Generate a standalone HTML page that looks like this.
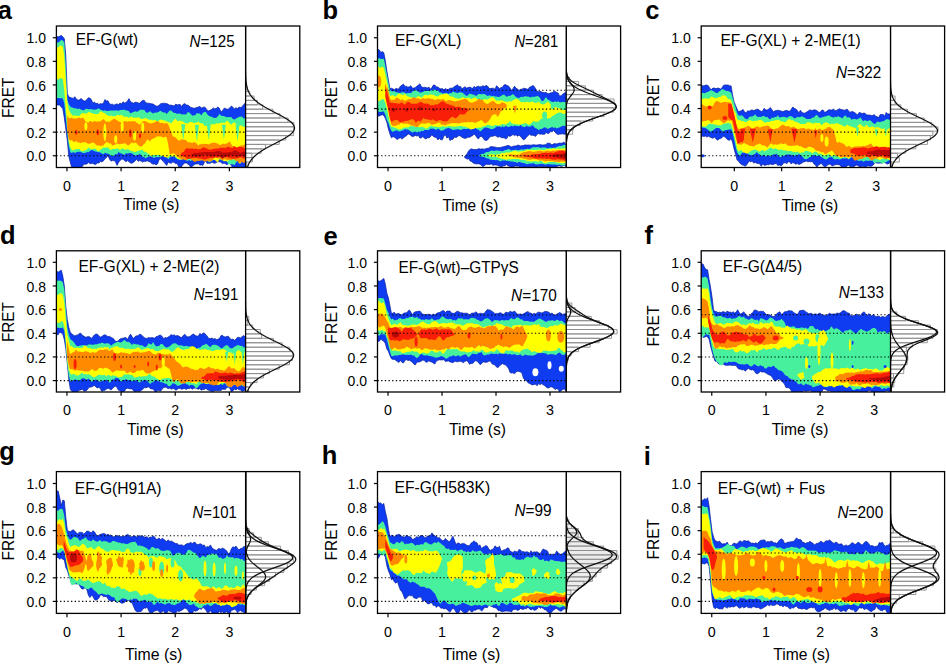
<!DOCTYPE html>
<html><head><meta charset="utf-8"><style>
html,body{margin:0;padding:0;background:#fff;overflow:hidden;}
svg{display:block;}
text{font-family:"Liberation Sans", sans-serif;font-size:15.5px;fill:#000;}
text.L{font-size:16.3px;}
</style></head><body>
<svg width="946" height="664" viewBox="0 0 946 664">
<rect width="946" height="664" fill="#fff"/>
<clipPath id="clipa"><rect x="56.4" y="26" width="189.2" height="141.5"/></clipPath>
<g clip-path="url(#clipa)">
<path d="M50.7,40.2 52.2,39.3 53.7,38.1 55.2,37.7 56.7,36.8 58.2,36.7 59.8,36.3 61.3,35.3 62.8,37.1 64.3,38.4 65.8,56.0 67.3,93.4 68.8,97.0 70.3,97.3 71.8,98.1 73.3,98.4 74.8,96.7 76.3,98.9 77.8,100.0 79.3,100.1 80.8,98.5 82.3,99.4 83.8,100.9 85.4,100.9 86.9,99.5 88.4,97.8 89.9,98.1 91.4,99.7 92.9,103.2 94.4,102.0 95.9,103.6 97.4,103.3 98.9,104.4 100.4,103.6 101.9,104.0 103.4,103.2 104.9,99.5 106.4,100.9 107.9,100.7 109.4,103.6 111.0,104.4 112.5,104.2 114.0,105.2 115.5,104.3 117.0,103.9 118.5,104.5 120.0,103.1 121.5,104.0 123.0,101.8 124.5,103.0 126.0,102.5 127.5,101.1 129.0,98.6 130.5,101.7 132.0,102.6 133.5,103.2 135.1,102.2 136.6,102.3 138.1,102.9 139.6,103.3 141.1,101.6 142.6,100.6 144.1,100.2 145.6,102.4 147.1,103.2 148.6,103.2 150.1,103.5 151.6,103.8 153.1,104.1 154.6,105.1 156.1,106.1 157.6,106.2 159.1,105.2 160.7,103.7 162.2,103.4 163.7,103.2 165.2,103.4 166.7,103.6 168.2,104.3 169.7,105.2 171.2,105.1 172.7,105.6 174.2,106.0 175.7,104.1 177.2,104.9 178.7,104.6 180.2,104.6 181.7,106.7 183.2,104.3 184.7,103.6 186.3,104.9 187.8,105.2 189.3,106.0 190.8,107.6 192.3,107.8 193.8,108.3 195.3,108.1 196.8,107.3 198.3,107.2 199.8,106.3 201.3,108.1 202.8,107.5 204.3,106.9 205.8,108.1 207.3,110.4 208.8,110.9 210.4,110.1 211.9,109.3 213.4,107.9 214.9,108.9 216.4,108.3 217.9,106.9 219.4,108.3 220.9,111.7 222.4,110.9 223.9,108.4 225.4,108.3 226.9,109.3 228.4,109.0 229.9,107.7 231.4,106.0 232.9,107.3 234.4,108.9 236.0,107.7 237.5,108.6 239.0,107.1 240.5,107.5 242.0,106.9 243.5,104.7 245.0,103.3 246.5,103.2 248.0,103.4 249.5,107.1 251.0,108.6 251.0,168.5 249.5,169.7 248.0,171.2 246.5,170.5 245.0,168.4 243.5,169.1 242.0,167.2 240.5,167.3 239.0,167.6 237.5,167.7 236.0,168.2 234.4,167.9 232.9,168.2 231.4,165.5 229.9,163.6 228.4,163.4 226.9,164.8 225.4,163.8 223.9,163.1 222.4,163.8 220.9,162.0 219.4,161.8 217.9,161.7 216.4,162.4 214.9,163.3 213.4,163.0 211.9,162.0 210.4,163.2 208.8,163.2 207.3,163.5 205.8,161.3 204.3,162.3 202.8,165.5 201.3,164.7 199.8,165.2 198.3,163.5 196.8,164.0 195.3,164.0 193.8,165.0 192.3,166.3 190.8,167.5 189.3,164.9 187.8,164.1 186.3,162.9 184.7,163.1 183.2,164.3 181.7,166.2 180.2,169.4 178.7,166.7 177.2,163.4 175.7,163.8 174.2,162.4 172.7,162.0 171.2,163.2 169.7,162.9 168.2,162.1 166.7,165.4 165.2,163.7 163.7,161.8 162.2,160.5 160.7,158.7 159.1,159.5 157.6,163.9 156.1,164.8 154.6,164.0 153.1,164.1 151.6,163.5 150.1,161.8 148.6,161.4 147.1,160.7 145.6,161.4 144.1,161.3 142.6,162.0 141.1,161.0 139.6,160.6 138.1,161.3 136.6,159.1 135.1,160.9 133.5,162.3 132.0,163.2 130.5,162.9 129.0,161.8 127.5,160.6 126.0,161.8 124.5,160.6 123.0,159.0 121.5,159.3 120.0,160.4 118.5,162.6 117.0,165.4 115.5,161.8 114.0,160.5 112.5,160.6 111.0,161.1 109.4,159.1 107.9,155.2 106.4,157.7 104.9,158.8 103.4,160.9 101.9,161.9 100.4,161.3 98.9,163.1 97.4,163.0 95.9,164.3 94.4,164.4 92.9,163.2 91.4,163.7 89.9,163.5 88.4,162.5 86.9,163.9 85.4,164.2 83.8,164.2 82.3,166.4 80.8,169.0 79.3,167.4 77.8,167.8 76.3,167.7 74.8,169.4 73.3,170.0 71.8,167.7 70.3,162.3 68.8,156.3 67.3,140.6 65.8,128.9 64.3,117.8 62.8,108.6 61.3,107.2 59.8,105.0 58.2,105.1 56.7,104.9 55.2,106.1 53.7,106.1 52.2,105.8 50.7,105.2Z" fill="#0f3cf0" stroke="#0a1e9c" stroke-width="0.7" stroke-linejoin="round"/>
<path d="M50.7,42.2 52.2,40.1 53.7,41.2 55.2,41.9 56.7,42.0 58.2,42.7 59.8,41.2 61.3,39.9 62.8,40.5 64.3,42.6 65.8,65.3 67.3,99.7 68.8,104.2 70.3,106.5 71.8,107.6 73.3,107.7 74.8,108.4 76.3,108.2 77.8,109.3 79.3,108.6 80.8,109.4 82.3,110.1 83.8,110.4 85.4,108.9 86.9,108.8 88.4,109.3 89.9,109.3 91.4,108.9 92.9,109.8 94.4,109.5 95.9,109.7 97.4,108.7 98.9,108.6 100.4,109.4 101.9,110.3 103.4,110.7 104.9,110.3 106.4,110.9 107.9,111.0 109.4,110.7 111.0,110.4 112.5,110.6 114.0,110.6 115.5,110.5 117.0,110.3 118.5,111.0 120.0,110.0 121.5,109.9 123.0,109.7 124.5,109.8 126.0,110.4 127.5,110.4 129.0,111.2 130.5,113.6 132.0,112.4 133.5,111.9 135.1,111.2 136.6,111.8 138.1,111.4 139.6,109.9 141.1,109.5 142.6,110.1 144.1,109.8 145.6,111.8 147.1,113.0 148.6,112.0 150.1,111.3 151.6,112.6 153.1,113.4 154.6,112.5 156.1,112.7 157.6,112.3 159.1,111.5 160.7,110.8 162.2,112.0 163.7,112.6 165.2,112.6 166.7,114.0 168.2,112.3 169.7,110.4 171.2,110.6 172.7,111.9 174.2,113.0 175.7,112.9 177.2,114.1 178.7,113.6 180.2,113.4 181.7,114.4 183.2,114.3 184.7,114.4 186.3,114.3 187.8,111.9 189.3,112.6 190.8,114.0 192.3,115.8 193.8,115.3 195.3,115.2 196.8,112.9 198.3,113.6 199.8,113.5 201.3,115.5 202.8,113.0 204.3,111.9 205.8,112.0 207.3,114.2 208.8,115.8 210.4,116.5 211.9,116.7 213.4,117.7 214.9,118.0 216.4,117.8 217.9,116.3 219.4,114.0 220.9,115.5 222.4,115.9 223.9,116.0 225.4,116.8 226.9,117.3 228.4,117.1 229.9,117.2 231.4,117.1 232.9,118.9 234.4,119.6 236.0,118.6 237.5,117.7 239.0,116.7 240.5,116.7 242.0,116.4 243.5,118.5 245.0,118.2 246.5,118.4 248.0,119.4 249.5,118.9 251.0,118.9 251.0,162.8 249.5,163.4 248.0,162.5 246.5,161.0 245.0,161.2 243.5,160.8 242.0,160.6 240.5,160.7 239.0,160.1 237.5,161.2 236.0,162.6 234.4,165.3 232.9,164.2 231.4,164.3 229.9,164.2 228.4,164.8 226.9,161.0 225.4,159.7 223.9,160.0 222.4,160.5 220.9,159.9 219.4,159.5 217.9,159.1 216.4,160.0 214.9,159.6 213.4,160.0 211.9,161.0 210.4,161.7 208.8,162.3 207.3,160.6 205.8,159.3 204.3,160.0 202.8,160.0 201.3,160.3 199.8,159.9 198.3,160.1 196.8,160.7 195.3,159.9 193.8,159.9 192.3,159.5 190.8,161.3 189.3,160.1 187.8,160.8 186.3,160.5 184.7,159.2 183.2,158.7 181.7,160.1 180.2,160.0 178.7,159.5 177.2,158.9 175.7,158.0 174.2,156.3 172.7,155.3 171.2,156.9 169.7,157.6 168.2,159.6 166.7,156.6 165.2,155.7 163.7,155.1 162.2,156.1 160.7,157.2 159.1,157.1 157.6,157.3 156.1,156.9 154.6,157.7 153.1,157.6 151.6,156.7 150.1,156.3 148.6,156.8 147.1,157.2 145.6,158.2 144.1,156.9 142.6,156.8 141.1,155.0 139.6,153.8 138.1,155.1 136.6,155.1 135.1,155.7 133.5,154.4 132.0,153.6 130.5,152.9 129.0,153.1 127.5,153.7 126.0,153.1 124.5,155.1 123.0,154.3 121.5,153.6 120.0,152.9 118.5,152.1 117.0,154.4 115.5,154.1 114.0,155.5 112.5,156.2 111.0,155.8 109.4,154.3 107.9,153.8 106.4,153.2 104.9,152.8 103.4,154.2 101.9,153.4 100.4,152.6 98.9,152.2 97.4,151.9 95.9,151.5 94.4,151.2 92.9,150.3 91.4,149.9 89.9,150.9 88.4,152.3 86.9,152.1 85.4,153.0 83.8,152.9 82.3,152.7 80.8,152.1 79.3,151.7 77.8,151.8 76.3,152.3 74.8,153.1 73.3,152.1 71.8,153.1 70.3,152.2 68.8,146.1 67.3,133.4 65.8,117.3 64.3,103.5 62.8,98.6 61.3,98.2 59.8,98.3 58.2,97.9 56.7,98.1 55.2,99.3 53.7,100.1 52.2,98.4 50.7,96.9Z" fill="#46f09c"/>
<path d="M50.7,49.1 52.2,49.7 53.7,49.0 55.2,48.6 56.7,47.6 58.2,47.2 59.8,45.4 61.3,45.8 62.8,46.8 64.3,56.9 65.8,80.6 67.3,102.1 68.8,109.6 70.3,112.8 71.8,114.6 73.3,115.9 74.8,115.2 76.3,115.6 77.8,116.1 79.3,116.0 80.8,114.2 82.3,113.1 83.8,113.2 85.4,113.5 86.9,113.6 88.4,112.1 89.9,112.3 91.4,112.9 92.9,113.5 94.4,113.9 95.9,114.1 97.4,114.2 98.9,113.4 100.4,111.2 101.9,111.7 103.4,112.7 104.9,113.2 106.4,114.7 107.9,115.6 109.4,116.1 111.0,115.5 112.5,116.2 114.0,116.1 115.5,116.5 117.0,114.8 118.5,115.2 120.0,115.4 121.5,114.6 123.0,116.2 124.5,116.8 126.0,116.8 127.5,116.9 129.0,117.8 130.5,117.0 132.0,116.5 133.5,117.9 135.1,117.4 136.6,117.7 138.1,117.3 139.6,117.7 141.1,119.2 142.6,118.8 144.1,118.6 145.6,117.8 147.1,118.7 148.6,119.6 150.1,120.0 151.6,119.5 153.1,120.5 154.6,119.9 156.1,120.3 157.6,121.9 159.1,120.3 160.7,119.4 162.2,120.1 163.7,120.5 165.2,120.6 166.7,121.6 168.2,121.9 169.7,122.5 171.2,123.4 172.7,121.5 174.2,119.7 175.7,118.5 177.2,121.2 178.7,121.1 180.2,120.6 181.7,121.3 183.2,121.4 184.7,122.9 186.3,123.2 187.8,123.5 189.3,122.6 190.8,121.8 192.3,122.6 193.8,122.8 195.3,123.0 196.8,122.6 198.3,121.5 199.8,123.0 201.3,123.3 202.8,123.2 204.3,125.5 205.8,126.1 207.3,125.4 208.8,125.8 210.4,123.9 211.9,124.8 213.4,124.1 214.9,124.4 216.4,122.7 217.9,123.9 219.4,122.9 220.9,122.7 222.4,122.8 223.9,122.8 225.4,122.4 226.9,120.6 228.4,121.7 229.9,123.8 231.4,124.7 232.9,123.1 234.4,122.3 236.0,124.0 237.5,125.5 239.0,125.6 240.5,125.6 242.0,125.4 243.5,127.0 245.0,126.5 246.5,125.6 248.0,125.3 249.5,124.9 251.0,125.4 251.0,160.6 249.5,160.5 248.0,159.7 246.5,160.0 245.0,160.9 243.5,160.7 242.0,160.8 240.5,163.5 239.0,163.5 237.5,160.3 236.0,158.7 234.4,159.1 232.9,159.5 231.4,158.9 229.9,158.9 228.4,160.7 226.9,161.5 225.4,161.1 223.9,161.5 222.4,159.3 220.9,159.3 219.4,159.0 217.9,162.4 216.4,161.4 214.9,160.0 213.4,159.7 211.9,159.3 210.4,158.9 208.8,158.4 207.3,157.5 205.8,157.9 204.3,156.8 202.8,156.2 201.3,155.7 199.8,156.4 198.3,156.9 196.8,157.6 195.3,157.4 193.8,156.8 192.3,156.1 190.8,156.9 189.3,157.8 187.8,157.8 186.3,157.3 184.7,157.4 183.2,158.2 181.7,158.3 180.2,159.6 178.7,159.1 177.2,158.4 175.7,156.4 174.2,156.0 172.7,156.8 171.2,155.5 169.7,155.7 168.2,157.6 166.7,157.6 165.2,157.3 163.7,156.6 162.2,155.7 160.7,155.7 159.1,154.8 157.6,154.9 156.1,155.1 154.6,155.0 153.1,154.9 151.6,156.4 150.1,155.1 148.6,153.8 147.1,153.2 145.6,151.3 144.1,152.0 142.6,149.8 141.1,150.1 139.6,150.5 138.1,150.7 136.6,151.5 135.1,152.0 133.5,151.7 132.0,150.8 130.5,151.0 129.0,149.6 127.5,149.2 126.0,149.4 124.5,149.5 123.0,148.7 121.5,148.5 120.0,150.4 118.5,148.6 117.0,148.6 115.5,148.9 114.0,149.1 112.5,149.1 111.0,150.2 109.4,149.1 107.9,147.2 106.4,147.4 104.9,147.7 103.4,147.6 101.9,148.8 100.4,149.6 98.9,151.4 97.4,150.7 95.9,149.1 94.4,148.5 92.9,149.1 91.4,149.6 89.9,148.5 88.4,147.6 86.9,149.4 85.4,150.3 83.8,150.9 82.3,151.3 80.8,150.5 79.3,149.0 77.8,149.1 76.3,148.9 74.8,149.5 73.3,150.7 71.8,149.6 70.3,147.7 68.8,141.3 67.3,124.7 65.8,108.4 64.3,90.9 62.8,78.4 61.3,78.4 59.8,77.9 58.2,79.7 56.7,78.7 55.2,77.8 53.7,80.0 52.2,79.4 50.7,80.8Z" fill="#ffff00"/>
<path d="M67.2,115.3 68.7,118.1 70.2,118.3 71.7,117.6 73.3,118.7 74.8,118.4 76.3,118.5 77.8,117.9 79.3,117.6 80.8,118.6 82.3,117.7 83.8,118.4 85.3,121.3 86.8,122.0 88.3,122.7 89.8,120.9 91.3,121.2 92.8,122.3 94.3,120.7 95.8,121.4 97.4,121.5 98.9,121.4 100.4,121.2 101.9,120.2 103.4,119.1 104.9,120.5 106.4,121.9 107.9,121.6 109.4,122.0 110.9,120.8 112.4,119.7 113.9,118.4 115.4,119.2 116.9,120.3 118.4,120.9 120.0,122.3 121.5,121.7 123.0,122.0 124.5,121.2 126.0,121.0 127.5,121.9 129.0,121.1 130.5,121.4 132.0,121.2 133.5,121.2 135.0,121.3 136.5,122.4 138.0,123.4 139.5,124.7 141.0,123.6 142.5,121.5 144.1,120.9 145.6,121.3 147.1,122.0 148.6,122.7 150.1,123.2 151.6,123.6 153.1,122.7 154.6,122.4 156.1,121.3 157.6,121.2 159.1,122.2 160.6,123.1 162.1,122.7 163.6,123.3 165.1,123.4 166.7,122.8 168.2,124.6 169.7,128.3 171.2,132.0 172.7,136.2 174.2,136.7 175.7,137.4 177.2,139.3 178.7,140.4 180.2,140.2 181.7,139.1 183.2,139.7 184.7,139.7 186.2,140.3 187.7,142.2 189.2,142.3 190.8,142.5 192.3,142.9 193.8,142.1 195.3,142.4 196.8,143.6 198.3,145.7 199.8,143.9 201.3,144.6 202.8,143.7 204.3,144.1 205.8,143.8 207.3,144.0 208.8,144.4 210.3,143.5 211.8,142.9 213.4,142.4 214.9,142.8 216.4,143.2 217.9,143.6 219.4,145.0 220.9,144.7 222.4,143.7 223.9,143.8 225.4,144.0 226.9,143.2 228.4,142.5 229.9,141.2 231.4,144.5 232.9,146.3 234.4,145.8 235.9,147.7 237.5,147.9 239.0,146.8 240.5,145.5 242.0,145.3 243.5,145.2 245.0,144.1 246.5,144.2 248.0,143.3 249.5,144.5 251.0,144.4 251.0,157.7 249.5,159.5 248.0,161.1 246.5,161.9 245.0,162.5 243.5,162.9 242.0,161.9 240.5,162.2 239.0,162.9 237.5,160.8 235.9,161.1 234.4,159.8 232.9,158.8 231.4,160.2 229.9,160.1 228.4,160.0 226.9,160.3 225.4,159.2 223.9,159.4 222.4,160.4 220.9,159.5 219.4,158.6 217.9,158.3 216.4,157.6 214.9,157.6 213.4,158.9 211.8,160.7 210.3,161.5 208.8,161.2 207.3,160.8 205.8,161.8 204.3,161.6 202.8,160.5 201.3,160.3 199.8,160.8 198.3,161.0 196.8,160.7 195.3,161.9 193.8,161.5 192.3,160.2 190.8,159.2 189.2,158.6 187.7,159.4 186.2,160.3 184.7,160.1 183.2,159.3 181.7,159.8 180.2,158.4 178.7,157.2 177.2,156.5 175.7,154.8 174.2,153.5 172.7,153.6 171.2,154.1 169.7,154.4 168.2,144.8 166.7,137.5 165.1,136.7 163.6,137.8 162.1,137.0 160.6,136.5 159.1,136.6 157.6,136.3 156.1,137.0 154.6,138.2 153.1,138.5 151.6,139.3 150.1,141.4 148.6,140.2 147.1,139.6 145.6,142.6 144.1,143.9 142.5,145.8 141.0,146.5 139.5,146.4 138.0,144.9 136.5,143.3 135.0,142.4 133.5,143.3 132.0,142.4 130.5,143.5 129.0,145.2 127.5,145.2 126.0,144.1 124.5,143.1 123.0,144.0 121.5,143.7 120.0,144.3 118.4,144.0 116.9,143.3 115.4,144.7 113.9,144.7 112.4,145.7 110.9,143.6 109.4,143.6 107.9,142.6 106.4,142.0 104.9,143.4 103.4,145.4 101.9,145.6 100.4,146.2 98.9,145.2 97.4,145.8 95.8,144.5 94.3,143.1 92.8,142.5 91.3,143.0 89.8,143.8 88.3,143.8 86.8,143.2 85.3,142.0 83.8,142.4 82.3,142.2 80.8,143.3 79.3,142.5 77.8,142.5 76.3,141.1 74.8,142.0 73.3,141.8 71.7,140.1 70.2,140.7 68.7,139.0 67.2,130.5Z" fill="#ff8a00"/>
<ellipse cx="104.9" cy="132.2" rx="1.5" ry="9.0" fill="#ffff00"/>
<ellipse cx="122.2" cy="126.2" rx="1.5" ry="6.0" fill="#ffff00"/>
<ellipse cx="134.6" cy="135.7" rx="1.5" ry="5.0" fill="#ffff00"/>
<path d="M180.6,154.3 182.2,152.6 183.7,151.8 185.2,149.6 186.8,148.1 188.3,148.6 189.8,148.7 191.3,148.4 192.9,148.6 194.4,149.2 195.9,148.3 197.5,149.6 199.0,149.1 200.5,149.2 202.1,148.1 203.6,147.2 205.1,147.9 206.6,148.3 208.2,149.4 209.7,149.4 211.2,149.8 212.8,149.0 214.3,148.8 215.8,148.4 217.4,148.4 218.9,148.5 220.4,147.2 221.9,148.2 223.5,147.6 225.0,148.1 226.5,147.6 228.1,146.6 229.6,147.3 231.1,147.8 232.7,148.0 234.2,146.3 235.7,147.0 237.2,147.6 238.8,146.5 240.3,146.9 241.8,147.0 243.4,147.5 244.9,148.6 246.4,148.3 248.0,148.8 249.5,148.3 251.0,148.6 251.0,157.8 249.5,157.4 248.0,158.3 246.4,158.9 244.9,158.4 243.4,158.5 241.8,157.5 240.3,157.1 238.8,157.9 237.2,158.3 235.7,158.6 234.2,158.6 232.7,159.1 231.1,158.5 229.6,158.0 228.1,157.8 226.5,157.2 225.0,156.1 223.5,155.8 221.9,156.3 220.4,156.8 218.9,156.7 217.4,158.0 215.8,157.2 214.3,157.5 212.8,157.9 211.2,157.9 209.7,158.1 208.2,158.6 206.6,159.1 205.1,159.5 203.6,159.4 202.1,158.9 200.5,158.5 199.0,158.5 197.5,158.2 195.9,157.8 194.4,158.0 192.9,158.1 191.3,158.6 189.8,158.5 188.3,158.9 186.8,158.5 185.2,157.1 183.7,156.7 182.2,155.9 180.6,155.6Z" fill="#f81e08"/>
<path d="M191.5,153.8 193.0,153.8 194.5,152.8 196.0,153.0 197.6,152.9 199.1,152.4 200.6,152.4 202.2,152.2 203.7,151.9 205.2,151.9 206.7,152.1 208.3,152.1 209.8,152.3 211.3,152.0 212.8,152.3 214.4,151.9 215.9,151.5 217.4,150.9 218.9,150.9 220.5,151.3 222.0,152.7 223.5,152.6 225.1,152.6 226.6,152.6 228.1,152.6 229.6,151.8 231.2,152.4 232.7,151.4 234.2,150.6 235.7,150.6 237.3,151.3 238.8,152.1 240.3,152.7 241.9,152.5 243.4,151.4 244.9,151.8 246.4,151.8 248.0,151.2 249.5,150.9 251.0,151.2 251.0,156.4 249.5,156.5 248.0,155.8 246.4,156.0 244.9,156.5 243.4,156.1 241.9,155.9 240.3,155.9 238.8,156.1 237.3,157.6 235.7,156.2 234.2,155.7 232.7,155.6 231.2,155.4 229.6,155.8 228.1,156.3 226.6,156.3 225.1,157.1 223.5,158.0 222.0,158.7 220.5,157.1 218.9,156.0 217.4,155.5 215.9,155.5 214.4,155.9 212.8,155.9 211.3,156.1 209.8,156.0 208.3,155.5 206.7,155.3 205.2,154.8 203.7,154.8 202.2,155.2 200.6,156.3 199.1,156.3 197.6,156.6 196.0,156.8 194.5,156.8 193.0,155.9 191.5,155.7Z" fill="#b80808"/>
<ellipse cx="76.2" cy="132.2" rx="1.2" ry="2.5" fill="#f81e08"/>
<ellipse cx="97.8" cy="132.2" rx="1.2" ry="3.0" fill="#f81e08"/>
<ellipse cx="130.3" cy="133.3" rx="1.2" ry="4.0" fill="#f81e08"/>
<ellipse cx="140.0" cy="135.7" rx="1.2" ry="2.5" fill="#f81e08"/>
<path d="M181.3,124.2 L185.3,124.2 L183.3,140.2Z" fill="#46f09c"/>
<path d="M194.9,124.8 L198.9,124.8 L196.9,141.8Z" fill="#46f09c"/>
<path d="M206.8,124.2 L210.8,124.2 L208.8,140.2Z" fill="#46f09c"/>
<path d="M221.9,124.7 L225.9,124.7 L223.9,139.7Z" fill="#46f09c"/>
<path d="M235.5,124.8 L239.5,124.8 L237.5,141.8Z" fill="#46f09c"/>
<ellipse cx="85.9" cy="126.2" rx="1.5" ry="4.0" fill="#ffff00"/>
<ellipse cx="115.7" cy="139.2" rx="1.5" ry="4.0" fill="#ffff00"/>
<ellipse cx="142.7" cy="127.4" rx="1.5" ry="5.0" fill="#ffff00"/>
</g>
<clipPath id="clipb"><rect x="377.5" y="26" width="188.7" height="141.5"/></clipPath>
<g clip-path="url(#clipb)">
<path d="M371.8,49.4 373.3,47.5 374.8,48.6 376.3,48.5 377.8,49.5 379.3,49.9 380.8,52.5 382.3,51.6 383.8,52.7 385.3,60.4 386.9,71.2 388.4,79.8 389.9,88.6 391.4,88.2 392.9,88.8 394.4,89.8 395.9,88.3 397.4,89.0 398.9,88.7 400.4,86.2 401.9,85.3 403.4,84.1 404.9,86.4 406.4,86.2 407.9,87.2 409.4,86.8 410.9,85.7 412.4,88.2 413.9,88.1 415.4,87.4 416.9,86.2 418.4,85.1 419.9,83.8 421.4,86.7 422.9,87.5 424.4,87.2 425.9,87.6 427.4,87.9 428.9,87.1 430.4,89.2 431.9,87.5 433.4,85.1 434.9,85.1 436.4,86.9 437.9,87.0 439.4,88.3 440.9,88.9 442.4,88.4 443.9,89.9 445.4,88.5 446.9,89.5 448.4,89.4 449.9,88.2 451.4,88.2 452.9,87.9 454.4,86.6 455.9,85.8 457.4,84.7 458.9,86.6 460.4,86.4 462.0,88.7 463.5,87.7 465.0,86.7 466.5,88.0 468.0,87.7 469.5,87.1 471.0,87.7 472.5,88.6 474.0,86.4 475.5,87.5 477.0,86.6 478.5,86.2 480.0,87.0 481.5,86.4 483.0,85.8 484.5,86.4 486.0,85.5 487.5,86.0 489.0,88.2 490.5,88.6 492.0,88.3 493.5,88.2 495.0,89.3 496.5,85.7 498.0,87.0 499.5,88.7 501.0,87.6 502.5,87.3 504.0,85.0 505.5,84.6 507.0,85.5 508.5,86.0 510.0,88.1 511.5,90.2 513.0,88.8 514.5,86.1 516.0,88.3 517.5,88.9 519.0,90.4 520.5,89.3 522.0,89.2 523.5,88.2 525.0,88.6 526.5,88.8 528.0,89.5 529.5,87.2 531.0,86.7 532.5,85.5 534.0,86.3 535.6,88.7 537.1,91.3 538.6,91.7 540.1,91.1 541.6,92.1 543.1,92.5 544.6,92.6 546.1,92.6 547.6,93.4 549.1,93.8 550.6,92.8 552.1,92.8 553.6,91.4 555.1,91.4 556.6,92.4 558.1,92.9 559.6,96.2 561.1,95.7 562.6,94.2 564.1,93.3 565.6,92.2 567.1,93.2 568.6,96.1 570.1,97.2 571.6,96.6 571.6,134.4 570.1,135.2 568.6,135.1 567.1,134.3 565.6,134.0 564.1,134.3 562.6,133.7 561.1,134.1 559.6,134.1 558.1,134.6 556.6,133.8 555.1,132.4 553.6,130.3 552.1,131.8 550.6,131.5 549.1,133.2 547.6,133.5 546.1,132.5 544.6,134.3 543.1,134.3 541.6,134.1 540.1,134.2 538.6,133.6 537.1,134.3 535.6,136.4 534.0,135.5 532.5,135.2 531.0,135.3 529.5,134.3 528.0,135.6 526.5,137.3 525.0,139.0 523.5,140.0 522.0,138.2 520.5,136.5 519.0,135.1 517.5,136.3 516.0,134.7 514.5,135.6 513.0,134.5 511.5,135.4 510.0,136.4 508.5,135.5 507.0,138.2 505.5,138.8 504.0,137.7 502.5,137.8 501.0,137.5 499.5,136.5 498.0,137.3 496.5,136.3 495.0,135.5 493.5,136.1 492.0,136.3 490.5,136.6 489.0,138.1 487.5,140.0 486.0,140.5 484.5,140.1 483.0,137.8 481.5,136.4 480.0,136.4 478.5,138.9 477.0,137.7 475.5,135.4 474.0,134.0 472.5,135.8 471.0,136.3 469.5,137.4 468.0,137.0 466.5,138.0 465.0,138.4 463.5,138.0 462.0,137.2 460.4,136.1 458.9,135.4 457.4,136.9 455.9,137.5 454.4,137.0 452.9,139.4 451.4,139.4 449.9,140.4 448.4,136.4 446.9,138.2 445.4,134.8 443.9,136.1 442.4,139.8 440.9,139.8 439.4,138.4 437.9,139.9 436.4,137.4 434.9,137.2 433.4,136.5 431.9,134.7 430.4,136.8 428.9,137.9 427.4,137.8 425.9,138.9 424.4,138.2 422.9,136.6 421.4,137.8 419.9,138.1 418.4,135.4 416.9,136.1 415.4,135.4 413.9,136.2 412.4,136.6 410.9,135.7 409.4,134.2 407.9,133.9 406.4,135.9 404.9,136.6 403.4,138.1 401.9,139.1 400.4,137.7 398.9,138.3 397.4,139.5 395.9,138.6 394.4,137.1 392.9,136.7 391.4,137.8 389.9,133.9 388.4,129.0 386.9,122.6 385.3,118.3 383.8,115.4 382.3,114.7 380.8,115.2 379.3,116.0 377.8,115.9 376.3,116.5 374.8,116.7 373.3,117.8 371.8,118.7Z" fill="#0f3cf0" stroke="#0a1e9c" stroke-width="0.7" stroke-linejoin="round"/>
<path d="M371.8,57.3 373.3,58.9 374.8,58.3 376.3,58.6 377.8,58.7 379.3,58.3 380.8,59.1 382.3,59.1 383.8,58.7 385.3,66.0 386.9,74.5 388.4,82.6 389.9,89.8 391.4,91.2 392.9,91.4 394.4,91.1 395.9,92.4 397.4,92.3 398.9,92.9 400.4,92.7 401.9,92.5 403.4,92.0 404.9,92.9 406.4,93.4 407.9,93.1 409.4,93.1 410.9,93.2 412.4,91.6 413.9,90.7 415.4,89.5 416.9,90.9 418.4,91.6 419.9,92.7 421.4,92.5 422.9,92.1 424.4,91.0 425.9,90.8 427.4,91.0 428.9,91.1 430.4,90.8 431.9,90.3 433.4,89.5 434.9,89.8 436.4,90.3 437.9,90.5 439.4,92.6 440.9,92.6 442.4,93.6 443.9,93.6 445.4,93.3 446.9,93.1 448.4,93.9 449.9,92.9 451.4,93.3 452.9,91.4 454.4,92.3 455.9,92.5 457.4,93.2 458.9,92.6 460.4,92.2 462.0,92.5 463.5,93.5 465.0,94.7 466.5,96.0 468.0,95.2 469.5,93.4 471.0,94.0 472.5,94.5 474.0,94.7 475.5,95.8 477.0,95.6 478.5,94.0 480.0,94.1 481.5,94.3 483.0,94.1 484.5,93.9 486.0,94.9 487.5,95.9 489.0,95.5 490.5,95.4 492.0,96.2 493.5,95.8 495.0,96.4 496.5,96.6 498.0,97.0 499.5,96.7 501.0,96.0 502.5,95.0 504.0,94.4 505.5,95.7 507.0,96.9 508.5,95.8 510.0,96.1 511.5,95.0 513.0,94.0 514.5,95.5 516.0,96.9 517.5,97.8 519.0,97.9 520.5,97.1 522.0,96.8 523.5,97.1 525.0,96.0 526.5,96.5 528.0,96.6 529.5,97.1 531.0,97.6 532.5,96.4 534.0,96.9 535.6,96.6 537.1,95.9 538.6,96.6 540.1,98.1 541.6,101.1 543.1,101.1 544.6,99.1 546.1,97.0 547.6,99.4 549.1,100.1 550.6,101.2 552.1,102.0 553.6,102.0 555.1,101.2 556.6,101.9 558.1,101.3 559.6,102.3 561.1,102.3 562.6,102.0 564.1,102.0 565.6,102.3 567.1,101.9 568.6,101.9 570.1,101.8 571.6,102.4 571.6,127.2 570.1,126.4 568.6,126.3 567.1,125.9 565.6,126.6 564.1,125.4 562.6,126.1 561.1,126.4 559.6,127.5 558.1,127.7 556.6,128.4 555.1,127.2 553.6,127.9 552.1,126.8 550.6,127.8 549.1,128.3 547.6,129.0 546.1,127.7 544.6,127.2 543.1,128.1 541.6,128.9 540.1,129.1 538.6,130.3 537.1,128.7 535.6,128.2 534.0,127.0 532.5,125.1 531.0,126.4 529.5,126.6 528.0,126.8 526.5,125.4 525.0,127.2 523.5,126.7 522.0,126.5 520.5,124.8 519.0,126.4 517.5,126.1 516.0,126.1 514.5,125.4 513.0,126.5 511.5,125.8 510.0,126.4 508.5,126.9 507.0,126.4 505.5,125.7 504.0,127.4 502.5,126.0 501.0,127.4 499.5,126.3 498.0,126.5 496.5,126.6 495.0,127.9 493.5,128.8 492.0,129.3 490.5,129.0 489.0,128.3 487.5,127.8 486.0,127.5 484.5,127.7 483.0,128.9 481.5,130.6 480.0,131.5 478.5,129.4 477.0,129.4 475.5,127.8 474.0,126.7 472.5,128.2 471.0,128.3 469.5,128.7 468.0,128.7 466.5,129.1 465.0,129.0 463.5,128.7 462.0,129.5 460.4,130.1 458.9,129.4 457.4,129.0 455.9,129.8 454.4,129.5 452.9,130.3 451.4,128.9 449.9,128.4 448.4,127.7 446.9,128.5 445.4,128.8 443.9,130.0 442.4,130.6 440.9,130.8 439.4,129.5 437.9,128.6 436.4,129.9 434.9,129.3 433.4,128.5 431.9,128.8 430.4,128.5 428.9,130.0 427.4,130.0 425.9,129.9 424.4,130.0 422.9,131.3 421.4,130.8 419.9,132.1 418.4,131.4 416.9,132.6 415.4,131.6 413.9,131.7 412.4,132.4 410.9,131.5 409.4,130.6 407.9,129.4 406.4,129.4 404.9,129.0 403.4,130.3 401.9,130.5 400.4,131.2 398.9,131.4 397.4,130.5 395.9,130.6 394.4,131.0 392.9,132.0 391.4,130.8 389.9,127.8 388.4,122.9 386.9,120.0 385.3,114.5 383.8,111.4 382.3,111.5 380.8,112.0 379.3,112.0 377.8,110.7 376.3,110.6 374.8,111.3 373.3,111.8 371.8,111.4Z" fill="#46f09c"/>
<path d="M371.8,66.3 373.3,65.5 374.8,65.3 376.3,64.9 377.8,65.5 379.3,67.7 380.8,67.4 382.3,66.7 383.8,67.9 385.3,74.6 386.9,81.5 388.4,89.0 389.9,96.1 391.4,95.8 392.9,95.0 394.4,96.3 395.9,96.8 397.4,94.7 398.9,93.6 400.4,94.3 401.9,94.5 403.4,95.3 404.9,93.3 406.4,95.7 407.9,96.5 409.4,96.7 410.9,97.4 412.4,97.2 413.9,98.6 415.4,98.2 416.9,97.0 418.4,95.9 419.9,96.8 421.4,97.7 422.9,96.6 424.4,95.0 425.9,94.8 427.4,95.5 428.9,95.1 430.4,94.2 431.9,94.7 433.4,94.8 434.9,95.8 436.4,96.2 437.9,96.4 439.4,95.2 440.9,94.4 442.4,94.4 443.9,93.7 445.4,93.7 446.9,93.8 448.4,94.6 449.9,95.9 451.4,96.8 452.9,96.5 454.4,97.8 455.9,98.2 457.4,98.5 458.9,98.8 460.4,98.5 462.0,97.2 463.5,97.5 465.0,98.2 466.5,98.1 468.0,97.7 469.5,97.7 471.0,99.2 472.5,98.6 474.0,97.7 475.5,97.5 477.0,98.9 478.5,99.9 480.0,100.3 481.5,100.9 483.0,99.8 484.5,99.1 486.0,99.5 487.5,99.4 489.0,98.6 490.5,98.1 492.0,97.1 493.5,97.7 495.0,99.2 496.5,100.9 498.0,100.3 499.5,100.9 501.0,100.0 502.5,100.6 504.0,101.2 505.5,101.6 507.0,102.1 508.5,101.6 510.0,101.3 511.5,101.4 513.0,100.3 514.5,99.5 516.0,98.7 517.5,99.1 519.0,99.9 520.5,101.7 522.0,102.2 523.5,102.0 525.0,102.2 526.5,102.0 528.0,101.8 529.5,102.6 531.0,102.0 532.5,101.5 534.0,102.6 535.6,103.1 537.1,102.8 538.6,101.5 540.1,103.5 541.6,103.9 543.1,104.6 544.6,104.1 546.1,103.0 547.6,101.5 549.1,102.7 550.6,104.4 552.1,106.0 553.6,106.5 555.1,107.0 556.6,107.4 558.1,107.8 559.6,108.4 561.1,108.8 562.6,110.0 564.1,110.1 565.6,110.0 567.1,109.4 568.6,109.3 570.1,110.2 571.6,111.3 571.6,111.8 570.1,110.5 568.6,111.2 567.1,111.6 565.6,113.6 564.1,114.0 562.6,113.8 561.1,112.5 559.6,112.6 558.1,112.7 556.6,113.6 555.1,114.6 553.6,115.5 552.1,116.3 550.6,117.7 549.1,118.3 547.6,118.4 546.1,117.4 544.6,118.0 543.1,118.5 541.6,118.8 540.1,119.5 538.6,121.8 537.1,121.6 535.6,121.9 534.0,120.9 532.5,121.9 531.0,123.5 529.5,124.7 528.0,124.5 526.5,123.2 525.0,123.0 523.5,123.8 522.0,123.8 520.5,124.7 519.0,124.8 517.5,124.1 516.0,124.6 514.5,123.8 513.0,123.9 511.5,123.3 510.0,121.1 508.5,122.9 507.0,123.6 505.5,124.7 504.0,124.1 502.5,124.1 501.0,124.8 499.5,125.2 498.0,125.7 496.5,124.9 495.0,124.8 493.5,126.2 492.0,125.6 490.5,125.7 489.0,124.8 487.5,124.7 486.0,125.7 484.5,126.2 483.0,126.2 481.5,127.4 480.0,127.8 478.5,127.4 477.0,127.9 475.5,127.7 474.0,128.9 472.5,129.0 471.0,129.7 469.5,128.8 468.0,127.6 466.5,127.6 465.0,126.6 463.5,126.7 462.0,126.0 460.4,126.0 458.9,126.3 457.4,126.3 455.9,126.8 454.4,126.5 452.9,126.6 451.4,126.7 449.9,126.0 448.4,126.3 446.9,126.5 445.4,126.7 443.9,126.4 442.4,126.2 440.9,127.1 439.4,127.3 437.9,126.9 436.4,126.9 434.9,126.3 433.4,126.9 431.9,125.7 430.4,126.0 428.9,126.9 427.4,128.2 425.9,128.7 424.4,127.6 422.9,127.2 421.4,126.4 419.9,127.4 418.4,127.1 416.9,126.5 415.4,127.3 413.9,126.1 412.4,126.4 410.9,125.4 409.4,127.0 407.9,127.4 406.4,127.3 404.9,128.0 403.4,127.2 401.9,129.3 400.4,129.2 398.9,129.4 397.4,128.8 395.9,128.0 394.4,127.6 392.9,126.9 391.4,126.9 389.9,123.4 388.4,116.1 386.9,109.1 385.3,102.7 383.8,99.6 382.3,99.1 380.8,99.9 379.3,100.9 377.8,101.5 376.3,100.8 374.8,102.2 373.3,102.5 371.8,100.8Z" fill="#ffff00"/>
<ellipse cx="544.6" cy="115.6" rx="2.5" ry="4.0" fill="#46f09c"/>
<ellipse cx="552.7" cy="106.2" rx="2.0" ry="3.0" fill="#46f09c"/>
<ellipse cx="558.1" cy="116.8" rx="3.0" ry="3.0" fill="#46f09c"/>
<ellipse cx="378.8" cy="81.4" rx="2.5" ry="6.0" fill="#ff8a00"/>
<path d="M386.9,85.2 388.5,91.8 390.0,98.6 391.5,100.2 393.0,99.7 394.5,99.8 396.1,97.7 397.6,97.8 399.1,98.7 400.6,100.2 402.1,98.8 403.6,100.2 405.2,100.7 406.7,99.9 408.2,99.2 409.7,98.7 411.2,98.9 412.7,97.6 414.3,97.3 415.8,98.3 417.3,98.5 418.8,98.2 420.3,99.4 421.8,98.6 423.4,98.3 424.9,98.8 426.4,98.5 427.9,98.3 429.4,98.2 430.9,99.1 432.5,98.8 434.0,99.8 435.5,99.9 437.0,99.3 438.5,98.9 440.1,99.4 441.6,99.5 443.1,98.8 444.6,100.0 446.1,101.3 447.6,100.3 449.2,100.0 450.7,100.2 452.2,100.9 453.7,101.0 455.2,101.7 456.7,101.0 458.3,100.7 459.8,100.4 461.3,99.7 462.8,99.4 464.3,98.8 465.8,98.8 467.4,99.7 468.9,101.7 470.4,102.4 471.9,102.8 473.4,102.3 474.9,101.5 476.5,100.9 478.0,99.5 479.5,98.5 481.0,99.9 482.5,99.6 484.1,102.1 485.6,103.3 487.1,104.0 488.6,103.4 490.1,102.0 491.6,101.6 493.2,100.7 494.7,102.0 496.2,103.6 497.7,103.9 499.2,104.0 500.7,103.5 502.3,101.9 503.8,102.9 505.3,103.4 506.8,104.9 506.8,107.2 505.3,108.2 503.8,108.2 502.3,110.9 500.7,111.2 499.2,114.8 497.7,116.9 496.2,114.8 494.7,114.2 493.2,114.7 491.6,116.1 490.1,119.3 488.6,120.9 487.1,122.2 485.6,123.4 484.1,123.1 482.5,121.0 481.0,120.1 479.5,121.3 478.0,121.6 476.5,122.5 474.9,122.9 473.4,122.3 471.9,122.0 470.4,122.3 468.9,122.2 467.4,122.1 465.8,122.7 464.3,121.9 462.8,122.7 461.3,122.6 459.8,123.6 458.3,123.5 456.7,123.2 455.2,123.2 453.7,123.1 452.2,123.4 450.7,123.1 449.2,124.1 447.6,124.2 446.1,124.9 444.6,125.5 443.1,124.5 441.6,125.1 440.1,123.1 438.5,122.4 437.0,123.4 435.5,124.1 434.0,123.9 432.5,124.7 430.9,124.5 429.4,123.1 427.9,122.7 426.4,123.5 424.9,123.8 423.4,123.4 421.8,123.4 420.3,124.1 418.8,125.7 417.3,127.0 415.8,126.9 414.3,126.0 412.7,125.6 411.2,125.5 409.7,124.4 408.2,123.9 406.7,123.6 405.2,123.7 403.6,123.8 402.1,123.3 400.6,123.0 399.1,124.8 397.6,124.5 396.1,125.9 394.5,125.8 393.0,125.9 391.5,124.7 390.0,118.2 388.5,105.5 386.9,94.9Z" fill="#ff8a00"/>
<path d="M512.9,105.7 L516.9,105.7 L514.9,113.7Z" fill="#ff8a00"/>
<path d="M385.3,83.4 386.9,90.5 388.4,96.7 389.9,102.4 391.4,102.8 392.9,102.7 394.5,103.3 396.0,103.1 397.5,103.6 399.0,103.7 400.5,102.9 402.1,102.2 403.6,104.1 405.1,104.4 406.6,102.5 408.2,101.7 409.7,102.6 411.2,103.7 412.7,103.8 414.2,103.8 415.8,103.8 417.3,103.4 418.8,102.8 420.3,101.8 421.8,102.3 423.4,103.3 424.9,103.8 426.4,103.5 427.9,103.8 429.5,104.6 431.0,105.4 432.5,104.7 434.0,105.4 435.5,103.9 437.1,104.7 438.6,103.7 440.1,102.6 441.6,101.6 443.1,101.3 444.7,102.3 446.2,103.5 447.7,104.1 449.2,104.4 450.8,105.1 452.3,105.4 453.8,105.9 455.3,106.9 456.8,107.1 458.4,106.5 459.9,107.0 461.4,107.7 462.9,108.3 464.5,107.8 466.0,108.0 467.5,109.0 469.0,109.5 469.0,110.0 467.5,111.2 466.0,112.7 464.5,114.5 462.9,114.4 461.4,114.2 459.9,114.2 458.4,116.1 456.8,117.5 455.3,118.6 453.8,117.3 452.3,116.8 450.8,117.5 449.2,119.0 447.7,120.9 446.2,121.5 444.7,121.3 443.1,121.6 441.6,120.4 440.1,119.9 438.6,120.3 437.1,121.4 435.5,120.9 434.0,120.0 432.5,119.2 431.0,120.6 429.5,119.8 427.9,119.6 426.4,119.3 424.9,119.1 423.4,117.9 421.8,119.9 420.3,121.7 418.8,120.4 417.3,121.5 415.8,122.7 414.2,120.3 412.7,119.1 411.2,119.5 409.7,119.8 408.2,120.6 406.6,121.1 405.1,120.8 403.6,121.7 402.1,121.8 400.5,122.5 399.0,121.8 397.5,120.1 396.0,120.1 394.5,120.3 392.9,121.1 391.4,122.3 389.9,118.7 388.4,110.7 386.9,104.3 385.3,97.0Z" fill="#f81e08"/>
<ellipse cx="393.4" cy="109.7" rx="2.0" ry="2.0" fill="#b80808"/>
<ellipse cx="406.9" cy="109.7" rx="1.5" ry="2.0" fill="#b80808"/>
<ellipse cx="420.4" cy="108.5" rx="2.0" ry="2.0" fill="#b80808"/>
<ellipse cx="433.9" cy="109.7" rx="1.5" ry="1.5" fill="#b80808"/>
<path d="M464.2,157.0 465.7,155.8 467.2,153.5 468.7,150.7 470.2,149.4 471.7,148.8 473.2,149.5 474.7,149.5 476.3,149.6 477.8,149.0 479.3,148.7 480.8,149.2 482.3,148.8 483.8,149.2 485.3,148.9 486.9,148.3 488.4,148.3 489.9,147.0 491.4,146.6 492.9,146.7 494.4,147.0 495.9,147.2 497.4,147.7 499.0,147.6 500.5,147.5 502.0,147.1 503.5,146.7 505.0,146.3 506.5,145.9 508.0,145.3 509.6,146.0 511.1,147.0 512.6,146.4 514.1,146.0 515.6,146.1 517.1,145.4 518.6,145.1 520.1,146.0 521.7,145.7 523.2,145.6 524.7,145.0 526.2,145.0 527.7,145.1 529.2,145.0 530.7,145.2 532.3,144.9 533.8,144.7 535.3,145.0 536.8,145.1 538.3,144.7 539.8,144.6 541.3,144.8 542.8,145.1 544.4,144.8 545.9,144.7 547.4,143.1 548.9,143.2 550.4,143.6 551.9,144.9 553.4,144.0 555.0,143.5 556.5,144.0 558.0,143.6 559.5,143.1 561.0,143.3 562.5,142.9 564.0,142.0 565.5,144.1 567.1,144.0 568.6,144.5 570.1,142.9 571.6,142.4 571.6,166.5 570.1,166.7 568.6,166.8 567.1,166.9 565.5,166.0 564.0,164.9 562.5,166.0 561.0,166.4 559.5,165.8 558.0,166.0 556.5,166.8 555.0,167.8 553.4,167.5 551.9,167.5 550.4,167.1 548.9,167.0 547.4,167.3 545.9,166.7 544.4,166.5 542.8,166.9 541.3,166.8 539.8,167.0 538.3,166.5 536.8,167.0 535.3,167.8 533.8,166.7 532.3,166.8 530.7,166.7 529.2,166.7 527.7,167.5 526.2,168.0 524.7,167.4 523.2,167.8 521.7,168.5 520.1,167.5 518.6,166.0 517.1,166.3 515.6,166.0 514.1,166.5 512.6,167.3 511.1,166.9 509.6,166.5 508.0,165.7 506.5,164.6 505.0,165.7 503.5,165.8 502.0,166.5 500.5,166.5 499.0,166.1 497.4,165.3 495.9,164.9 494.4,165.0 492.9,165.3 491.4,163.9 489.9,164.4 488.4,164.5 486.9,164.2 485.3,164.8 483.8,166.2 482.3,166.3 480.8,164.7 479.3,163.9 477.8,163.7 476.3,164.0 474.7,163.5 473.2,163.1 471.7,161.4 470.2,161.1 468.7,158.7 467.2,159.1 465.7,158.3 464.2,157.0Z" fill="#0f3cf0" stroke="#0a1e9c" stroke-width="0.7" stroke-linejoin="round"/>
<path d="M479.3,155.3 480.8,154.6 482.3,153.8 483.8,153.9 485.3,152.4 486.8,151.9 488.4,152.1 489.9,151.2 491.4,150.6 492.9,150.7 494.4,150.9 495.9,150.5 497.4,150.6 498.9,150.7 500.5,151.0 502.0,151.3 503.5,150.9 505.0,150.0 506.5,150.0 508.0,149.0 509.5,149.3 511.1,150.4 512.6,150.0 514.1,150.0 515.6,149.7 517.1,150.0 518.6,150.2 520.1,149.8 521.7,149.2 523.2,149.7 524.7,149.3 526.2,148.9 527.7,148.8 529.2,149.1 530.7,148.5 532.2,147.5 533.8,147.3 535.3,147.2 536.8,147.2 538.3,147.1 539.8,147.7 541.3,147.8 542.8,147.5 544.4,147.6 545.9,147.4 547.4,148.4 548.9,148.0 550.4,147.4 551.9,147.9 553.4,147.7 555.0,147.7 556.5,147.1 558.0,146.6 559.5,145.7 561.0,145.9 562.5,145.4 564.0,144.8 565.5,144.9 567.1,144.4 568.6,145.1 570.1,145.4 571.6,146.0 571.6,164.7 570.1,164.7 568.6,164.3 567.1,164.0 565.5,164.8 564.0,165.2 562.5,165.5 561.0,165.4 559.5,164.5 558.0,164.9 556.5,164.8 555.0,164.4 553.4,164.4 551.9,164.5 550.4,164.3 548.9,164.3 547.4,164.1 545.9,164.7 544.4,164.2 542.8,164.1 541.3,163.7 539.8,164.1 538.3,164.2 536.8,164.5 535.3,164.3 533.8,163.3 532.2,163.2 530.7,163.7 529.2,163.6 527.7,164.2 526.2,164.1 524.7,163.2 523.2,162.9 521.7,162.7 520.1,162.0 518.6,162.0 517.1,162.9 515.6,162.1 514.1,162.0 512.6,161.4 511.1,161.4 509.5,161.3 508.0,161.1 506.5,160.7 505.0,160.4 503.5,160.5 502.0,160.5 500.5,161.5 498.9,160.7 497.4,160.1 495.9,160.2 494.4,159.9 492.9,160.0 491.4,159.8 489.9,159.6 488.4,158.6 486.8,158.4 485.3,157.4 483.8,157.0 482.3,156.8 480.8,156.5 479.3,155.9Z" fill="#46f09c"/>
<path d="M487.9,155.4 489.4,154.6 491.0,154.2 492.5,154.4 494.0,154.5 495.5,154.9 497.0,154.4 498.6,154.3 500.1,154.2 501.6,153.1 503.1,153.2 504.6,153.0 506.2,152.4 507.7,152.5 509.2,152.4 510.7,152.0 512.3,151.6 513.8,150.9 515.3,150.5 516.8,151.4 518.3,151.4 519.9,151.5 521.4,151.2 522.9,151.2 524.4,150.8 526.0,150.2 527.5,149.6 529.0,150.0 530.5,149.9 532.0,149.8 533.6,150.0 535.1,150.1 536.6,150.3 538.1,149.7 539.6,149.6 541.2,149.9 542.7,150.0 544.2,150.2 545.7,149.4 547.3,148.9 548.8,149.0 550.3,149.2 551.8,148.9 553.3,148.1 554.9,148.7 556.4,149.0 557.9,148.3 559.4,148.7 560.9,148.6 562.5,148.6 564.0,148.5 565.5,148.0 567.0,148.3 568.6,148.2 570.1,148.4 571.6,148.0 571.6,163.8 570.1,164.2 568.6,163.6 567.0,163.4 565.5,163.2 564.0,163.1 562.5,163.2 560.9,163.0 559.4,163.1 557.9,162.6 556.4,162.6 554.9,162.0 553.3,162.0 551.8,161.9 550.3,162.1 548.8,161.8 547.3,162.7 545.7,163.1 544.2,163.2 542.7,161.7 541.2,160.8 539.6,160.9 538.1,162.1 536.6,161.3 535.1,161.3 533.6,161.0 532.0,161.5 530.5,161.4 529.0,161.0 527.5,161.2 526.0,160.6 524.4,160.1 522.9,159.8 521.4,160.0 519.9,159.6 518.3,158.9 516.8,159.1 515.3,159.0 513.8,159.0 512.3,158.9 510.7,159.4 509.2,159.1 507.7,159.4 506.2,159.7 504.6,159.2 503.1,159.1 501.6,158.4 500.1,158.2 498.6,157.9 497.0,157.1 495.5,156.5 494.0,156.9 492.5,156.9 491.0,156.4 489.4,156.2 487.9,156.0Z" fill="#ffff00"/>
<path d="M505.7,155.4 507.3,155.3 508.8,154.6 510.3,154.1 511.9,154.3 513.4,154.9 514.9,154.6 516.5,155.1 518.0,154.7 519.5,154.4 521.0,153.2 522.6,152.7 524.1,152.1 525.6,152.1 527.2,151.6 528.7,151.2 530.2,151.1 531.8,151.5 533.3,151.9 534.8,151.5 536.4,151.3 537.9,151.0 539.4,150.8 541.0,150.8 542.5,151.4 544.0,151.5 545.6,151.0 547.1,150.6 548.6,150.7 550.2,151.1 551.7,150.8 553.2,150.4 554.7,150.7 556.3,150.6 557.8,150.1 559.3,149.7 560.9,150.3 562.4,150.0 563.9,150.0 565.5,150.5 567.0,150.2 568.5,150.7 570.1,151.0 571.6,150.5 571.6,162.9 570.1,162.8 568.5,162.0 567.0,161.7 565.5,161.7 563.9,161.6 562.4,161.6 560.9,161.7 559.3,161.9 557.8,162.1 556.3,161.5 554.7,161.9 553.2,161.3 551.7,161.2 550.2,161.2 548.6,160.9 547.1,161.1 545.6,161.8 544.0,161.1 542.5,160.5 541.0,160.4 539.4,160.8 537.9,159.7 536.4,159.6 534.8,159.3 533.3,159.2 531.8,159.6 530.2,160.0 528.7,159.8 527.2,159.5 525.6,158.9 524.1,158.8 522.6,158.4 521.0,157.8 519.5,158.0 518.0,157.7 516.5,157.6 514.9,157.4 513.4,156.8 511.9,156.4 510.3,156.2 508.8,155.4 507.3,155.4 505.7,155.4Z" fill="#ff8a00"/>
<path d="M523.0,155.4 524.5,154.9 526.0,155.1 527.6,155.4 529.1,155.8 530.6,155.3 532.1,154.5 533.6,154.3 535.2,154.3 536.7,154.3 538.2,153.8 539.7,153.9 541.2,153.3 542.7,152.9 544.3,153.1 545.8,152.6 547.3,152.9 548.8,152.9 550.3,152.4 551.9,152.5 553.4,152.9 554.9,152.2 556.4,151.5 557.9,151.4 559.5,150.8 561.0,150.7 562.5,150.6 564.0,151.3 565.5,151.4 567.0,151.7 568.6,151.4 570.1,151.2 571.6,151.2 571.6,161.3 570.1,161.2 568.6,160.7 567.0,160.8 565.5,160.6 564.0,160.6 562.5,159.6 561.0,159.8 559.5,159.6 557.9,159.3 556.4,159.5 554.9,159.7 553.4,159.8 551.9,159.4 550.3,159.1 548.8,158.5 547.3,158.9 545.8,158.7 544.3,158.6 542.7,158.7 541.2,158.6 539.7,158.2 538.2,158.8 536.7,158.6 535.2,158.6 533.6,158.0 532.1,157.4 530.6,157.2 529.1,157.2 527.6,157.3 526.0,156.7 524.5,156.6 523.0,155.9Z" fill="#f81e08"/>
<path d="M549.5,155.4 551.0,155.2 552.6,155.0 554.2,154.5 555.8,154.0 557.4,154.0 558.9,154.0 560.5,153.9 562.1,153.7 563.7,153.2 565.3,153.0 566.9,153.0 568.4,153.0 570.0,152.7 571.6,152.6 571.6,159.7 570.0,159.4 568.4,159.4 566.9,159.3 565.3,158.8 563.7,158.5 562.1,158.3 560.5,158.0 558.9,157.8 557.4,157.5 555.8,157.2 554.2,157.0 552.6,156.8 551.0,156.1 549.5,155.9Z" fill="#b80808"/>
</g>
<clipPath id="clipc"><rect x="701.2" y="26" width="189.3" height="141.5"/></clipPath>
<g clip-path="url(#clipc)">
<ellipse cx="702.4" cy="155.8" rx="2.5" ry="1.5" fill="#0f3cf0"/>
<path d="M696.5,85.9 698.0,86.1 699.5,88.0 701.0,86.4 702.5,85.5 704.0,86.1 705.5,85.1 707.0,85.1 708.5,85.9 710.0,88.9 711.5,89.3 713.0,88.1 714.5,88.0 716.0,88.7 717.5,88.1 719.1,88.3 720.6,89.2 722.1,87.5 723.6,85.3 725.1,84.9 726.6,85.0 728.1,85.0 729.6,85.8 731.1,85.9 732.6,95.1 734.1,102.0 735.6,105.6 737.1,109.1 738.6,111.8 740.1,111.2 741.6,110.5 743.1,109.4 744.7,112.3 746.2,112.8 747.7,110.8 749.2,111.3 750.7,110.2 752.2,110.0 753.7,110.6 755.2,110.0 756.7,109.2 758.2,109.3 759.7,110.5 761.2,111.5 762.7,111.0 764.2,108.2 765.7,110.0 767.2,110.0 768.7,109.1 770.3,107.5 771.8,109.5 773.3,111.8 774.8,110.9 776.3,110.5 777.8,110.2 779.3,110.6 780.8,110.9 782.3,111.6 783.8,111.3 785.3,110.6 786.8,110.4 788.3,111.0 789.8,111.2 791.3,109.2 792.8,107.0 794.3,108.3 795.9,109.1 797.4,110.5 798.9,112.9 800.4,110.2 801.9,112.5 803.4,113.0 804.9,113.2 806.4,112.1 807.9,111.4 809.4,110.0 810.9,110.2 812.4,110.6 813.9,109.8 815.4,110.0 816.9,110.5 818.4,112.0 819.9,112.6 821.4,110.5 823.0,109.9 824.5,112.2 826.0,112.1 827.5,110.6 829.0,109.7 830.5,109.9 832.0,110.1 833.5,108.9 835.0,110.8 836.5,110.4 838.0,109.4 839.5,108.7 841.0,109.5 842.5,109.7 844.0,110.2 845.5,110.0 847.0,109.0 848.6,110.9 850.1,112.4 851.6,111.4 853.1,111.8 854.6,112.6 856.1,113.7 857.6,115.0 859.1,112.5 860.6,112.8 862.1,113.7 863.6,113.1 865.1,113.3 866.6,114.9 868.1,115.0 869.6,115.1 871.1,115.4 872.6,115.6 874.2,114.6 875.7,116.3 877.2,116.8 878.7,117.6 880.2,114.5 881.7,114.6 883.2,114.4 884.7,116.2 886.2,112.4 887.7,114.0 889.2,113.9 890.7,113.7 892.2,115.8 893.7,115.9 895.2,115.9 895.2,162.3 893.7,161.3 892.2,161.5 890.7,162.3 889.2,163.2 887.7,164.1 886.2,163.6 884.7,162.3 883.2,162.2 881.7,163.2 880.2,162.9 878.7,163.2 877.2,163.1 875.7,162.6 874.2,163.7 872.6,165.5 871.1,166.3 869.6,166.3 868.1,165.8 866.6,166.6 865.1,167.6 863.6,166.6 862.1,166.2 860.6,167.0 859.1,166.5 857.6,165.4 856.1,165.0 854.6,166.2 853.1,167.1 851.6,166.6 850.1,166.5 848.6,165.3 847.0,165.7 845.5,168.1 844.0,168.3 842.5,168.9 841.0,166.3 839.5,164.9 838.0,164.4 836.5,164.6 835.0,164.7 833.5,165.6 832.0,165.9 830.5,164.3 829.0,164.1 827.5,164.9 826.0,166.6 824.5,166.7 823.0,165.4 821.4,163.2 819.9,164.2 818.4,165.0 816.9,167.1 815.4,165.0 813.9,163.9 812.4,161.4 810.9,161.8 809.4,161.5 807.9,161.8 806.4,161.1 804.9,161.7 803.4,162.0 801.9,163.0 800.4,163.9 798.9,164.4 797.4,163.6 795.9,164.2 794.3,163.3 792.8,162.5 791.3,164.0 789.8,161.9 788.3,161.7 786.8,163.7 785.3,162.8 783.8,162.8 782.3,164.8 780.8,166.0 779.3,164.9 777.8,165.4 776.3,163.6 774.8,163.7 773.3,164.6 771.8,164.4 770.3,163.9 768.7,164.8 767.2,164.5 765.7,165.2 764.2,165.2 762.7,164.1 761.2,166.3 759.7,163.7 758.2,163.6 756.7,163.3 755.2,162.4 753.7,163.1 752.2,161.1 750.7,161.8 749.2,161.0 747.7,163.3 746.2,165.6 744.7,166.1 743.1,165.1 741.6,164.6 740.1,163.4 738.6,161.1 737.1,160.1 735.6,154.4 734.1,148.9 732.6,142.4 731.1,138.6 729.6,140.2 728.1,140.0 726.6,138.8 725.1,137.1 723.6,136.1 722.1,137.6 720.6,138.6 719.1,138.9 717.5,140.2 716.0,138.8 714.5,137.0 713.0,138.3 711.5,137.7 710.0,137.1 708.5,136.2 707.0,137.1 705.5,136.1 704.0,136.4 702.5,136.1 701.0,137.8 699.5,140.5 698.0,139.2 696.5,138.6Z" fill="#0f3cf0" stroke="#0a1e9c" stroke-width="0.7" stroke-linejoin="round"/>
<path d="M696.5,91.0 698.0,91.2 699.5,92.7 701.0,93.6 702.5,92.7 704.0,93.3 705.5,92.9 707.0,92.0 708.5,91.7 710.0,90.6 711.5,90.3 713.0,90.9 714.5,91.7 716.0,93.1 717.5,93.0 719.1,91.4 720.6,90.6 722.1,89.0 723.6,89.6 725.1,90.5 726.6,90.9 728.1,91.1 729.6,91.7 731.1,92.5 732.6,97.8 734.1,102.9 735.6,107.6 737.1,112.7 738.6,115.6 740.1,115.8 741.6,115.2 743.1,116.3 744.7,118.2 746.2,119.1 747.7,119.3 749.2,117.1 750.7,116.4 752.2,116.4 753.7,115.8 755.2,114.3 756.7,116.4 758.2,116.9 759.7,116.7 761.2,116.9 762.7,115.9 764.2,116.0 765.7,117.2 767.2,116.8 768.7,118.5 770.3,119.5 771.8,117.6 773.3,117.9 774.8,117.0 776.3,117.0 777.8,115.3 779.3,117.5 780.8,117.2 782.3,116.9 783.8,116.8 785.3,117.2 786.8,117.8 788.3,117.0 789.8,115.9 791.3,116.3 792.8,117.1 794.3,118.4 795.9,118.1 797.4,116.7 798.9,117.3 800.4,116.9 801.9,116.2 803.4,116.9 804.9,117.7 806.4,118.9 807.9,118.9 809.4,119.1 810.9,118.8 812.4,117.4 813.9,117.5 815.4,115.7 816.9,114.8 818.4,116.7 819.9,118.0 821.4,117.4 823.0,117.1 824.5,116.6 826.0,116.2 827.5,115.8 829.0,115.3 830.5,116.5 832.0,116.9 833.5,117.7 835.0,116.6 836.5,117.3 838.0,116.1 839.5,116.9 841.0,117.6 842.5,118.4 844.0,116.2 845.5,115.2 847.0,117.5 848.6,117.3 850.1,117.8 851.6,119.7 853.1,118.9 854.6,118.8 856.1,119.5 857.6,119.3 859.1,118.2 860.6,117.5 862.1,120.0 863.6,121.2 865.1,119.9 866.6,121.1 868.1,121.0 869.6,119.9 871.1,120.9 872.6,122.4 874.2,123.9 875.7,123.4 877.2,121.5 878.7,121.9 880.2,122.0 881.7,121.6 883.2,121.3 884.7,120.6 886.2,119.2 887.7,119.2 889.2,119.8 890.7,119.7 892.2,121.6 893.7,122.6 895.2,122.6 895.2,161.4 893.7,159.6 892.2,159.9 890.7,160.0 889.2,160.2 887.7,161.1 886.2,162.0 884.7,162.4 883.2,163.7 881.7,163.3 880.2,162.3 878.7,162.4 877.2,162.2 875.7,162.6 874.2,163.5 872.6,160.6 871.1,160.8 869.6,160.4 868.1,161.1 866.6,160.4 865.1,160.7 863.6,161.8 862.1,160.8 860.6,160.6 859.1,160.9 857.6,160.6 856.1,159.4 854.6,159.2 853.1,158.0 851.6,156.9 850.1,158.5 848.6,159.4 847.0,158.1 845.5,158.4 844.0,158.6 842.5,158.2 841.0,159.2 839.5,159.5 838.0,159.1 836.5,158.9 835.0,159.5 833.5,158.7 832.0,156.9 830.5,157.1 829.0,157.4 827.5,158.7 826.0,159.5 824.5,158.9 823.0,157.9 821.4,157.1 819.9,156.0 818.4,155.8 816.9,156.0 815.4,156.0 813.9,154.9 812.4,155.5 810.9,156.7 809.4,157.3 807.9,158.4 806.4,159.0 804.9,159.2 803.4,157.7 801.9,156.1 800.4,155.0 798.9,154.1 797.4,155.2 795.9,154.7 794.3,156.0 792.8,154.8 791.3,155.0 789.8,154.6 788.3,154.5 786.8,154.6 785.3,155.1 783.8,156.0 782.3,155.8 780.8,157.3 779.3,156.5 777.8,155.2 776.3,153.6 774.8,154.5 773.3,154.3 771.8,155.4 770.3,156.6 768.7,154.9 767.2,155.8 765.7,156.6 764.2,154.5 762.7,155.3 761.2,155.9 759.7,154.4 758.2,153.8 756.7,152.0 755.2,153.7 753.7,154.4 752.2,155.5 750.7,154.8 749.2,154.9 747.7,153.2 746.2,152.3 744.7,151.9 743.1,152.2 741.6,153.5 740.1,155.8 738.6,154.8 737.1,152.2 735.6,146.7 734.1,139.6 732.6,132.8 731.1,129.0 729.6,129.6 728.1,129.8 726.6,130.0 725.1,130.1 723.6,131.7 722.1,130.9 720.6,129.6 719.1,128.1 717.5,127.9 716.0,127.9 714.5,129.3 713.0,130.6 711.5,130.9 710.0,132.1 708.5,130.1 707.0,129.0 705.5,128.1 704.0,127.8 702.5,127.5 701.0,127.0 699.5,128.6 698.0,128.4 696.5,128.6Z" fill="#46f09c"/>
<path d="M696.5,97.0 698.0,94.8 699.5,97.4 701.0,97.5 702.5,99.2 704.0,98.4 705.5,98.2 707.0,98.4 708.5,98.7 710.0,98.2 711.5,96.3 713.0,97.3 714.5,97.9 716.0,98.1 717.5,97.8 719.1,97.0 720.6,97.1 722.1,95.3 723.6,95.5 725.1,95.5 726.6,97.0 728.1,98.9 729.6,99.2 731.1,100.2 732.6,104.8 734.1,110.2 735.6,113.0 737.1,118.6 738.6,120.3 740.1,120.0 741.6,121.2 743.1,121.0 744.7,121.9 746.2,122.2 747.7,121.1 749.2,120.3 750.7,120.3 752.2,121.3 753.7,121.3 755.2,120.7 756.7,120.7 758.2,120.5 759.7,119.8 761.2,119.7 762.7,120.9 764.2,122.4 765.7,122.4 767.2,122.1 768.7,122.0 770.3,121.5 771.8,120.7 773.3,121.0 774.8,120.3 776.3,120.3 777.8,119.7 779.3,119.9 780.8,121.5 782.3,121.2 783.8,122.0 785.3,122.2 786.8,120.8 788.3,119.6 789.8,119.0 791.3,120.5 792.8,120.0 794.3,121.5 795.9,121.8 797.4,122.5 798.9,123.1 800.4,124.0 801.9,124.0 803.4,124.1 804.9,124.1 806.4,123.2 807.9,122.0 809.4,122.4 810.9,122.7 812.4,123.3 813.9,123.7 815.4,122.5 816.9,123.0 818.4,123.1 819.9,122.9 821.4,125.6 823.0,123.8 824.5,122.9 826.0,122.0 827.5,123.0 829.0,123.6 830.5,124.4 832.0,123.6 833.5,124.2 835.0,123.8 836.5,123.1 838.0,123.6 839.5,124.3 841.0,124.7 842.5,125.4 844.0,126.4 845.5,126.6 847.0,124.6 848.6,125.6 850.1,126.6 851.6,126.2 853.1,127.5 854.6,127.6 856.1,128.5 857.6,126.0 859.1,124.5 860.6,124.0 862.1,125.9 863.6,126.4 865.1,126.7 866.6,124.6 868.1,126.8 869.6,127.4 871.1,126.7 872.6,126.6 874.2,127.2 875.7,127.7 877.2,126.9 878.7,127.3 880.2,128.6 881.7,128.7 883.2,128.8 884.7,127.9 886.2,128.9 887.7,129.6 889.2,128.2 890.7,126.6 892.2,126.6 893.7,126.2 895.2,127.5 895.2,162.4 893.7,161.1 892.2,159.5 890.7,159.6 889.2,160.0 887.7,159.1 886.2,158.4 884.7,157.7 883.2,158.4 881.7,159.1 880.2,159.9 878.7,159.7 877.2,159.1 875.7,158.6 874.2,156.9 872.6,157.2 871.1,157.6 869.6,156.1 868.1,156.7 866.6,157.1 865.1,157.5 863.6,157.3 862.1,155.9 860.6,156.1 859.1,155.3 857.6,156.0 856.1,157.0 854.6,157.3 853.1,156.5 851.6,156.8 850.1,157.5 848.6,158.4 847.0,158.1 845.5,156.7 844.0,157.0 842.5,157.8 841.0,158.3 839.5,157.5 838.0,156.2 836.5,155.9 835.0,154.6 833.5,155.2 832.0,156.0 830.5,155.6 829.0,154.0 827.5,154.6 826.0,155.4 824.5,155.5 823.0,155.3 821.4,154.0 819.9,153.5 818.4,153.9 816.9,151.9 815.4,151.5 813.9,152.1 812.4,153.8 810.9,152.0 809.4,151.7 807.9,151.1 806.4,150.9 804.9,150.7 803.4,152.8 801.9,152.2 800.4,152.9 798.9,152.8 797.4,151.3 795.9,152.6 794.3,151.6 792.8,151.9 791.3,151.1 789.8,150.7 788.3,151.2 786.8,150.7 785.3,150.2 783.8,150.6 782.3,150.0 780.8,149.3 779.3,150.3 777.8,149.6 776.3,148.8 774.8,148.6 773.3,149.3 771.8,147.9 770.3,147.4 768.7,148.7 767.2,150.0 765.7,150.5 764.2,151.4 762.7,149.8 761.2,150.4 759.7,151.9 758.2,150.8 756.7,150.3 755.2,149.4 753.7,149.8 752.2,150.2 750.7,151.0 749.2,152.3 747.7,153.4 746.2,153.6 744.7,152.7 743.1,152.5 741.6,150.2 740.1,150.5 738.6,151.4 737.1,148.4 735.6,141.2 734.1,135.1 732.6,129.1 731.1,123.8 729.6,123.5 728.1,122.8 726.6,123.3 725.1,123.6 723.6,123.7 722.1,124.5 720.6,125.6 719.1,125.2 717.5,125.6 716.0,124.3 714.5,124.9 713.0,123.7 711.5,124.2 710.0,123.5 708.5,123.9 707.0,125.8 705.5,126.4 704.0,126.7 702.5,126.4 701.0,125.6 699.5,125.0 698.0,125.0 696.5,124.6Z" fill="#ffff00"/>
<path d="M696.5,104.3 698.0,102.9 699.5,103.7 701.0,103.7 702.5,104.5 704.0,105.5 705.5,106.6 707.0,106.2 708.5,106.1 710.0,106.2 711.5,106.4 713.0,105.9 714.5,102.8 716.0,101.3 717.5,101.1 719.1,101.8 720.6,103.1 722.1,102.3 723.6,102.0 725.1,101.8 726.6,102.2 728.1,102.2 729.6,102.2 731.1,103.6 732.6,109.8 734.1,116.2 735.6,122.2 737.1,126.6 738.6,128.7 740.1,129.0 741.6,128.4 743.1,127.9 744.7,127.5 746.2,126.8 747.7,126.0 749.2,126.1 750.7,127.6 752.2,128.8 753.7,128.2 755.2,127.1 756.7,126.5 758.2,126.3 759.7,127.8 761.2,126.7 762.7,126.7 764.2,126.1 765.7,126.1 767.2,125.5 768.7,126.1 770.3,127.4 771.8,128.7 773.3,129.5 774.8,129.0 776.3,128.2 777.8,128.5 779.3,126.9 780.8,126.1 782.3,124.5 783.8,125.2 785.3,125.8 786.8,126.5 788.3,125.7 789.8,127.0 791.3,127.4 792.8,127.0 794.3,126.6 795.9,128.7 797.4,129.0 798.9,129.1 800.4,128.3 801.9,128.3 803.4,128.0 804.9,128.5 806.4,129.2 807.9,128.6 809.4,128.7 810.9,129.5 812.4,129.4 813.9,130.3 815.4,128.0 816.9,130.2 818.4,129.0 819.9,128.5 821.4,129.7 823.0,130.1 824.5,128.9 826.0,128.8 827.5,127.0 829.0,127.2 830.5,127.3 832.0,128.9 833.5,129.4 835.0,135.3 836.5,141.6 838.0,143.0 839.5,141.6 841.0,143.0 842.5,143.2 844.0,144.1 845.5,145.8 847.0,146.9 848.6,145.7 850.1,146.4 851.6,147.8 853.1,147.0 854.6,146.6 856.1,146.6 857.6,146.3 859.1,146.2 860.6,146.6 862.1,146.2 863.6,145.8 865.1,146.2 866.6,145.3 868.1,144.9 869.6,144.0 871.1,143.6 872.6,145.8 874.2,147.5 875.7,147.5 877.2,148.9 878.7,148.6 880.2,147.1 881.7,147.4 883.2,147.2 884.7,147.1 886.2,146.5 887.7,147.1 889.2,146.9 890.7,146.5 892.2,145.3 893.7,145.1 895.2,145.0 895.2,158.2 893.7,158.6 892.2,159.8 890.7,159.4 889.2,158.0 887.7,157.8 886.2,159.4 884.7,158.7 883.2,158.1 881.7,157.6 880.2,157.3 878.7,156.9 877.2,158.4 875.7,158.4 874.2,159.1 872.6,160.1 871.1,160.4 869.6,158.5 868.1,157.0 866.6,157.0 865.1,157.2 863.6,157.7 862.1,158.9 860.6,159.1 859.1,159.1 857.6,159.9 856.1,160.2 854.6,160.8 853.1,158.8 851.6,156.5 850.1,157.1 848.6,157.6 847.0,156.7 845.5,157.0 844.0,156.7 842.5,157.0 841.0,157.6 839.5,156.1 838.0,156.2 836.5,156.5 835.0,154.7 833.5,152.2 832.0,150.3 830.5,151.2 829.0,152.2 827.5,152.8 826.0,154.3 824.5,153.7 823.0,152.0 821.4,152.5 819.9,151.4 818.4,151.1 816.9,150.8 815.4,150.2 813.9,148.3 812.4,147.7 810.9,146.7 809.4,146.7 807.9,147.0 806.4,148.6 804.9,148.1 803.4,147.7 801.9,146.9 800.4,145.9 798.9,146.3 797.4,145.1 795.9,145.5 794.3,145.8 792.8,145.8 791.3,146.0 789.8,145.7 788.3,145.7 786.8,145.0 785.3,143.2 783.8,144.1 782.3,143.9 780.8,142.9 779.3,144.5 777.8,144.3 776.3,145.0 774.8,144.1 773.3,145.0 771.8,143.5 770.3,144.0 768.7,146.1 767.2,147.7 765.7,145.9 764.2,145.5 762.7,145.4 761.2,144.4 759.7,143.6 758.2,144.2 756.7,144.4 755.2,145.5 753.7,146.7 752.2,146.1 750.7,146.0 749.2,145.7 747.7,144.4 746.2,144.6 744.7,143.0 743.1,143.5 741.6,144.7 740.1,144.6 738.6,144.5 737.1,142.0 735.6,137.1 734.1,130.5 732.6,124.3 731.1,119.7 729.6,121.2 728.1,120.1 726.6,121.4 725.1,122.4 723.6,123.4 722.1,121.9 720.6,120.7 719.1,119.6 717.5,119.7 716.0,120.2 714.5,120.1 713.0,121.6 711.5,123.2 710.0,121.0 708.5,120.0 707.0,120.5 705.5,120.9 704.0,120.9 702.5,121.7 701.0,119.8 699.5,119.1 698.0,119.2 696.5,120.6Z" fill="#ff8a00"/>
<ellipse cx="826.6" cy="141.6" rx="2.0" ry="5.0" fill="#ffff00"/>
<ellipse cx="821.9" cy="138.1" rx="1.5" ry="4.0" fill="#ffff00"/>
<path d="M855.9,127.2 L858.9,127.2 L857.4,137.2Z" fill="#46f09c"/>
<path d="M874.8,129.3 L877.8,129.3 L876.3,137.3Z" fill="#46f09c"/>
<path d="M884.3,127.2 L887.3,127.2 L885.8,137.2Z" fill="#46f09c"/>
<path d="M850.3,149.7 851.8,148.9 853.4,148.6 854.9,147.8 856.5,148.3 858.0,147.8 859.6,147.9 861.1,147.4 862.7,147.4 864.2,147.4 865.8,147.8 867.3,148.4 868.9,148.3 870.4,147.7 872.0,147.6 873.5,147.1 875.1,146.5 876.6,146.3 878.2,146.7 879.7,147.5 881.3,146.7 882.8,147.1 884.4,146.7 885.9,147.3 887.5,148.1 889.0,147.6 890.6,147.4 892.1,146.3 893.7,147.4 895.2,148.1 895.2,157.2 893.7,156.8 892.1,156.7 890.6,157.1 889.0,157.9 887.5,157.8 885.9,157.5 884.4,157.0 882.8,155.7 881.3,155.7 879.7,156.6 878.2,156.7 876.6,156.7 875.1,155.5 873.5,155.7 872.0,155.5 870.4,156.9 868.9,157.3 867.3,156.8 865.8,155.6 864.2,154.9 862.7,154.9 861.1,155.8 859.6,156.0 858.0,156.1 856.5,155.0 854.9,154.3 853.4,153.4 851.8,153.2 850.3,152.5Z" fill="#f81e08"/>
<path d="M866.8,151.9 868.4,151.6 870.0,151.4 871.6,151.2 873.1,151.1 874.7,150.5 876.3,150.0 877.9,149.4 879.5,149.5 881.0,150.2 882.6,150.0 884.2,149.7 885.8,150.2 887.3,150.3 888.9,149.7 890.5,149.2 892.1,149.0 893.7,149.1 895.2,149.4 895.2,155.5 893.7,155.8 892.1,155.6 890.5,155.4 888.9,155.9 887.3,155.7 885.8,156.3 884.2,155.2 882.6,154.7 881.0,154.8 879.5,154.8 877.9,154.7 876.3,155.7 874.7,156.0 873.1,155.0 871.6,154.2 870.0,154.1 868.4,153.9 866.8,153.4Z" fill="#b80808"/>
<path d="M728.2,103.4 729.7,104.1 731.3,103.4 732.9,108.9 734.4,115.3 736.0,122.8 737.5,129.9 739.1,131.4 740.7,131.7 742.2,131.1 743.8,131.6 743.8,139.8 742.2,141.9 740.7,142.1 739.1,143.0 737.5,144.0 736.0,135.5 734.4,128.2 732.9,120.6 731.3,119.9 729.7,118.4 728.2,116.8Z" fill="#f81e08"/>
<ellipse cx="709.7" cy="107.4" rx="2.0" ry="2.0" fill="#f81e08"/>
<ellipse cx="724.9" cy="118.0" rx="2.5" ry="2.0" fill="#f81e08"/>
<path d="M740.3,128.7 L745.3,128.7 L742.8,142.7Z" fill="#f81e08"/>
<path d="M749.8,128.7 L755.8,128.7 L752.8,142.7Z" fill="#f81e08"/>
<path d="M767.8,129.2 L772.8,129.2 L770.3,142.2Z" fill="#f81e08"/>
<path d="M791.4,128.7 L797.4,128.7 L794.4,142.7Z" fill="#f81e08"/>
<path d="M814.2,130.5 L817.2,130.5 L815.7,138.5Z" fill="#f81e08"/>
</g>
<clipPath id="clipd"><rect x="56.4" y="250.8" width="189.2" height="141.2"/></clipPath>
<g clip-path="url(#clipd)">
<path d="M50.7,270.9 52.2,270.2 53.7,270.5 55.2,271.0 56.7,271.0 58.2,272.2 59.8,271.1 61.3,270.2 62.8,276.1 64.3,285.8 65.8,306.3 67.3,319.4 68.8,327.4 70.3,332.2 71.8,334.0 73.3,334.9 74.8,335.9 76.3,335.2 77.8,335.0 79.3,333.5 80.8,333.2 82.3,335.3 83.8,336.0 85.4,337.2 86.9,336.9 88.4,336.4 89.9,337.0 91.4,338.4 92.9,336.7 94.4,335.0 95.9,334.1 97.4,334.2 98.9,335.7 100.4,337.2 101.9,336.4 103.4,335.3 104.9,334.8 106.4,335.4 107.9,336.7 109.4,336.3 111.0,337.4 112.5,338.0 114.0,339.3 115.5,341.3 117.0,341.5 118.5,340.6 120.0,339.0 121.5,338.4 123.0,338.2 124.5,337.8 126.0,337.6 127.5,339.6 129.0,336.6 130.5,334.1 132.0,336.6 133.5,338.6 135.1,336.6 136.6,335.7 138.1,336.0 139.6,334.1 141.1,334.7 142.6,335.9 144.1,337.7 145.6,338.2 147.1,338.4 148.6,337.6 150.1,337.9 151.6,337.5 153.1,337.8 154.6,338.3 156.1,336.6 157.6,336.4 159.1,335.3 160.7,335.2 162.2,336.4 163.7,338.9 165.2,337.3 166.7,338.0 168.2,337.0 169.7,336.0 171.2,334.6 172.7,335.4 174.2,334.8 175.7,336.0 177.2,335.5 178.7,335.9 180.2,337.1 181.7,337.6 183.2,335.6 184.7,334.3 186.3,335.9 187.8,336.9 189.3,336.7 190.8,335.8 192.3,334.5 193.8,334.1 195.3,335.5 196.8,336.1 198.3,336.2 199.8,333.4 201.3,334.5 202.8,333.2 204.3,333.1 205.8,334.5 207.3,336.3 208.8,338.5 210.4,338.6 211.9,338.0 213.4,339.0 214.9,338.6 216.4,339.5 217.9,339.2 219.4,338.6 220.9,335.7 222.4,335.3 223.9,336.7 225.4,336.9 226.9,336.5 228.4,336.2 229.9,338.5 231.4,339.5 232.9,339.1 234.4,340.3 236.0,339.3 237.5,337.3 239.0,337.4 240.5,337.9 242.0,336.8 243.5,335.4 245.0,336.6 246.5,339.7 248.0,339.8 249.5,339.0 251.0,337.3 251.0,390.2 249.5,390.3 248.0,389.2 246.5,388.1 245.0,390.1 243.5,390.9 242.0,391.5 240.5,389.8 239.0,389.7 237.5,388.6 236.0,389.9 234.4,388.9 232.9,390.9 231.4,391.9 229.9,388.3 228.4,387.2 226.9,387.2 225.4,389.4 223.9,389.2 222.4,389.3 220.9,390.4 219.4,390.4 217.9,390.7 216.4,390.4 214.9,390.5 213.4,391.3 211.9,391.5 210.4,390.7 208.8,390.3 207.3,389.8 205.8,388.3 204.3,389.4 202.8,389.4 201.3,390.2 199.8,388.6 198.3,389.3 196.8,388.7 195.3,388.0 193.8,388.2 192.3,389.2 190.8,388.1 189.3,388.6 187.8,388.4 186.3,389.4 184.7,388.6 183.2,388.8 181.7,389.2 180.2,388.6 178.7,388.2 177.2,389.4 175.7,390.2 174.2,388.7 172.7,388.6 171.2,389.2 169.7,388.1 168.2,388.8 166.7,387.7 165.2,387.1 163.7,387.5 162.2,389.1 160.7,391.1 159.1,390.8 157.6,389.8 156.1,393.9 154.6,390.9 153.1,389.0 151.6,388.9 150.1,388.4 148.6,386.8 147.1,387.4 145.6,387.8 144.1,387.6 142.6,389.5 141.1,390.4 139.6,391.6 138.1,391.2 136.6,391.3 135.1,392.3 133.5,390.8 132.0,388.7 130.5,388.9 129.0,388.6 127.5,388.3 126.0,388.6 124.5,391.2 123.0,391.7 121.5,392.7 120.0,390.4 118.5,390.2 117.0,387.6 115.5,386.0 114.0,387.0 112.5,388.4 111.0,390.1 109.4,388.8 107.9,388.2 106.4,389.1 104.9,390.3 103.4,390.5 101.9,391.4 100.4,388.8 98.9,387.3 97.4,387.9 95.9,386.9 94.4,385.4 92.9,386.2 91.4,387.1 89.9,387.0 88.4,388.1 86.9,390.2 85.4,391.0 83.8,391.0 82.3,389.1 80.8,389.9 79.3,390.2 77.8,391.2 76.3,393.0 74.8,395.3 73.3,393.4 71.8,391.3 70.3,389.2 68.8,379.5 67.3,363.4 65.8,348.7 64.3,339.5 62.8,334.1 61.3,333.0 59.8,331.9 58.2,334.7 56.7,334.7 55.2,332.9 53.7,333.8 52.2,332.0 50.7,331.3Z" fill="#0f3cf0" stroke="#0a1e9c" stroke-width="0.7" stroke-linejoin="round"/>
<path d="M50.7,282.0 52.2,279.7 53.7,281.3 55.2,281.1 56.7,280.7 58.2,280.7 59.8,280.6 61.3,281.0 62.8,282.4 64.3,289.8 65.8,308.7 67.3,327.7 68.8,334.4 70.3,338.9 71.8,340.3 73.3,341.6 74.8,343.4 76.3,345.7 77.8,346.2 79.3,345.7 80.8,345.6 82.3,345.3 83.8,345.0 85.4,346.0 86.9,345.6 88.4,344.6 89.9,344.5 91.4,344.4 92.9,345.1 94.4,344.3 95.9,344.4 97.4,344.1 98.9,343.5 100.4,343.4 101.9,342.5 103.4,343.3 104.9,343.8 106.4,343.3 107.9,343.3 109.4,343.8 111.0,345.7 112.5,344.4 114.0,343.5 115.5,342.7 117.0,341.9 118.5,341.8 120.0,342.4 121.5,342.3 123.0,340.9 124.5,339.7 126.0,341.6 127.5,341.9 129.0,342.1 130.5,343.3 132.0,345.0 133.5,343.4 135.1,343.9 136.6,344.5 138.1,344.3 139.6,345.2 141.1,345.3 142.6,345.6 144.1,346.8 145.6,347.1 147.1,345.7 148.6,343.3 150.1,344.0 151.6,344.4 153.1,342.1 154.6,344.8 156.1,346.5 157.6,345.9 159.1,346.0 160.7,344.0 162.2,344.1 163.7,345.3 165.2,346.9 166.7,347.5 168.2,347.1 169.7,346.3 171.2,344.9 172.7,343.5 174.2,343.5 175.7,343.2 177.2,344.4 178.7,345.2 180.2,345.5 181.7,345.3 183.2,346.1 184.7,346.3 186.3,345.8 187.8,346.4 189.3,346.3 190.8,346.7 192.3,348.1 193.8,347.0 195.3,349.2 196.8,348.5 198.3,347.8 199.8,347.7 201.3,346.4 202.8,345.0 204.3,345.0 205.8,343.7 207.3,344.5 208.8,346.1 210.4,347.3 211.9,345.2 213.4,344.7 214.9,344.8 216.4,345.0 217.9,345.8 219.4,346.7 220.9,348.3 222.4,348.2 223.9,346.6 225.4,345.8 226.9,344.8 228.4,346.3 229.9,347.9 231.4,348.6 232.9,348.0 234.4,346.8 236.0,345.9 237.5,345.1 239.0,345.2 240.5,345.9 242.0,345.7 243.5,347.6 245.0,347.2 246.5,346.9 248.0,347.5 249.5,348.4 251.0,348.1 251.0,385.4 249.5,385.8 248.0,386.2 246.5,386.3 245.0,384.5 243.5,386.4 242.0,385.6 240.5,384.6 239.0,385.8 237.5,384.9 236.0,385.3 234.4,385.0 232.9,385.3 231.4,385.8 229.9,387.5 228.4,386.3 226.9,386.2 225.4,383.5 223.9,383.6 222.4,385.3 220.9,383.6 219.4,382.9 217.9,382.2 216.4,383.5 214.9,385.1 213.4,384.0 211.9,383.7 210.4,382.5 208.8,383.6 207.3,384.2 205.8,383.2 204.3,382.1 202.8,383.7 201.3,383.8 199.8,384.7 198.3,386.5 196.8,388.3 195.3,387.8 193.8,385.4 192.3,384.9 190.8,384.7 189.3,386.1 187.8,384.6 186.3,384.3 184.7,382.6 183.2,383.8 181.7,384.2 180.2,384.9 178.7,385.8 177.2,385.7 175.7,384.2 174.2,383.4 172.7,383.2 171.2,385.3 169.7,386.2 168.2,385.9 166.7,383.8 165.2,383.7 163.7,382.9 162.2,382.3 160.7,382.3 159.1,381.6 157.6,380.7 156.1,380.0 154.6,380.4 153.1,382.3 151.6,382.6 150.1,384.0 148.6,382.5 147.1,380.4 145.6,380.2 144.1,379.8 142.6,381.0 141.1,381.6 139.6,382.6 138.1,381.7 136.6,379.7 135.1,380.8 133.5,381.0 132.0,381.3 130.5,379.7 129.0,380.2 127.5,380.1 126.0,379.1 124.5,379.9 123.0,379.9 121.5,381.4 120.0,380.4 118.5,378.3 117.0,378.1 115.5,377.7 114.0,380.1 112.5,378.9 111.0,381.5 109.4,382.7 107.9,380.7 106.4,379.4 104.9,380.7 103.4,380.4 101.9,381.1 100.4,381.9 98.9,381.3 97.4,380.3 95.9,379.6 94.4,380.3 92.9,381.1 91.4,381.7 89.9,380.0 88.4,378.5 86.9,379.8 85.4,379.1 83.8,378.3 82.3,378.3 80.8,379.4 79.3,381.3 77.8,380.1 76.3,379.7 74.8,379.5 73.3,380.3 71.8,381.3 70.3,380.9 68.8,376.1 67.3,364.4 65.8,345.6 64.3,330.6 62.8,327.5 61.3,327.9 59.8,327.9 58.2,327.8 56.7,327.7 55.2,328.8 53.7,328.3 52.2,326.9 50.7,328.0Z" fill="#46f09c"/>
<path d="M50.7,295.9 52.2,295.9 53.7,294.0 55.2,293.8 56.7,295.1 58.2,294.8 59.8,293.5 61.3,293.2 62.8,294.8 64.3,302.7 65.8,319.5 67.3,334.7 68.8,340.4 70.3,346.4 71.8,346.0 73.3,347.7 74.8,348.1 76.3,347.7 77.8,347.5 79.3,348.1 80.8,347.8 82.3,348.2 83.8,346.0 85.4,345.3 86.9,347.0 88.4,348.4 89.9,347.8 91.4,348.7 92.9,348.9 94.4,348.5 95.9,349.0 97.4,348.4 98.9,347.6 100.4,347.9 101.9,346.9 103.4,347.9 104.9,346.8 106.4,347.4 107.9,346.8 109.4,349.5 111.0,347.7 112.5,347.8 114.0,346.7 115.5,346.6 117.0,345.8 118.5,346.9 120.0,347.8 121.5,347.7 123.0,347.7 124.5,348.8 126.0,349.1 127.5,348.5 129.0,348.7 130.5,349.4 132.0,348.7 133.5,349.2 135.1,348.7 136.6,348.1 138.1,347.2 139.6,348.0 141.1,349.7 142.6,349.7 144.1,349.0 145.6,348.8 147.1,348.2 148.6,347.7 150.1,349.5 151.6,348.9 153.1,348.9 154.6,350.5 156.1,351.1 157.6,351.2 159.1,350.8 160.7,350.0 162.2,349.2 163.7,348.5 165.2,349.3 166.7,349.6 168.2,348.9 169.7,350.6 171.2,351.6 172.7,351.8 174.2,350.7 175.7,348.7 177.2,347.7 178.7,347.3 180.2,349.0 181.7,349.2 183.2,349.9 184.7,349.8 186.3,348.9 187.8,348.9 189.3,348.6 190.8,346.4 192.3,346.2 193.8,346.6 195.3,347.4 196.8,349.0 198.3,349.1 199.8,350.2 201.3,349.6 202.8,349.5 204.3,349.5 205.8,348.9 207.3,349.9 208.8,350.2 210.4,350.3 211.9,351.2 213.4,350.9 214.9,350.2 216.4,350.0 217.9,349.5 219.4,350.3 220.9,349.5 222.4,349.2 223.9,349.3 225.4,350.0 226.9,351.7 228.4,352.3 229.9,352.2 231.4,352.7 232.9,353.7 234.4,351.3 236.0,352.2 237.5,350.4 239.0,350.0 240.5,351.5 242.0,352.2 243.5,351.8 245.0,352.4 246.5,352.1 248.0,350.6 249.5,349.1 251.0,349.5 251.0,385.0 249.5,385.4 248.0,385.4 246.5,383.9 245.0,384.5 243.5,383.0 242.0,383.7 240.5,384.4 239.0,382.2 237.5,382.5 236.0,383.0 234.4,383.6 232.9,385.2 231.4,385.5 229.9,384.3 228.4,383.5 226.9,381.9 225.4,382.5 223.9,383.0 222.4,383.3 220.9,383.3 219.4,384.8 217.9,385.1 216.4,384.3 214.9,381.5 213.4,380.8 211.9,381.8 210.4,383.7 208.8,383.3 207.3,383.8 205.8,384.0 204.3,383.2 202.8,382.4 201.3,381.4 199.8,380.8 198.3,381.4 196.8,384.2 195.3,383.7 193.8,382.9 192.3,383.2 190.8,382.7 189.3,382.0 187.8,382.3 186.3,382.0 184.7,383.2 183.2,382.0 181.7,380.7 180.2,380.3 178.7,381.6 177.2,381.0 175.7,380.6 174.2,379.6 172.7,379.2 171.2,379.3 169.7,377.9 168.2,378.1 166.7,377.9 165.2,378.2 163.7,378.8 162.2,378.6 160.7,379.9 159.1,380.1 157.6,378.6 156.1,378.4 154.6,376.5 153.1,376.4 151.6,375.8 150.1,374.1 148.6,374.2 147.1,375.9 145.6,376.2 144.1,376.2 142.6,376.2 141.1,377.0 139.6,376.0 138.1,377.0 136.6,377.1 135.1,377.7 133.5,376.4 132.0,374.7 130.5,375.0 129.0,374.5 127.5,374.2 126.0,374.7 124.5,373.9 123.0,375.7 121.5,376.9 120.0,376.9 118.5,377.6 117.0,376.8 115.5,375.6 114.0,375.9 112.5,375.0 111.0,376.6 109.4,374.9 107.9,374.9 106.4,376.4 104.9,374.7 103.4,375.0 101.9,375.3 100.4,374.7 98.9,374.8 97.4,375.4 95.9,376.4 94.4,377.2 92.9,377.0 91.4,375.8 89.9,374.7 88.4,374.0 86.9,374.7 85.4,373.7 83.8,374.5 82.3,372.5 80.8,373.8 79.3,374.8 77.8,375.4 76.3,375.5 74.8,374.4 73.3,373.7 71.8,374.8 70.3,373.6 68.8,369.4 67.3,359.7 65.8,340.4 64.3,326.0 62.8,321.3 61.3,321.3 59.8,322.8 58.2,322.8 56.7,322.8 55.2,321.8 53.7,321.8 52.2,320.2 50.7,321.6Z" fill="#ffff00"/>
<path d="M67.0,340.3 68.5,347.6 70.0,354.1 71.5,353.3 73.0,352.2 74.5,351.7 76.0,349.4 77.5,351.5 79.0,351.4 80.5,351.8 82.0,351.9 83.6,352.2 85.1,351.0 86.6,351.6 88.1,351.7 89.6,352.6 91.1,353.1 92.6,352.0 94.1,352.4 95.6,352.8 97.1,351.8 98.6,350.6 100.1,349.8 101.7,349.9 103.2,349.9 104.7,349.2 106.2,349.4 107.7,349.5 109.2,351.1 110.7,350.4 112.2,349.1 113.7,351.7 115.2,353.5 116.7,353.2 118.3,353.5 119.8,352.7 121.3,352.1 122.8,353.0 124.3,352.3 125.8,353.4 127.3,353.1 128.8,354.0 130.3,354.1 131.8,352.7 133.3,352.0 134.8,351.8 136.4,352.0 137.9,351.2 139.4,352.6 140.9,352.8 142.4,352.6 143.9,352.3 145.4,352.3 146.9,351.5 148.4,351.0 149.9,350.9 151.4,352.6 153.0,353.8 154.5,354.3 156.0,354.5 157.5,352.9 159.0,352.8 160.5,353.6 162.0,354.1 163.5,354.0 165.0,355.1 166.5,354.1 168.0,355.1 169.5,353.2 171.1,354.8 172.6,356.6 174.1,357.7 175.6,360.5 177.1,361.9 178.6,362.7 180.1,364.1 181.6,366.1 183.1,367.4 184.6,366.8 186.1,366.6 187.6,366.9 189.2,367.5 190.7,368.8 192.2,369.1 193.7,369.2 195.2,370.3 196.7,369.7 198.2,369.8 199.7,368.1 201.2,367.7 202.7,368.8 204.2,368.9 205.8,368.4 207.3,367.4 208.8,366.4 210.3,367.6 211.8,368.5 213.3,367.9 214.8,369.2 216.3,369.0 217.8,368.5 219.3,369.7 220.8,369.8 222.3,369.9 223.9,370.7 225.4,369.9 226.9,367.9 228.4,366.4 229.9,366.4 231.4,368.5 232.9,368.3 234.4,368.3 235.9,370.1 237.4,371.1 238.9,371.4 240.5,370.1 242.0,367.8 243.5,366.8 245.0,368.5 246.5,369.7 248.0,370.5 249.5,369.4 251.0,368.9 251.0,384.9 249.5,384.9 248.0,385.1 246.5,386.5 245.0,386.7 243.5,386.0 242.0,384.6 240.5,385.7 238.9,386.0 237.4,387.5 235.9,385.2 234.4,384.4 232.9,385.4 231.4,387.6 229.9,386.8 228.4,386.8 226.9,385.4 225.4,383.0 223.9,382.1 222.3,381.8 220.8,381.6 219.3,382.1 217.8,383.7 216.3,385.3 214.8,384.9 213.3,385.5 211.8,384.6 210.3,384.7 208.8,383.1 207.3,383.0 205.8,383.1 204.2,383.0 202.7,383.1 201.2,382.7 199.7,382.1 198.2,381.4 196.7,381.4 195.2,381.7 193.7,382.1 192.2,381.7 190.7,382.7 189.2,381.0 187.6,381.7 186.1,381.9 184.6,383.7 183.1,383.1 181.6,383.6 180.1,383.1 178.6,380.1 177.1,379.1 175.6,380.2 174.1,382.2 172.6,381.5 171.1,374.3 169.5,368.7 168.0,368.2 166.5,366.7 165.0,365.8 163.5,365.7 162.0,367.0 160.5,368.5 159.0,368.1 157.5,368.7 156.0,370.1 154.5,370.8 153.0,371.2 151.4,372.3 149.9,373.2 148.4,373.4 146.9,373.4 145.4,373.0 143.9,370.8 142.4,369.7 140.9,370.6 139.4,371.1 137.9,370.6 136.4,371.1 134.8,373.1 133.3,373.1 131.8,372.8 130.3,371.6 128.8,372.6 127.3,373.3 125.8,372.2 124.3,370.6 122.8,370.7 121.3,370.7 119.8,370.8 118.3,370.5 116.7,370.3 115.2,371.1 113.7,372.0 112.2,372.4 110.7,370.6 109.2,369.3 107.7,368.5 106.2,367.8 104.7,367.7 103.2,368.8 101.7,368.2 100.1,367.8 98.6,368.4 97.1,370.5 95.6,370.8 94.1,371.0 92.6,368.9 91.1,369.5 89.6,371.2 88.1,371.5 86.6,371.2 85.1,371.7 83.6,371.1 82.0,370.8 80.5,370.5 79.0,370.4 77.5,370.0 76.0,370.5 74.5,370.6 73.0,369.5 71.5,369.3 70.0,369.1 68.5,364.2 67.0,355.6Z" fill="#ff8a00"/>
<ellipse cx="163.3" cy="361.7" rx="1.5" ry="5.0" fill="#ffff00"/>
<path d="M201.2,377.9 202.7,376.6 204.2,376.4 205.7,374.7 207.2,373.3 208.8,373.4 210.3,373.2 211.8,373.1 213.3,373.7 214.8,371.5 216.3,371.8 217.8,372.5 219.3,372.8 220.8,373.2 222.3,373.0 223.8,372.7 225.4,372.6 226.9,373.1 228.4,373.4 229.9,372.6 231.4,372.8 232.9,373.2 234.4,373.8 235.9,373.7 237.4,373.2 238.9,373.8 240.4,372.9 242.0,372.5 243.5,372.1 245.0,371.3 246.5,371.6 248.0,372.2 249.5,372.9 251.0,373.2 251.0,381.2 249.5,380.9 248.0,381.1 246.5,382.5 245.0,382.4 243.5,382.2 242.0,380.9 240.4,380.6 238.9,379.8 237.4,379.6 235.9,380.9 234.4,380.8 232.9,380.5 231.4,381.3 229.9,381.3 228.4,381.3 226.9,381.7 225.4,381.7 223.8,382.2 222.3,381.5 220.8,382.1 219.3,381.2 217.8,380.8 216.3,380.4 214.8,380.0 213.3,380.7 211.8,379.8 210.3,379.8 208.8,380.0 207.2,380.5 205.7,380.5 204.2,379.2 202.7,378.9 201.2,378.6Z" fill="#f81e08"/>
<path d="M218.5,376.6 220.1,375.8 221.6,375.9 223.2,375.8 224.7,376.1 226.3,375.4 227.8,375.5 229.4,375.4 230.9,375.2 232.5,375.2 234.0,374.6 235.5,374.6 237.1,374.8 238.6,375.5 240.2,374.5 241.7,375.1 243.3,374.2 244.8,373.5 246.4,373.4 247.9,373.9 249.5,374.3 251.0,374.5 251.0,378.6 249.5,378.8 247.9,379.2 246.4,378.8 244.8,379.6 243.3,379.2 241.7,379.2 240.2,378.9 238.6,378.9 237.1,378.7 235.5,378.8 234.0,379.2 232.5,379.1 230.9,379.7 229.4,379.8 227.8,379.7 226.3,380.4 224.7,379.2 223.2,379.4 221.6,378.7 220.1,378.9 218.5,378.8Z" fill="#b80808"/>
<ellipse cx="60.5" cy="309.6" rx="1.5" ry="1.5" fill="#ff8a00"/>
<ellipse cx="75.1" cy="364.0" rx="1.5" ry="5.0" fill="#f81e08"/>
<ellipse cx="114.6" cy="356.9" rx="1.5" ry="4.0" fill="#f81e08"/>
<ellipse cx="121.1" cy="366.4" rx="1.0" ry="2.0" fill="#f81e08"/>
<ellipse cx="134.6" cy="366.4" rx="1.0" ry="1.5" fill="#f81e08"/>
<ellipse cx="148.2" cy="364.0" rx="1.0" ry="2.5" fill="#f81e08"/>
<ellipse cx="156.8" cy="367.6" rx="1.0" ry="3.0" fill="#f81e08"/>
<ellipse cx="160.1" cy="356.9" rx="1.5" ry="3.5" fill="#f81e08"/>
<path d="M225.2,351.9 L228.2,351.9 L226.7,361.9Z" fill="#46f09c"/>
<path d="M233.3,351.1 L236.3,351.1 L234.8,365.1Z" fill="#46f09c"/>
<path d="M241.4,351.1 L244.4,351.1 L242.9,365.1Z" fill="#46f09c"/>
</g>
<clipPath id="clipe"><rect x="377.5" y="250.8" width="188.7" height="141.2"/></clipPath>
<g clip-path="url(#clipe)">
<path d="M371.8,279.2 373.3,279.3 374.8,278.2 376.3,280.3 377.8,280.7 379.3,281.2 380.8,280.8 382.3,279.6 383.8,278.4 385.3,284.1 386.9,293.2 388.4,297.8 389.9,305.6 391.4,313.3 392.9,313.2 394.4,312.3 395.9,314.5 397.4,313.5 398.9,313.6 400.4,314.5 401.9,314.9 403.4,313.3 404.9,313.0 406.4,312.8 407.9,311.3 409.4,309.9 410.9,312.2 412.4,315.0 413.9,312.6 415.4,311.8 416.9,311.6 418.4,311.3 419.9,311.1 421.4,312.9 422.9,314.3 424.4,314.5 425.9,314.7 427.4,314.3 428.9,314.4 430.4,314.5 431.9,315.2 433.4,314.1 434.9,314.9 436.4,313.6 437.9,312.8 439.4,312.6 440.9,311.7 442.4,310.8 443.9,310.7 445.4,312.5 446.9,311.0 448.4,311.1 449.9,311.0 451.4,313.1 452.9,313.3 454.4,313.3 455.9,312.1 457.4,311.2 458.9,311.7 460.4,312.8 462.0,312.8 463.5,313.3 465.0,313.2 466.5,313.2 468.0,313.5 469.5,315.4 471.0,313.5 472.5,313.0 474.0,313.3 475.5,311.9 477.0,312.6 478.5,314.1 480.0,313.2 481.5,313.4 483.0,313.7 484.5,313.2 486.0,310.9 487.5,309.5 489.0,310.0 490.5,310.2 492.0,311.4 493.5,312.2 495.0,313.9 496.5,313.4 498.0,313.8 499.5,312.8 501.0,312.9 502.5,314.0 504.0,314.5 505.5,312.2 507.0,312.6 508.5,312.8 510.0,311.2 511.5,311.9 513.0,312.1 514.5,311.0 516.0,312.8 517.5,314.2 519.0,314.3 520.5,313.9 522.0,314.5 523.5,313.8 525.0,313.0 526.5,312.1 528.0,311.6 529.5,312.9 531.0,313.1 532.5,314.2 534.0,313.4 535.6,313.9 537.1,312.9 538.6,312.1 540.1,312.4 541.6,313.0 543.1,312.5 544.6,311.4 546.1,311.5 547.6,311.7 549.1,312.4 550.6,313.7 552.1,313.0 553.6,314.8 555.1,315.1 556.6,314.2 558.1,313.4 559.6,312.6 561.1,313.3 562.6,314.4 564.1,314.0 565.6,313.4 567.1,314.5 568.6,314.6 570.1,314.9 571.6,314.0 571.6,392.2 570.1,392.7 568.6,392.3 567.1,391.8 565.6,390.3 564.1,388.9 562.6,389.6 561.1,390.7 559.6,392.0 558.1,389.1 556.6,388.7 555.1,389.5 553.6,388.0 552.1,387.0 550.6,386.8 549.1,387.8 547.6,388.0 546.1,387.0 544.6,385.5 543.1,384.7 541.6,383.6 540.1,384.8 538.6,383.5 537.1,385.8 535.6,384.3 534.0,384.4 532.5,385.0 531.0,384.3 529.5,383.4 528.0,382.8 526.5,380.7 525.0,379.9 523.5,378.6 522.0,373.2 520.5,372.0 519.0,371.4 517.5,371.2 516.0,371.9 514.5,373.8 513.0,372.8 511.5,373.0 510.0,372.5 508.5,368.3 507.0,366.6 505.5,364.8 504.0,364.4 502.5,363.6 501.0,364.6 499.5,366.1 498.0,367.5 496.5,367.1 495.0,365.0 493.5,364.5 492.0,363.8 490.5,361.2 489.0,361.0 487.5,362.1 486.0,362.2 484.5,362.2 483.0,361.8 481.5,363.8 480.0,364.6 478.5,362.7 477.0,361.2 475.5,360.6 474.0,362.2 472.5,363.5 471.0,363.4 469.5,364.3 468.0,361.6 466.5,360.7 465.0,361.3 463.5,362.8 462.0,361.8 460.4,361.3 458.9,361.2 457.4,361.9 455.9,361.3 454.4,361.6 452.9,362.7 451.4,362.3 449.9,361.9 448.4,360.9 446.9,361.2 445.4,361.4 443.9,359.6 442.4,359.9 440.9,359.9 439.4,359.8 437.9,360.3 436.4,360.9 434.9,363.9 433.4,363.2 431.9,362.1 430.4,361.7 428.9,360.8 427.4,362.0 425.9,362.2 424.4,360.6 422.9,359.9 421.4,361.0 419.9,361.7 418.4,362.1 416.9,362.1 415.4,364.8 413.9,364.2 412.4,362.3 410.9,361.2 409.4,360.2 407.9,360.5 406.4,359.6 404.9,360.5 403.4,363.0 401.9,362.3 400.4,360.5 398.9,362.4 397.4,361.6 395.9,360.4 394.4,359.3 392.9,359.4 391.4,358.7 389.9,355.4 388.4,351.4 386.9,349.1 385.3,343.6 383.8,341.1 382.3,340.6 380.8,339.1 379.3,341.2 377.8,341.5 376.3,341.6 374.8,341.9 373.3,343.6 371.8,343.6Z" fill="#0f3cf0" stroke="#0a1e9c" stroke-width="0.7" stroke-linejoin="round"/>
<path d="M371.8,298.1 373.3,298.6 374.8,298.0 376.3,298.2 377.8,298.6 379.3,298.0 380.8,298.1 382.3,298.2 383.8,298.5 385.3,303.8 386.9,310.1 388.4,312.5 389.9,317.1 391.4,319.5 392.9,318.4 394.4,320.6 395.9,320.0 397.4,319.7 398.9,318.6 400.4,318.1 401.9,319.3 403.4,318.9 404.9,319.0 406.4,317.8 407.9,318.2 409.4,317.0 410.9,317.2 412.4,316.6 413.9,317.6 415.4,317.9 416.9,316.7 418.4,318.7 419.9,318.4 421.4,319.9 422.9,319.4 424.4,320.0 425.9,319.1 427.4,319.4 428.9,319.7 430.4,319.6 431.9,318.3 433.4,319.8 434.9,320.4 436.4,319.8 437.9,319.5 439.4,319.3 440.9,317.8 442.4,316.2 443.9,317.2 445.4,318.4 446.9,318.9 448.4,319.3 449.9,319.0 451.4,319.0 452.9,320.5 454.4,319.8 455.9,320.7 457.4,319.0 458.9,318.1 460.4,318.7 462.0,318.1 463.5,319.6 465.0,319.2 466.5,319.3 468.0,319.6 469.5,319.0 471.0,317.9 472.5,317.7 474.0,318.2 475.5,318.4 477.0,319.7 478.5,319.9 480.0,321.3 481.5,321.2 483.0,320.4 484.5,319.0 486.0,318.4 487.5,318.3 489.0,318.9 490.5,320.2 492.0,322.3 493.5,320.7 495.0,320.0 496.5,320.3 498.0,320.2 499.5,321.1 501.0,320.3 502.5,320.1 504.0,320.6 505.5,320.2 507.0,319.9 508.5,320.5 510.0,318.9 511.5,318.0 513.0,319.3 514.5,319.3 516.0,318.1 517.5,317.3 519.0,318.1 520.5,319.6 522.0,319.3 523.5,320.8 525.0,321.1 526.5,321.1 528.0,321.0 529.5,321.4 531.0,321.8 532.5,321.4 534.0,322.1 535.6,320.4 537.1,319.8 538.6,318.7 540.1,318.6 541.6,319.4 543.1,320.2 544.6,321.2 546.1,322.0 547.6,320.9 549.1,320.5 550.6,320.8 552.1,320.0 553.6,320.8 555.1,320.9 556.6,319.7 558.1,320.1 559.6,321.2 561.1,320.6 562.6,321.3 564.1,323.0 565.6,323.4 567.1,321.1 568.6,319.9 570.1,318.2 571.6,318.5 571.6,351.9 570.1,351.9 568.6,352.3 567.1,352.5 565.6,353.7 564.1,354.9 562.6,354.9 561.1,354.0 559.6,352.6 558.1,352.9 556.6,354.4 555.1,355.0 553.6,354.3 552.1,354.2 550.6,353.9 549.1,354.6 547.6,354.7 546.1,353.4 544.6,353.2 543.1,353.1 541.6,353.1 540.1,353.3 538.6,352.9 537.1,353.4 535.6,354.7 534.0,355.3 532.5,355.7 531.0,355.6 529.5,355.2 528.0,355.4 526.5,354.9 525.0,354.4 523.5,355.7 522.0,356.0 520.5,354.2 519.0,355.0 517.5,355.3 516.0,354.9 514.5,354.1 513.0,354.5 511.5,354.7 510.0,353.7 508.5,354.5 507.0,354.0 505.5,353.5 504.0,353.7 502.5,353.5 501.0,354.0 499.5,353.0 498.0,354.4 496.5,353.4 495.0,354.1 493.5,354.1 492.0,353.6 490.5,353.8 489.0,354.5 487.5,354.5 486.0,354.9 484.5,355.5 483.0,354.7 481.5,352.0 480.0,352.8 478.5,352.8 477.0,354.6 475.5,354.0 474.0,354.0 472.5,353.6 471.0,354.9 469.5,356.7 468.0,356.9 466.5,355.1 465.0,354.3 463.5,355.0 462.0,355.4 460.4,356.8 458.9,355.5 457.4,355.4 455.9,356.4 454.4,355.8 452.9,355.2 451.4,356.5 449.9,356.3 448.4,357.6 446.9,358.4 445.4,358.5 443.9,357.1 442.4,356.4 440.9,355.9 439.4,357.0 437.9,357.2 436.4,357.7 434.9,357.6 433.4,356.7 431.9,356.6 430.4,355.9 428.9,356.1 427.4,355.2 425.9,355.4 424.4,355.5 422.9,354.9 421.4,353.8 419.9,355.0 418.4,357.1 416.9,358.3 415.4,356.9 413.9,355.4 412.4,355.4 410.9,354.5 409.4,355.0 407.9,354.8 406.4,355.0 404.9,354.8 403.4,354.5 401.9,354.6 400.4,355.1 398.9,355.1 397.4,355.6 395.9,355.4 394.4,355.6 392.9,356.2 391.4,356.1 389.9,351.6 388.4,345.5 386.9,339.6 385.3,334.4 383.8,334.3 382.3,334.5 380.8,333.9 379.3,335.7 377.8,335.2 376.3,334.9 374.8,334.7 373.3,334.3 371.8,334.6Z" fill="#46f09c"/>
<path d="M371.8,303.9 373.3,303.5 374.8,303.2 376.3,301.2 377.8,300.2 379.3,301.2 380.8,302.9 382.3,303.2 383.8,302.1 385.3,307.2 386.9,314.6 388.4,318.8 389.9,322.4 391.4,325.2 392.9,324.8 394.4,323.6 395.9,324.7 397.4,324.4 398.9,323.6 400.4,321.9 401.9,324.5 403.4,325.1 404.9,324.9 406.4,325.4 407.9,325.7 409.4,325.4 410.9,325.0 412.4,324.6 413.9,324.6 415.4,324.8 416.9,325.0 418.4,324.2 419.9,323.3 421.4,322.0 422.9,321.5 424.4,322.6 425.9,323.3 427.4,324.0 428.9,324.2 430.4,324.0 431.9,321.4 433.4,322.0 434.9,320.8 436.4,321.5 437.9,323.2 439.4,324.0 440.9,323.6 442.4,323.3 443.9,322.9 445.4,323.2 446.9,323.6 448.4,322.7 449.9,322.9 451.4,322.3 452.9,323.0 454.4,323.2 455.9,324.4 457.4,324.3 458.9,324.2 460.4,324.4 462.0,325.4 463.5,325.4 465.0,324.5 466.5,323.7 468.0,322.9 469.5,323.5 471.0,322.9 472.5,323.3 474.0,324.0 475.5,324.0 477.0,324.2 478.5,324.3 480.0,325.6 481.5,326.5 483.0,327.5 484.5,327.1 486.0,326.2 487.5,326.0 489.0,325.6 490.5,325.3 492.0,327.1 493.5,324.9 495.0,324.9 496.5,322.9 498.0,323.7 499.5,323.7 501.0,324.2 502.5,324.7 504.0,325.8 505.5,326.3 507.0,326.2 508.5,326.5 510.0,327.1 511.5,327.7 513.0,325.6 514.5,325.2 516.0,325.5 517.5,325.1 519.0,324.9 520.5,324.6 522.0,325.8 523.5,325.5 525.0,325.1 526.5,325.5 528.0,325.0 529.5,325.8 531.0,325.4 532.5,324.8 534.0,324.5 535.6,324.6 537.1,325.2 538.6,323.7 540.1,326.2 541.6,327.1 543.1,327.1 544.6,327.2 546.1,327.8 547.6,328.1 549.1,327.1 550.6,325.9 552.1,326.2 553.6,325.9 555.1,325.1 556.6,325.6 558.1,325.6 559.6,324.3 561.1,323.6 562.6,324.3 564.1,324.9 565.6,325.5 567.1,325.0 568.6,325.9 570.1,326.7 571.6,327.4 571.6,349.6 570.1,349.6 568.6,349.7 567.1,350.4 565.6,351.8 564.1,352.8 562.6,350.8 561.1,349.9 559.6,347.9 558.1,347.8 556.6,350.3 555.1,350.6 553.6,350.7 552.1,351.0 550.6,351.0 549.1,351.4 547.6,350.8 546.1,350.8 544.6,350.4 543.1,350.8 541.6,352.2 540.1,352.7 538.6,352.4 537.1,352.4 535.6,351.7 534.0,350.9 532.5,352.2 531.0,350.9 529.5,349.9 528.0,349.0 526.5,348.5 525.0,349.4 523.5,349.3 522.0,350.3 520.5,351.2 519.0,353.0 517.5,351.6 516.0,351.8 514.5,351.8 513.0,350.7 511.5,350.5 510.0,350.5 508.5,351.1 507.0,350.2 505.5,350.6 504.0,353.4 502.5,353.3 501.0,353.1 499.5,351.4 498.0,350.1 496.5,349.1 495.0,351.4 493.5,351.8 492.0,351.5 490.5,350.8 489.0,352.2 487.5,352.2 486.0,352.7 484.5,352.0 483.0,350.2 481.5,349.6 480.0,351.4 478.5,351.7 477.0,351.3 475.5,351.8 474.0,350.0 472.5,351.0 471.0,352.0 469.5,352.1 468.0,352.3 466.5,352.5 465.0,351.5 463.5,351.5 462.0,351.5 460.4,351.3 458.9,350.6 457.4,349.2 455.9,348.7 454.4,349.6 452.9,348.8 451.4,349.4 449.9,349.2 448.4,348.0 446.9,349.4 445.4,351.4 443.9,353.6 442.4,353.6 440.9,351.6 439.4,351.1 437.9,352.5 436.4,352.4 434.9,352.5 433.4,351.3 431.9,350.8 430.4,351.1 428.9,353.3 427.4,353.2 425.9,353.8 424.4,352.6 422.9,352.6 421.4,353.3 419.9,354.3 418.4,352.8 416.9,351.4 415.4,351.5 413.9,351.7 412.4,350.6 410.9,351.4 409.4,351.7 407.9,351.8 406.4,352.1 404.9,352.8 403.4,353.2 401.9,353.0 400.4,351.2 398.9,351.2 397.4,351.3 395.9,350.5 394.4,350.6 392.9,350.7 391.4,350.0 389.9,346.1 388.4,339.7 386.9,336.0 385.3,330.8 383.8,331.4 382.3,329.8 380.8,330.4 379.3,330.6 377.8,330.4 376.3,330.9 374.8,330.7 373.3,330.5 371.8,331.6Z" fill="#ffff00"/>
<path d="M371.8,314.4 373.3,314.0 374.9,315.1 376.4,314.9 377.9,314.9 379.4,313.6 380.9,313.7 382.4,313.6 383.9,315.2 385.4,317.5 386.9,320.7 388.4,323.1 389.9,327.0 391.5,328.0 393.0,327.5 394.5,327.9 396.0,327.6 397.5,327.3 399.0,327.0 400.5,327.0 402.0,327.6 403.5,328.8 405.0,329.2 406.6,327.2 408.1,327.7 409.6,327.5 411.1,326.2 412.6,327.2 414.1,326.9 415.6,327.0 417.1,326.6 418.6,325.9 420.1,326.5 421.6,327.6 423.2,327.7 424.7,327.7 426.2,328.1 427.7,327.4 429.2,328.1 430.7,326.9 432.2,327.6 433.7,327.1 435.2,327.1 436.7,327.1 438.3,327.5 439.8,326.5 441.3,326.1 442.8,327.2 444.3,327.7 445.8,327.4 447.3,326.8 448.8,326.8 450.3,328.0 451.8,328.2 453.4,328.7 454.9,328.9 456.4,327.8 457.9,326.2 459.4,326.3 460.9,328.1 462.4,330.0 463.9,330.0 465.4,329.9 466.9,329.2 468.4,327.5 470.0,326.8 471.5,326.5 473.0,327.4 474.5,327.8 476.0,327.7 477.5,327.0 479.0,326.4 480.5,327.4 482.0,327.6 483.5,327.9 485.1,328.2 486.6,326.8 488.1,326.0 489.6,326.5 491.1,325.8 492.6,325.7 494.1,326.0 495.6,326.2 497.1,328.1 498.6,330.4 500.2,329.8 501.7,329.6 503.2,329.6 504.7,328.1 506.2,325.8 507.7,327.1 509.2,327.2 510.7,327.7 512.2,328.6 513.7,329.4 515.2,327.3 516.8,326.8 518.3,326.6 519.8,327.7 521.3,325.9 522.8,326.5 524.3,329.4 525.8,332.8 527.3,335.0 527.3,337.0 525.8,340.6 524.3,343.3 522.8,346.3 521.3,346.0 519.8,344.7 518.3,344.3 516.8,344.8 515.2,344.5 513.7,345.2 512.2,345.7 510.7,347.1 509.2,347.8 507.7,347.1 506.2,346.4 504.7,346.4 503.2,347.0 501.7,346.1 500.2,346.1 498.6,344.5 497.1,345.4 495.6,346.1 494.1,348.1 492.6,348.1 491.1,349.0 489.6,348.7 488.1,347.4 486.6,347.0 485.1,346.5 483.5,346.0 482.0,345.9 480.5,347.1 479.0,344.9 477.5,346.3 476.0,347.7 474.5,348.8 473.0,347.6 471.5,346.7 470.0,347.7 468.4,347.3 466.9,347.6 465.4,347.1 463.9,347.2 462.4,349.3 460.9,349.9 459.4,348.4 457.9,347.3 456.4,347.2 454.9,347.9 453.4,347.3 451.8,347.0 450.3,348.1 448.8,349.7 447.3,348.8 445.8,348.0 444.3,349.6 442.8,349.3 441.3,349.9 439.8,350.1 438.3,350.4 436.7,350.2 435.2,349.2 433.7,349.2 432.2,350.1 430.7,349.5 429.2,349.4 427.7,348.7 426.2,348.4 424.7,348.2 423.2,349.4 421.6,350.2 420.1,348.8 418.6,347.9 417.1,349.1 415.6,347.9 414.1,348.6 412.6,348.8 411.1,349.6 409.6,348.0 408.1,347.4 406.6,346.6 405.0,348.4 403.5,348.4 402.0,348.7 400.5,349.4 399.0,349.3 397.5,349.4 396.0,348.3 394.5,347.5 393.0,348.9 391.5,349.9 389.9,346.9 388.4,339.7 386.9,334.5 385.4,328.0 383.9,325.4 382.4,325.9 380.9,327.1 379.4,327.6 377.9,325.6 376.4,326.7 374.9,325.0 373.3,325.0 371.8,325.8Z" fill="#ff8a00"/>
<ellipse cx="548.4" cy="335.6" rx="2.5" ry="6.0" fill="#ff8a00"/>
<ellipse cx="560.8" cy="336.8" rx="3.5" ry="6.0" fill="#ff8a00"/>
<path d="M388.0,327.2 389.6,328.3 391.1,328.0 392.6,327.9 394.2,327.2 395.7,327.0 397.2,327.8 398.8,328.4 400.3,329.7 401.8,332.1 403.4,328.8 404.9,327.3 406.4,327.8 408.0,328.0 409.5,327.8 411.0,327.8 412.6,329.6 414.1,330.7 415.6,332.0 417.2,334.5 418.7,334.3 420.2,330.4 421.8,329.3 423.3,329.7 424.8,329.5 426.4,329.9 427.9,329.3 429.4,328.5 431.0,329.1 432.5,330.0 434.0,329.3 435.6,328.8 437.1,328.6 438.6,329.9 440.2,330.3 441.7,328.9 443.2,329.6 444.8,329.2 446.3,329.6 447.8,329.0 449.4,329.4 450.9,329.8 452.4,331.7 454.0,334.1 455.5,334.7 455.5,334.7 454.0,335.1 452.4,336.1 450.9,335.8 449.4,337.0 447.8,337.1 446.3,337.6 444.8,339.6 443.2,340.4 441.7,339.1 440.2,336.6 438.6,336.2 437.1,338.1 435.6,339.8 434.0,340.0 432.5,339.5 431.0,339.2 429.4,340.0 427.9,339.1 426.4,338.1 424.8,338.3 423.3,337.9 421.8,338.6 420.2,337.7 418.7,334.5 417.2,334.8 415.6,336.3 414.1,337.7 412.6,338.7 411.0,338.6 409.5,339.6 408.0,340.0 406.4,339.4 404.9,339.7 403.4,338.9 401.8,340.2 400.3,341.1 398.8,341.3 397.2,340.1 395.7,340.4 394.2,340.4 392.6,340.1 391.1,340.5 389.6,339.4 388.0,333.2Z" fill="#f81e08"/>
<ellipse cx="416.1" cy="341.6" rx="1.5" ry="5.0" fill="#f81e08"/>
<ellipse cx="469.0" cy="335.6" rx="1.5" ry="3.0" fill="#f81e08"/>
<ellipse cx="501.4" cy="336.8" rx="1.0" ry="3.0" fill="#f81e08"/>
<ellipse cx="395.6" cy="334.5" rx="3.5" ry="3.0" fill="#b80808"/>
<ellipse cx="535.4" cy="372.3" rx="3.0" ry="4.0" fill="#ffffff"/>
<ellipse cx="549.5" cy="365.2" rx="2.0" ry="4.0" fill="#ffffff"/>
<ellipse cx="561.3" cy="368.8" rx="2.5" ry="3.0" fill="#ffffff"/>
</g>
<clipPath id="clipf"><rect x="701.2" y="250.8" width="189.3" height="141.2"/></clipPath>
<g clip-path="url(#clipf)">
<path d="M695.5,269.1 697.0,266.5 698.5,264.7 700.0,264.5 701.5,263.8 703.0,264.0 704.6,267.5 706.1,269.5 707.6,269.8 709.1,279.5 710.6,287.5 712.1,297.6 713.6,310.4 715.1,311.3 716.6,311.7 718.1,312.6 719.6,312.2 721.1,312.6 722.6,311.8 724.1,311.8 725.6,312.8 727.2,311.1 728.7,312.1 730.2,312.1 731.7,312.7 733.2,311.8 734.7,313.0 736.2,312.1 737.7,309.8 739.2,312.8 740.7,314.1 742.2,313.2 743.7,311.7 745.2,313.7 746.7,315.6 748.3,316.4 749.8,316.1 751.3,313.6 752.8,312.7 754.3,310.0 755.8,310.2 757.3,310.7 758.8,311.9 760.3,311.2 761.8,311.5 763.3,311.3 764.8,312.8 766.3,314.6 767.8,314.7 769.3,314.8 770.9,315.6 772.4,316.3 773.9,316.8 775.4,315.3 776.9,313.6 778.4,312.5 779.9,311.8 781.4,314.6 782.9,313.8 784.4,311.8 785.9,311.8 787.4,311.3 788.9,310.6 790.4,310.9 791.9,310.9 793.5,312.3 795.0,313.4 796.5,314.1 798.0,314.3 799.5,310.8 801.0,310.6 802.5,310.3 804.0,310.2 805.5,311.7 807.0,312.4 808.5,313.8 810.0,313.6 811.5,313.3 813.0,314.7 814.5,313.9 816.1,314.0 817.6,314.5 819.1,313.2 820.6,313.5 822.1,314.9 823.6,315.2 825.1,315.2 826.6,315.5 828.1,314.2 829.6,313.3 831.1,314.2 832.6,314.0 834.1,314.1 835.6,313.9 837.2,313.1 838.7,313.4 840.2,313.1 841.7,311.6 843.2,310.6 844.7,310.9 846.2,312.0 847.7,312.9 849.2,313.2 850.7,315.8 852.2,315.9 853.7,315.5 855.2,315.3 856.7,314.2 858.2,314.8 859.8,316.0 861.3,314.3 862.8,312.4 864.3,311.9 865.8,314.2 867.3,315.8 868.8,313.6 870.3,315.2 871.8,316.0 873.3,314.3 874.8,316.2 876.3,316.5 877.8,316.3 879.3,316.2 880.8,317.5 882.4,316.3 883.9,316.9 885.4,317.4 886.9,315.5 888.4,315.3 889.9,313.8 891.4,313.7 892.9,312.5 894.4,314.7 895.9,314.9 895.9,390.4 894.4,390.4 892.9,390.6 891.4,392.4 889.9,391.0 888.4,391.4 886.9,390.7 885.4,391.4 883.9,392.5 882.4,393.3 880.8,393.0 879.3,393.4 877.8,393.5 876.3,391.5 874.8,392.1 873.3,392.2 871.8,392.2 870.3,390.8 868.8,390.2 867.3,392.1 865.8,394.8 864.3,395.2 862.8,393.6 861.3,393.6 859.8,392.2 858.2,393.1 856.7,393.1 855.2,392.6 853.7,392.3 852.2,393.2 850.7,391.7 849.2,392.3 847.7,393.2 846.2,392.4 844.7,392.0 843.2,391.3 841.7,391.8 840.2,391.8 838.7,392.7 837.2,394.6 835.6,393.1 834.1,392.0 832.6,392.9 831.1,391.5 829.6,390.7 828.1,391.0 826.6,390.1 825.1,389.4 823.6,388.8 822.1,391.2 820.6,394.8 819.1,397.4 817.6,395.9 816.1,394.4 814.5,392.5 813.0,392.4 811.5,391.3 810.0,390.5 808.5,391.0 807.0,390.9 805.5,391.4 804.0,390.5 802.5,392.0 801.0,392.0 799.5,391.3 798.0,392.1 796.5,394.1 795.0,393.8 793.5,394.4 791.9,392.1 790.4,389.2 788.9,387.8 787.4,387.7 785.9,387.5 784.4,383.8 782.9,382.4 781.4,380.9 779.9,379.3 778.4,378.9 776.9,379.7 775.4,381.2 773.9,380.0 772.4,377.6 770.9,375.4 769.3,375.0 767.8,374.2 766.3,373.3 764.8,372.3 763.3,371.9 761.8,372.0 760.3,371.3 758.8,373.0 757.3,373.8 755.8,373.3 754.3,370.8 752.8,369.7 751.3,370.0 749.8,369.4 748.3,368.2 746.7,369.9 745.2,371.2 743.7,369.6 742.2,370.0 740.7,369.3 739.2,369.1 737.7,368.2 736.2,365.4 734.7,365.4 733.2,365.3 731.7,365.4 730.2,365.0 728.7,365.2 727.2,365.3 725.6,365.3 724.1,364.7 722.6,363.5 721.1,362.7 719.6,364.4 718.1,363.4 716.6,361.0 715.1,361.3 713.6,356.8 712.1,351.9 710.6,346.2 709.1,339.2 707.6,336.9 706.1,336.3 704.6,337.2 703.0,337.4 701.5,335.7 700.0,333.5 698.5,335.8 697.0,336.4 695.5,336.4Z" fill="#0f3cf0" stroke="#0a1e9c" stroke-width="0.7" stroke-linejoin="round"/>
<path d="M695.5,277.5 697.0,278.6 698.5,278.3 700.0,277.1 701.5,277.5 703.0,277.5 704.6,276.7 706.1,277.0 707.6,278.8 709.1,287.0 710.6,299.2 712.1,308.3 713.6,313.8 715.1,316.4 716.6,316.6 718.1,316.3 719.6,316.1 721.1,315.4 722.6,317.2 724.1,317.3 725.6,317.7 727.2,318.6 728.7,318.3 730.2,317.8 731.7,319.1 733.2,318.5 734.7,318.5 736.2,318.0 737.7,316.9 739.2,315.8 740.7,316.8 742.2,317.4 743.7,316.4 745.2,318.6 746.7,318.7 748.3,319.7 749.8,319.4 751.3,317.9 752.8,318.8 754.3,319.8 755.8,320.0 757.3,319.5 758.8,321.5 760.3,318.3 761.8,318.5 763.3,319.1 764.8,319.7 766.3,320.6 767.8,319.9 769.3,317.9 770.9,317.6 772.4,318.2 773.9,319.6 775.4,320.8 776.9,320.9 778.4,320.2 779.9,320.2 781.4,318.8 782.9,320.2 784.4,321.9 785.9,325.5 787.4,327.2 788.9,326.6 790.4,326.8 791.9,326.8 793.5,326.0 795.0,327.3 796.5,327.9 798.0,327.9 799.5,328.0 801.0,327.5 802.5,327.5 804.0,328.3 805.5,327.5 807.0,328.8 808.5,328.3 810.0,326.0 811.5,326.0 813.0,326.1 814.5,328.3 816.1,329.4 817.6,328.8 819.1,330.5 820.6,330.3 822.1,332.0 823.6,331.8 825.1,331.2 826.6,330.8 828.1,329.8 829.6,329.3 831.1,326.2 832.6,327.7 834.1,329.5 835.6,328.2 837.2,328.5 838.7,329.2 840.2,330.4 841.7,332.0 843.2,333.1 844.7,330.8 846.2,330.5 847.7,330.4 849.2,329.7 850.7,329.4 852.2,331.0 853.7,332.3 855.2,333.2 856.7,333.6 858.2,331.2 859.8,329.8 861.3,328.8 862.8,330.2 864.3,330.6 865.8,331.6 867.3,331.4 868.8,330.7 870.3,329.9 871.8,328.5 873.3,327.9 874.8,327.9 876.3,329.2 877.8,332.4 879.3,331.8 880.8,331.3 882.4,332.0 883.9,331.1 885.4,331.5 886.9,333.9 888.4,332.4 889.9,332.0 891.4,333.6 892.9,333.3 894.4,333.6 895.9,333.4 895.9,385.7 894.4,387.0 892.9,388.4 891.4,387.3 889.9,388.3 888.4,387.2 886.9,388.4 885.4,388.7 883.9,387.7 882.4,389.6 880.8,387.9 879.3,386.7 877.8,386.9 876.3,386.6 874.8,386.2 873.3,387.6 871.8,388.7 870.3,385.9 868.8,385.9 867.3,384.5 865.8,385.4 864.3,386.5 862.8,386.5 861.3,388.1 859.8,389.5 858.2,389.0 856.7,389.0 855.2,389.4 853.7,390.2 852.2,389.5 850.7,387.0 849.2,386.7 847.7,386.5 846.2,384.1 844.7,382.6 843.2,383.8 841.7,385.7 840.2,385.8 838.7,385.4 837.2,385.7 835.6,385.9 834.1,385.7 832.6,385.4 831.1,384.3 829.6,384.7 828.1,387.2 826.6,387.0 825.1,386.7 823.6,386.2 822.1,384.6 820.6,384.4 819.1,385.4 817.6,385.7 816.1,386.3 814.5,386.8 813.0,387.6 811.5,385.4 810.0,385.4 808.5,384.4 807.0,384.5 805.5,383.6 804.0,385.4 802.5,384.8 801.0,383.2 799.5,384.3 798.0,384.2 796.5,381.9 795.0,380.9 793.5,379.5 791.9,379.7 790.4,378.7 788.9,378.0 787.4,376.1 785.9,375.8 784.4,374.3 782.9,372.0 781.4,371.0 779.9,370.3 778.4,370.3 776.9,368.6 775.4,367.7 773.9,365.8 772.4,366.3 770.9,367.3 769.3,366.5 767.8,366.9 766.3,368.4 764.8,368.6 763.3,366.2 761.8,366.2 760.3,365.0 758.8,366.6 757.3,365.9 755.8,365.0 754.3,364.1 752.8,365.5 751.3,366.4 749.8,365.9 748.3,364.5 746.7,363.7 745.2,364.5 743.7,364.6 742.2,364.3 740.7,364.3 739.2,364.0 737.7,363.2 736.2,362.2 734.7,361.8 733.2,361.7 731.7,362.0 730.2,362.1 728.7,361.4 727.2,362.9 725.6,362.2 724.1,362.5 722.6,365.2 721.1,365.3 719.6,365.0 718.1,362.5 716.6,361.5 715.1,358.7 713.6,354.7 712.1,349.3 710.6,341.0 709.1,334.5 707.6,335.0 706.1,334.0 704.6,335.5 703.0,337.2 701.5,336.3 700.0,335.2 698.5,335.2 697.0,335.9 695.5,334.2Z" fill="#46f09c"/>
<path d="M695.5,287.1 697.0,287.2 698.5,287.8 700.0,287.2 701.5,288.6 703.1,288.5 704.6,288.6 706.1,289.0 707.6,288.1 709.1,293.6 710.6,306.7 712.1,313.4 713.6,318.9 715.1,322.9 716.6,323.7 718.1,323.8 719.6,323.3 721.1,323.1 722.7,324.6 724.2,324.4 725.7,323.5 727.2,322.7 728.7,323.2 730.2,322.7 731.7,323.7 733.2,322.8 734.7,322.0 736.2,321.2 737.7,322.0 739.2,322.8 740.8,324.2 742.3,325.3 743.8,324.1 745.3,325.4 746.8,324.8 748.3,323.7 749.8,323.2 751.3,323.6 752.8,322.5 754.3,323.8 755.8,324.3 757.3,324.3 758.8,324.4 760.4,322.1 761.9,322.8 763.4,323.9 764.9,322.8 766.4,323.5 767.9,322.7 769.4,323.8 770.9,321.5 772.4,322.1 773.9,325.2 775.4,326.5 776.9,326.7 778.5,326.5 780.0,326.8 781.5,327.7 783.0,327.5 784.5,327.9 786.0,326.5 787.5,325.6 789.0,327.2 790.5,328.1 792.0,329.0 793.5,328.3 795.0,328.9 796.5,329.4 798.1,329.7 799.6,329.3 801.1,330.8 802.6,330.3 804.1,330.2 805.6,328.9 807.1,330.3 808.6,332.1 810.1,332.8 811.6,332.6 813.1,333.5 814.6,332.9 816.1,333.3 817.7,333.4 819.2,332.0 820.7,331.3 822.2,330.7 823.7,329.7 825.2,332.1 826.7,335.3 828.2,338.9 828.2,338.9 826.7,341.6 825.2,344.2 823.7,346.4 822.2,345.0 820.7,345.5 819.2,345.1 817.7,345.6 816.1,345.7 814.6,346.5 813.1,346.2 811.6,345.7 810.1,346.8 808.6,346.4 807.1,343.8 805.6,344.6 804.1,344.3 802.6,343.9 801.1,344.9 799.6,343.6 798.1,343.6 796.5,343.7 795.0,345.5 793.5,347.0 792.0,346.8 790.5,349.6 789.0,348.6 787.5,348.2 786.0,347.1 784.5,346.8 783.0,347.2 781.5,347.4 780.0,348.3 778.5,349.9 776.9,349.5 775.4,348.2 773.9,347.6 772.4,348.6 770.9,349.4 769.4,348.8 767.9,349.3 766.4,349.9 764.9,348.9 763.4,348.1 761.9,349.8 760.4,349.9 758.8,349.9 757.3,352.7 755.8,350.8 754.3,349.5 752.8,350.4 751.3,350.0 749.8,351.4 748.3,352.6 746.8,353.6 745.3,352.3 743.8,350.9 742.3,351.8 740.8,350.3 739.2,351.3 737.7,352.2 736.2,352.5 734.7,351.7 733.2,349.5 731.7,348.8 730.2,349.7 728.7,349.7 727.2,349.8 725.7,350.0 724.2,349.1 722.7,349.2 721.1,348.7 719.6,349.4 718.1,348.4 716.6,349.0 715.1,347.9 713.6,346.9 712.1,341.7 710.6,335.0 709.1,327.6 707.6,327.5 706.1,327.3 704.6,327.7 703.1,325.9 701.5,325.5 700.0,326.8 698.5,327.1 697.0,328.7 695.5,327.9Z" fill="#ffff00"/>
<ellipse cx="795.7" cy="338.0" rx="2.5" ry="2.5" fill="#46f09c"/>
<ellipse cx="806.5" cy="341.6" rx="3.0" ry="3.0" fill="#46f09c"/>
<ellipse cx="817.4" cy="338.0" rx="2.0" ry="4.0" fill="#46f09c"/>
<path d="M812.0,376.2 813.5,375.2 815.0,374.1 816.5,373.4 818.1,372.0 819.6,372.1 821.1,371.5 822.6,369.7 824.2,369.1 825.7,367.9 827.2,368.6 828.8,368.5 830.3,368.0 831.8,368.2 833.3,368.3 834.9,368.8 836.4,368.0 837.9,369.5 839.4,368.9 841.0,367.9 842.5,368.2 844.0,368.1 845.5,368.5 847.1,367.6 848.6,368.3 850.1,369.2 851.7,367.8 853.2,368.3 854.7,369.4 856.2,369.6 857.8,368.3 859.3,369.6 860.8,369.9 862.3,368.8 863.9,368.8 865.4,367.9 866.9,368.6 868.4,369.3 870.0,369.0 871.5,369.1 873.0,369.7 874.5,368.4 876.1,368.5 877.6,369.1 879.1,370.5 880.7,370.5 882.2,370.6 883.7,369.5 885.2,367.9 886.8,366.8 888.3,367.5 889.8,368.6 891.3,369.3 892.9,368.6 894.4,369.1 895.9,369.7 895.9,386.0 894.4,384.6 892.9,384.5 891.3,385.8 889.8,386.4 888.3,385.5 886.8,385.5 885.2,385.9 883.7,386.1 882.2,385.2 880.7,385.1 879.1,386.4 877.6,386.0 876.1,385.3 874.5,385.2 873.0,385.8 871.5,386.9 870.0,386.7 868.4,386.5 866.9,386.6 865.4,388.1 863.9,387.8 862.3,387.0 860.8,386.1 859.3,386.6 857.8,386.0 856.2,386.8 854.7,386.3 853.2,385.9 851.7,385.9 850.1,385.0 848.6,386.6 847.1,388.0 845.5,387.3 844.0,386.6 842.5,385.0 841.0,385.1 839.4,384.8 837.9,386.0 836.4,386.1 834.9,387.2 833.3,387.2 831.8,385.7 830.3,386.4 828.8,385.4 827.2,386.2 825.7,387.0 824.2,386.7 822.6,386.0 821.1,384.6 819.6,383.3 818.1,382.3 816.5,383.7 815.0,382.9 813.5,380.4 812.0,378.4Z" fill="#ffff00"/>
<path d="M803.8,375.9 804.7,377.6 803.4,378.5 802.1,378.5 801.1,380.8 800.2,378.6 799.5,377.7 798.9,376.9 797.6,375.9 797.5,374.1 799.3,373.8 799.9,372.5 801.1,373.3 802.6,371.8 803.7,372.9 803.8,374.6Z" fill="#ffff00"/>
<ellipse cx="819.0" cy="351.0" rx="1.5" ry="14.0" fill="#ffff00"/>
<ellipse cx="806.5" cy="362.9" rx="1.5" ry="6.0" fill="#ffff00"/>
<ellipse cx="832.0" cy="360.5" rx="1.5" ry="8.0" fill="#ffff00"/>
<ellipse cx="849.9" cy="345.1" rx="1.0" ry="6.0" fill="#ffff00"/>
<path d="M695.5,299.2 697.0,299.3 698.6,299.6 700.1,298.4 701.6,298.1 703.1,298.5 704.6,299.1 706.2,300.1 707.7,302.3 709.2,309.7 710.7,322.2 712.3,324.3 713.8,325.3 715.3,325.1 716.8,323.7 718.3,325.3 719.9,325.7 721.4,326.6 722.9,327.6 724.4,328.1 726.0,327.2 727.5,326.5 729.0,326.3 730.5,327.0 732.0,325.8 733.6,326.7 735.1,325.8 736.6,325.2 738.1,325.1 739.7,326.6 741.2,326.6 742.7,327.9 744.2,328.7 745.7,329.0 747.3,327.7 748.8,326.6 750.3,325.0 751.8,327.2 753.4,326.9 754.9,328.4 756.4,328.2 757.9,328.5 759.4,329.2 761.0,328.4 762.5,328.3 764.0,326.7 765.5,327.9 767.1,329.0 768.6,328.5 770.1,326.8 771.6,326.1 773.1,328.2 774.7,330.3 776.2,332.9 777.7,332.8 779.2,333.7 780.8,336.4 782.3,336.9 783.8,337.1 783.8,337.1 782.3,339.4 780.8,338.9 779.2,341.0 777.7,342.5 776.2,344.1 774.7,343.9 773.1,344.3 771.6,343.4 770.1,344.0 768.6,344.4 767.1,344.6 765.5,344.6 764.0,345.4 762.5,344.2 761.0,344.5 759.4,344.8 757.9,345.5 756.4,345.4 754.9,345.9 753.4,345.1 751.8,344.7 750.3,345.1 748.8,346.0 747.3,345.9 745.7,345.6 744.2,343.8 742.7,344.8 741.2,344.0 739.7,345.1 738.1,345.6 736.6,346.8 735.1,347.5 733.6,347.1 732.0,347.3 730.5,347.9 729.0,347.4 727.5,348.2 726.0,348.5 724.4,346.9 722.9,347.5 721.4,347.3 719.9,346.1 718.3,347.6 716.8,348.3 715.3,348.7 713.8,344.9 712.3,337.8 710.7,331.5 709.2,322.5 707.7,318.9 706.2,317.5 704.6,317.9 703.1,318.6 701.6,317.3 700.1,318.2 698.6,318.3 697.0,317.3 695.5,317.0Z" fill="#ff8a00"/>
<path d="M835.3,376.7 836.8,376.3 838.3,375.3 839.8,374.1 841.3,374.0 842.8,374.2 844.4,373.3 845.9,372.7 847.4,372.5 848.9,372.5 850.4,372.7 851.9,372.5 853.5,373.0 855.0,372.4 856.5,372.2 858.0,371.8 859.5,371.9 861.0,370.8 862.6,371.7 864.1,370.5 865.6,370.2 867.1,369.5 868.6,370.5 870.1,370.0 871.7,370.5 873.2,372.2 874.7,372.1 876.2,372.0 877.7,371.9 879.2,371.9 880.8,371.8 882.3,371.4 883.8,371.7 885.3,371.5 886.8,371.7 888.3,371.1 889.9,371.0 891.4,370.2 892.9,370.7 894.4,370.5 895.9,370.5 895.9,384.2 894.4,384.3 892.9,384.3 891.4,383.4 889.9,383.1 888.3,383.0 886.8,383.6 885.3,384.5 883.8,383.6 882.3,383.5 880.8,383.8 879.2,384.8 877.7,384.8 876.2,385.2 874.7,384.9 873.2,384.8 871.7,385.3 870.1,384.6 868.6,383.8 867.1,383.6 865.6,383.9 864.1,384.0 862.6,384.1 861.0,385.1 859.5,385.6 858.0,384.6 856.5,383.1 855.0,384.7 853.5,384.1 851.9,384.7 850.4,384.4 848.9,383.3 847.4,381.2 845.9,382.6 844.4,382.5 842.8,382.8 841.3,382.7 839.8,381.4 838.3,381.5 836.8,381.0 835.3,381.4Z" fill="#ff8a00"/>
<path d="M708.0,315.4 709.5,319.8 711.0,323.1 712.5,329.5 714.1,332.3 715.6,333.4 717.1,334.4 718.6,334.7 720.2,333.0 721.7,332.1 723.2,331.3 724.7,332.6 726.3,334.3 727.8,335.5 729.3,335.2 730.8,334.2 732.4,332.3 733.9,332.5 735.4,331.7 736.9,331.8 738.5,332.6 740.0,332.3 741.5,333.1 743.0,333.7 744.6,334.5 746.1,334.2 747.6,335.0 749.1,337.1 750.7,336.4 752.2,335.8 753.7,333.7 755.2,334.0 756.8,335.9 758.3,335.4 759.8,335.6 761.3,335.1 762.9,334.4 764.4,336.2 765.9,338.1 765.9,338.1 764.4,339.7 762.9,341.7 761.3,343.4 759.8,343.8 758.3,343.1 756.8,341.4 755.2,341.5 753.7,342.7 752.2,341.4 750.7,340.2 749.1,338.4 747.6,339.7 746.1,341.7 744.6,340.7 743.0,340.0 741.5,341.2 740.0,341.1 738.5,341.8 736.9,341.2 735.4,341.9 733.9,341.4 732.4,341.4 730.8,341.3 729.3,340.2 727.8,338.5 726.3,340.4 724.7,343.5 723.2,343.2 721.7,343.1 720.2,343.7 718.6,342.6 717.1,342.3 715.6,342.6 714.1,342.6 712.5,340.1 711.0,335.4 709.5,329.1 708.0,321.3Z" fill="#f81e08"/>
<ellipse cx="775.7" cy="338.0" rx="3.0" ry="2.5" fill="#f81e08"/>
<path d="M846.1,378.6 847.6,378.0 849.1,377.8 850.6,377.2 852.1,376.0 853.6,375.9 855.1,375.1 856.7,374.2 858.2,374.5 859.7,374.0 861.2,374.6 862.7,374.0 864.2,374.4 865.7,374.6 867.2,374.1 868.7,374.4 870.2,373.9 871.8,374.0 873.3,373.5 874.8,373.5 876.3,373.3 877.8,373.3 879.3,374.0 880.8,373.5 882.3,373.5 883.8,372.7 885.3,372.7 886.9,372.4 888.4,372.1 889.9,371.9 891.4,372.6 892.9,373.3 894.4,373.9 895.9,373.8 895.9,382.4 894.4,382.3 892.9,382.5 891.4,382.7 889.9,383.3 888.4,382.9 886.9,382.5 885.3,382.5 883.8,383.0 882.3,382.2 880.8,382.8 879.3,382.9 877.8,382.9 876.3,382.1 874.8,382.1 873.3,382.1 871.8,381.5 870.2,382.2 868.7,382.4 867.2,381.9 865.7,382.8 864.2,382.5 862.7,382.3 861.2,381.9 859.7,381.4 858.2,382.0 856.7,381.7 855.1,381.6 853.6,380.9 852.1,380.2 850.6,380.1 849.1,379.8 847.6,379.8 846.1,379.4Z" fill="#f81e08"/>
<path d="M868.8,378.3 870.3,378.3 871.8,378.1 873.3,378.1 874.9,378.1 876.4,377.9 877.9,377.5 879.4,377.4 880.9,377.4 882.4,377.5 883.9,376.8 885.4,376.8 886.9,376.2 888.4,376.4 889.9,375.8 891.4,376.6 892.9,377.0 894.4,377.3 895.9,377.7 895.9,380.6 894.4,380.5 892.9,380.7 891.4,380.5 889.9,380.5 888.4,380.7 886.9,380.6 885.4,380.2 883.9,380.5 882.4,380.2 880.9,380.2 879.4,379.9 877.9,379.9 876.4,380.1 874.9,379.9 873.3,379.7 871.8,379.4 870.3,379.3 868.8,379.0Z" fill="#b80808"/>
<ellipse cx="852.6" cy="342.7" rx="1.0" ry="2.0" fill="#0f3cf0"/>
<ellipse cx="809.3" cy="366.4" rx="1.0" ry="1.5" fill="#0f3cf0"/>
<ellipse cx="852.6" cy="366.4" rx="1.0" ry="1.5" fill="#0f3cf0"/>
<ellipse cx="885.1" cy="366.4" rx="1.5" ry="1.5" fill="#0f3cf0"/>
</g>
<clipPath id="clipg"><rect x="56.4" y="471.6" width="189.2" height="141.8"/></clipPath>
<g clip-path="url(#clipg)">
<path d="M50.7,488.8 52.2,488.7 53.7,490.0 55.2,491.8 56.7,490.9 58.2,491.0 59.8,498.2 61.3,505.5 62.8,500.1 64.3,500.8 65.8,517.3 67.3,529.8 68.8,531.4 70.3,531.7 71.8,530.6 73.3,529.8 74.8,531.1 76.3,532.9 77.8,533.9 79.3,532.2 80.8,532.4 82.3,532.4 83.8,534.2 85.4,532.6 86.9,531.1 88.4,531.2 89.9,532.1 91.4,532.9 92.9,530.8 94.4,531.8 95.9,534.2 97.4,535.9 98.9,535.2 100.4,534.3 101.9,534.0 103.4,533.4 104.9,533.8 106.4,535.0 107.9,534.2 109.4,535.3 111.0,534.9 112.5,536.8 114.0,536.8 115.5,536.0 117.0,535.5 118.5,536.1 120.0,536.4 121.5,536.6 123.0,536.2 124.5,536.3 126.0,535.3 127.5,534.4 129.0,535.2 130.5,537.0 132.0,536.7 133.5,535.9 135.1,536.1 136.6,536.9 138.1,535.9 139.6,535.7 141.1,536.7 142.6,535.6 144.1,537.3 145.6,537.1 147.1,536.8 148.6,538.2 150.1,537.1 151.6,537.2 153.1,535.9 154.6,536.9 156.1,539.5 157.6,539.0 159.1,538.0 160.7,539.8 162.2,538.2 163.7,539.2 165.2,540.4 166.7,541.5 168.2,539.8 169.7,541.4 171.2,541.0 172.7,541.8 174.2,542.7 175.7,543.5 177.2,543.6 178.7,545.0 180.2,545.1 181.7,544.8 183.2,545.9 184.7,545.2 186.3,543.9 187.8,543.4 189.3,543.3 190.8,542.2 192.3,543.8 193.8,542.2 195.3,542.5 196.8,544.6 198.3,544.5 199.8,543.9 201.3,543.9 202.8,545.4 204.3,545.0 205.8,547.7 207.3,546.5 208.8,547.1 210.4,544.9 211.9,547.6 213.4,549.1 214.9,549.7 216.4,550.5 217.9,548.9 219.4,548.6 220.9,549.3 222.4,548.1 223.9,548.8 225.4,549.7 226.9,551.2 228.4,553.8 229.9,552.8 231.4,548.8 232.9,546.8 234.4,547.4 236.0,546.1 237.5,548.3 239.0,549.8 240.5,548.6 242.0,548.4 243.5,546.7 245.0,546.6 246.5,546.7 248.0,546.9 249.5,552.3 251.0,552.9 251.0,613.1 249.5,614.5 248.0,615.5 246.5,615.8 245.0,614.0 243.5,612.0 242.0,611.5 240.5,610.5 239.0,611.1 237.5,612.8 236.0,610.0 234.4,609.3 232.9,610.0 231.4,610.4 229.9,613.4 228.4,614.1 226.9,611.5 225.4,612.1 223.9,613.8 222.4,611.3 220.9,612.7 219.4,611.3 217.9,613.0 216.4,615.1 214.9,614.5 213.4,613.3 211.9,612.7 210.4,610.5 208.8,612.4 207.3,612.5 205.8,610.0 204.3,608.5 202.8,607.1 201.3,609.6 199.8,608.2 198.3,610.0 196.8,610.7 195.3,611.2 193.8,610.3 192.3,613.7 190.8,613.5 189.3,612.8 187.8,610.1 186.3,608.8 184.7,607.9 183.2,609.4 181.7,610.3 180.2,610.9 178.7,611.6 177.2,610.8 175.7,613.3 174.2,613.4 172.7,612.6 171.2,611.8 169.7,611.2 168.2,610.6 166.7,613.7 165.2,614.0 163.7,610.8 162.2,611.4 160.7,613.1 159.1,611.7 157.6,610.3 156.1,610.6 154.6,611.1 153.1,611.7 151.6,614.5 150.1,613.0 148.6,610.5 147.1,607.0 145.6,608.3 144.1,607.9 142.6,609.5 141.1,611.5 139.6,611.4 138.1,611.9 136.6,611.6 135.1,610.2 133.5,606.3 132.0,602.7 130.5,602.5 129.0,600.3 127.5,600.8 126.0,600.9 124.5,602.4 123.0,603.0 121.5,603.3 120.0,602.1 118.5,601.4 117.0,602.8 115.5,600.9 114.0,600.4 112.5,600.9 111.0,601.1 109.4,600.5 107.9,598.7 106.4,596.5 104.9,596.5 103.4,596.7 101.9,594.9 100.4,595.0 98.9,598.0 97.4,599.4 95.9,600.2 94.4,599.4 92.9,596.0 91.4,595.6 89.9,597.6 88.4,595.2 86.9,589.8 85.4,587.7 83.8,588.5 82.3,589.2 80.8,587.7 79.3,584.9 77.8,583.6 76.3,583.9 74.8,583.8 73.3,583.8 71.8,582.0 70.3,579.2 68.8,575.4 67.3,570.3 65.8,567.6 64.3,560.0 62.8,559.2 61.3,558.1 59.8,559.2 58.2,557.7 56.7,557.3 55.2,559.3 53.7,559.9 52.2,559.8 50.7,559.1Z" fill="#0f3cf0" stroke="#0a1e9c" stroke-width="0.7" stroke-linejoin="round"/>
<path d="M50.7,512.4 52.2,510.7 53.7,510.7 55.2,511.8 56.7,510.8 58.2,510.7 59.8,508.9 61.3,508.7 62.8,509.6 64.3,516.1 65.8,528.7 67.3,534.1 68.8,538.6 70.3,539.7 71.8,538.9 73.3,537.2 74.8,536.8 76.3,537.4 77.8,537.9 79.3,540.4 80.8,540.5 82.3,539.0 83.8,538.8 85.4,537.1 86.9,538.9 88.4,540.5 89.9,540.7 91.4,541.3 92.9,539.2 94.4,540.5 95.9,541.3 97.4,541.8 98.9,540.7 100.4,540.1 101.9,542.0 103.4,540.9 104.9,541.3 106.4,541.2 107.9,542.3 109.4,542.8 111.0,542.6 112.5,541.1 114.0,541.1 115.5,541.5 117.0,542.1 118.5,542.8 120.0,542.5 121.5,543.4 123.0,543.2 124.5,543.5 126.0,544.0 127.5,544.1 129.0,543.3 130.5,542.4 132.0,542.1 133.5,542.1 135.1,541.6 136.6,543.4 138.1,546.0 139.6,545.3 141.1,545.9 142.6,546.0 144.1,547.0 145.6,547.4 147.1,548.4 148.6,550.1 150.1,549.3 151.6,547.1 153.1,547.1 154.6,547.9 156.1,548.7 157.6,548.1 159.1,549.1 160.7,550.5 162.2,550.7 163.7,550.9 165.2,550.8 166.7,549.9 168.2,550.4 169.7,550.4 171.2,552.4 172.7,555.8 174.2,555.3 175.7,553.8 177.2,552.8 178.7,552.7 180.2,553.0 181.7,554.6 183.2,554.7 184.7,554.3 186.3,553.1 187.8,550.0 189.3,549.7 190.8,550.5 192.3,551.4 193.8,552.8 195.3,552.7 196.8,554.4 198.3,556.7 199.8,558.2 201.3,557.1 202.8,555.4 204.3,556.5 205.8,557.6 207.3,554.8 208.8,555.1 210.4,553.7 211.9,553.8 213.4,553.6 214.9,554.2 216.4,553.8 217.9,556.2 219.4,558.1 220.9,557.2 222.4,559.0 223.9,558.6 225.4,557.9 226.9,555.1 228.4,557.3 229.9,557.1 231.4,557.4 232.9,556.9 234.4,558.7 236.0,557.8 237.5,558.2 239.0,558.2 240.5,559.6 242.0,558.8 243.5,560.4 245.0,561.3 246.5,561.0 248.0,560.5 249.5,561.9 251.0,560.2 251.0,605.5 249.5,606.8 248.0,606.7 246.5,606.3 245.0,605.3 243.5,605.2 242.0,604.1 240.5,604.9 239.0,603.9 237.5,604.0 236.0,604.7 234.4,606.9 232.9,605.8 231.4,605.4 229.9,605.1 228.4,604.3 226.9,603.6 225.4,605.0 223.9,605.6 222.4,605.2 220.9,605.6 219.4,605.0 217.9,605.0 216.4,604.2 214.9,603.0 213.4,604.2 211.9,605.4 210.4,605.9 208.8,604.9 207.3,604.1 205.8,605.5 204.3,605.1 202.8,606.5 201.3,608.2 199.8,607.8 198.3,608.1 196.8,606.6 195.3,606.1 193.8,603.6 192.3,604.5 190.8,605.0 189.3,605.1 187.8,603.4 186.3,602.5 184.7,600.2 183.2,599.6 181.7,601.0 180.2,602.4 178.7,603.3 177.2,603.5 175.7,604.8 174.2,605.3 172.7,604.5 171.2,604.4 169.7,602.9 168.2,603.3 166.7,603.4 165.2,604.8 163.7,603.9 162.2,603.6 160.7,602.7 159.1,603.5 157.6,601.3 156.1,603.3 154.6,604.9 153.1,604.3 151.6,601.9 150.1,601.6 148.6,601.9 147.1,601.9 145.6,599.9 144.1,599.8 142.6,600.7 141.1,601.2 139.6,601.4 138.1,600.3 136.6,598.8 135.1,598.8 133.5,598.6 132.0,599.9 130.5,599.2 129.0,600.6 127.5,599.9 126.0,599.1 124.5,598.8 123.0,598.2 121.5,598.7 120.0,600.0 118.5,601.5 117.0,602.3 115.5,600.1 114.0,596.9 112.5,597.3 111.0,596.3 109.4,595.1 107.9,594.2 106.4,594.9 104.9,594.4 103.4,594.0 101.9,593.4 100.4,593.9 98.9,594.8 97.4,593.4 95.9,591.6 94.4,590.7 92.9,588.9 91.4,587.6 89.9,588.1 88.4,589.5 86.9,588.7 85.4,589.1 83.8,586.7 82.3,585.9 80.8,585.6 79.3,584.5 77.8,584.9 76.3,583.1 74.8,583.9 73.3,584.4 71.8,585.5 70.3,582.4 68.8,574.2 67.3,567.0 65.8,558.3 64.3,551.9 62.8,550.8 61.3,551.7 59.8,553.3 58.2,552.5 56.7,552.2 55.2,552.9 53.7,551.9 52.2,551.2 50.7,553.2Z" fill="#46f09c"/>
<path d="M50.7,520.8 52.2,520.7 53.7,520.9 55.2,522.1 56.7,521.9 58.2,520.2 59.8,518.9 61.3,520.2 62.8,518.8 64.3,523.9 65.8,534.5 67.3,538.6 68.8,543.7 70.3,547.2 71.8,545.8 73.3,545.7 74.8,544.9 76.3,545.8 77.8,546.5 79.3,547.1 80.8,545.5 82.3,543.7 83.8,544.2 85.4,545.6 86.9,548.5 88.4,548.1 89.9,547.4 91.4,546.8 92.9,549.0 94.4,549.5 95.9,548.6 97.4,546.6 98.9,546.1 100.4,547.4 101.9,549.0 103.4,549.1 104.9,550.9 106.4,551.6 107.9,551.7 109.4,551.4 111.0,550.1 112.5,549.9 114.0,550.0 115.5,550.4 117.0,550.7 118.5,550.7 120.0,550.7 121.5,552.1 123.0,551.5 124.5,552.3 126.0,549.7 127.5,548.6 129.0,548.9 130.5,552.3 132.0,552.4 133.5,553.0 135.1,552.0 136.6,551.5 138.1,551.9 139.6,551.8 141.1,551.8 142.6,552.5 144.1,553.9 145.6,554.7 147.1,555.5 148.6,558.1 150.1,556.2 151.6,556.2 153.1,556.1 154.6,556.6 156.1,557.5 157.6,557.8 159.1,555.9 160.7,556.2 162.2,556.5 163.7,557.0 165.2,557.4 166.7,559.5 168.2,558.5 169.7,558.3 171.2,558.1 172.7,559.1 174.2,559.8 175.7,561.0 177.2,564.7 178.7,566.0 180.2,566.5 181.7,567.7 183.2,570.0 184.7,571.0 186.3,573.4 187.8,575.5 189.3,577.8 190.8,578.2 192.3,579.5 193.8,579.5 195.3,579.3 196.8,577.8 198.3,580.7 199.8,582.0 201.3,585.6 202.8,586.3 204.3,586.6 205.8,586.3 207.3,586.3 208.8,586.9 210.4,588.0 211.9,587.6 213.4,586.1 214.9,587.6 216.4,588.8 217.9,587.4 219.4,586.9 220.9,588.5 222.4,588.8 223.9,586.5 225.4,585.3 226.9,585.7 228.4,587.5 229.9,587.8 231.4,587.1 232.9,588.2 234.4,588.0 236.0,586.4 237.5,585.8 239.0,586.3 240.5,587.8 242.0,585.4 243.5,584.3 245.0,586.9 246.5,587.3 248.0,588.9 249.5,588.8 251.0,589.1 251.0,604.7 249.5,603.7 248.0,603.3 246.5,603.9 245.0,603.5 243.5,604.0 242.0,603.6 240.5,602.7 239.0,603.2 237.5,604.3 236.0,606.0 234.4,605.6 232.9,607.2 231.4,607.1 229.9,605.3 228.4,604.9 226.9,604.3 225.4,604.8 223.9,605.6 222.4,605.0 220.9,606.2 219.4,604.5 217.9,604.3 216.4,602.4 214.9,603.3 213.4,603.5 211.9,601.7 210.4,600.9 208.8,601.0 207.3,602.2 205.8,603.0 204.3,603.9 202.8,603.3 201.3,601.7 199.8,601.7 198.3,602.5 196.8,602.9 195.3,601.7 193.8,601.2 192.3,601.4 190.8,600.6 189.3,599.4 187.8,599.9 186.3,599.9 184.7,599.7 183.2,599.0 181.7,600.6 180.2,600.3 178.7,600.5 177.2,599.6 175.7,599.3 174.2,600.3 172.7,599.3 171.2,599.1 169.7,599.6 168.2,599.4 166.7,599.4 165.2,598.4 163.7,599.3 162.2,599.0 160.7,598.2 159.1,597.9 157.6,598.7 156.1,597.1 154.6,596.2 153.1,594.8 151.6,594.0 150.1,593.7 148.6,593.2 147.1,594.9 145.6,594.4 144.1,594.4 142.6,595.3 141.1,596.0 139.6,594.0 138.1,592.3 136.6,591.1 135.1,590.7 133.5,591.2 132.0,591.4 130.5,592.0 129.0,591.9 127.5,590.3 126.0,590.4 124.5,588.3 123.0,589.1 121.5,589.1 120.0,587.3 118.5,586.3 117.0,586.2 115.5,587.8 114.0,588.2 112.5,587.6 111.0,587.7 109.4,585.7 107.9,586.2 106.4,585.4 104.9,582.6 103.4,584.0 101.9,583.4 100.4,581.3 98.9,581.6 97.4,581.3 95.9,582.3 94.4,582.4 92.9,583.2 91.4,582.1 89.9,581.2 88.4,579.3 86.9,580.2 85.4,580.8 83.8,580.8 82.3,580.6 80.8,578.4 79.3,578.8 77.8,580.4 76.3,580.8 74.8,579.4 73.3,578.0 71.8,577.3 70.3,575.8 68.8,572.3 67.3,565.5 65.8,558.6 64.3,550.3 62.8,548.8 61.3,547.7 59.8,548.6 58.2,549.8 56.7,550.3 55.2,547.4 53.7,548.2 52.2,548.8 50.7,547.3Z" fill="#ffff00"/>
<ellipse cx="150.9" cy="562.5" rx="2.0" ry="5.0" fill="#46f09c"/>
<ellipse cx="161.7" cy="568.4" rx="2.5" ry="7.0" fill="#46f09c"/>
<ellipse cx="172.5" cy="562.5" rx="2.0" ry="5.0" fill="#46f09c"/>
<ellipse cx="180.6" cy="575.5" rx="2.5" ry="6.0" fill="#46f09c"/>
<ellipse cx="191.5" cy="569.6" rx="2.5" ry="5.0" fill="#46f09c"/>
<ellipse cx="140.0" cy="571.9" rx="1.5" ry="4.0" fill="#46f09c"/>
<ellipse cx="205.0" cy="568.4" rx="1.5" ry="8.0" fill="#ffff00"/>
<ellipse cx="214.2" cy="569.6" rx="1.5" ry="7.0" fill="#ffff00"/>
<ellipse cx="225.0" cy="568.4" rx="1.0" ry="6.0" fill="#ffff00"/>
<ellipse cx="235.9" cy="570.7" rx="1.5" ry="5.0" fill="#ffff00"/>
<ellipse cx="242.9" cy="575.5" rx="1.0" ry="4.0" fill="#ffff00"/>
<path d="M50.7,525.8 52.3,526.4 53.8,524.7 55.4,525.0 56.9,524.5 58.5,524.1 60.0,523.9 61.6,526.7 63.1,531.0 64.7,536.6 66.3,542.9 67.8,546.9 69.4,550.3 70.9,550.8 72.5,551.8 74.0,552.3 75.6,550.6 77.1,550.6 78.7,549.7 80.2,551.0 81.8,550.8 83.3,550.8 84.9,555.8 86.4,560.8 86.4,561.4 84.9,566.7 83.3,571.6 81.8,573.4 80.2,572.0 78.7,572.0 77.1,572.5 75.6,572.2 74.0,572.4 72.5,572.2 70.9,570.9 69.4,570.0 67.8,564.2 66.3,557.5 64.7,551.4 63.1,546.6 61.6,545.0 60.0,545.7 58.5,545.1 56.9,543.8 55.4,543.7 53.8,543.4 52.3,543.0 50.7,544.2Z" fill="#ff8a00"/>
<path d="M93.5,562.5 93.4,566.0 91.7,567.2 90.8,568.7 89.7,569.3 88.1,571.5 86.9,569.0 86.6,565.4 85.4,562.5 87.0,560.0 87.3,557.0 88.2,554.3 89.7,555.4 91.3,553.4 91.4,558.6 92.2,560.1Z" fill="#ff8a00"/>
<path d="M101.6,561.3 102.3,565.2 100.9,566.3 100.2,567.8 99.4,568.3 98.1,571.9 96.9,569.9 96.1,565.9 96.4,561.3 97.2,558.2 97.0,553.1 98.2,551.0 99.4,553.2 100.4,553.4 101.0,556.2 102.2,557.5Z" fill="#ff8a00"/>
<path d="M113.1,564.9 111.9,567.7 111.2,570.1 110.3,572.0 109.2,573.2 107.5,575.2 106.5,571.9 106.9,567.3 106.7,564.9 106.1,561.6 107.1,559.6 108.2,558.8 109.2,557.9 110.4,557.5 111.7,558.3 112.4,561.5Z" fill="#ff8a00"/>
<path d="M123.5,562.5 123.1,565.1 122.7,567.8 121.0,567.1 120.0,567.3 119.1,566.7 118.4,565.8 117.7,564.4 117.1,562.5 116.0,559.2 117.9,558.3 118.5,555.2 120.0,556.8 121.0,557.7 123.1,556.3 123.8,559.3Z" fill="#ff8a00"/>
<path d="M134.8,566.0 134.3,568.9 134.1,572.6 132.2,572.7 130.8,575.8 129.6,571.8 127.8,572.0 128.3,568.1 126.0,566.0 127.4,563.2 127.5,559.3 129.7,560.5 130.8,558.4 132.2,559.4 133.6,560.4 134.5,563.0Z" fill="#ff8a00"/>
<path d="M144.9,566.0 144.8,568.6 143.9,570.6 142.6,570.6 141.7,570.6 140.6,571.2 140.2,568.9 138.6,568.6 139.7,566.0 138.8,563.7 140.0,562.8 140.5,560.2 141.7,560.4 142.5,562.0 143.9,561.7 144.0,564.1Z" fill="#ff8a00"/>
<ellipse cx="153.6" cy="566.0" rx="1.5" ry="5.0" fill="#ff8a00"/>
<ellipse cx="167.1" cy="568.4" rx="1.0" ry="4.0" fill="#ff8a00"/>
<ellipse cx="161.7" cy="573.1" rx="1.5" ry="4.0" fill="#ff8a00"/>
<path d="M194.2,595.0 195.7,592.6 197.2,591.3 198.8,589.1 200.3,588.7 201.9,589.8 203.4,590.4 204.9,590.2 206.5,589.5 208.0,588.8 209.5,588.5 211.1,588.0 212.6,588.2 214.1,589.8 215.7,591.6 217.2,591.2 218.8,591.0 220.3,590.9 221.8,589.8 223.4,589.8 224.9,590.1 226.4,590.3 228.0,590.8 229.5,590.3 231.0,589.5 232.6,589.6 234.1,589.4 235.7,589.3 237.2,589.9 238.7,590.0 240.3,589.7 241.8,589.3 243.3,587.6 244.9,588.6 246.4,588.2 247.9,587.8 249.5,588.2 251.0,588.7 251.0,603.9 249.5,603.1 247.9,604.6 246.4,604.1 244.9,603.8 243.3,604.0 241.8,603.7 240.3,603.1 238.7,603.8 237.2,603.1 235.7,602.2 234.1,602.6 232.6,602.7 231.0,602.3 229.5,601.8 228.0,601.6 226.4,602.5 224.9,602.8 223.4,602.4 221.8,602.7 220.3,602.9 218.8,604.1 217.2,603.1 215.7,602.0 214.1,601.3 212.6,602.3 211.1,602.7 209.5,602.9 208.0,603.0 206.5,602.8 204.9,603.7 203.4,603.6 201.9,603.3 200.3,604.1 198.8,603.2 197.2,600.2 195.7,598.8 194.2,596.9Z" fill="#ff8a00"/>
<path d="M63.7,539.9 65.3,545.2 67.0,550.5 68.6,551.8 70.2,551.9 71.8,551.5 73.5,551.4 75.1,550.8 76.7,549.2 78.3,550.6 79.9,552.9 81.6,555.7 83.2,558.5 83.2,560.6 81.6,562.7 79.9,564.0 78.3,565.3 76.7,565.0 75.1,565.8 73.5,566.3 71.8,567.0 70.2,566.8 68.6,563.9 67.0,559.3 65.3,552.4 63.7,547.8Z" fill="#f81e08"/>
<ellipse cx="73.5" cy="557.8" rx="3.5" ry="4.5" fill="#b80808"/>
<path d="M217.5,597.9 219.0,597.3 220.5,596.5 222.0,595.8 223.6,594.9 225.1,595.6 226.6,596.1 228.1,594.7 229.7,594.2 231.2,593.9 232.7,594.0 234.2,594.0 235.8,593.6 237.3,593.2 238.8,592.6 240.3,592.9 241.9,592.7 243.4,593.4 244.9,594.3 246.4,594.2 248.0,594.3 249.5,594.4 251.0,594.1 251.0,601.0 249.5,601.1 248.0,601.4 246.4,601.3 244.9,602.1 243.4,602.5 241.9,602.0 240.3,601.3 238.8,601.1 237.3,601.2 235.8,599.3 234.2,600.3 232.7,600.9 231.2,600.7 229.7,600.4 228.1,601.7 226.6,602.3 225.1,602.4 223.6,602.4 222.0,601.6 220.5,600.7 219.0,599.8 217.5,598.8Z" fill="#f81e08"/>
<ellipse cx="237.5" cy="597.9" rx="4.0" ry="1.5" fill="#b80808"/>
</g>
<clipPath id="cliph"><rect x="377.5" y="471.6" width="188.7" height="141.8"/></clipPath>
<g clip-path="url(#cliph)">
<path d="M371.8,505.4 373.3,505.6 374.8,504.3 376.3,504.0 377.8,501.6 379.3,503.2 380.8,502.9 382.3,504.8 383.8,503.4 385.3,511.5 386.9,518.2 388.4,528.5 389.9,536.7 391.4,535.2 392.9,535.4 394.4,536.9 395.9,535.3 397.4,534.7 398.9,534.2 400.4,535.1 401.9,536.4 403.4,536.9 404.9,537.2 406.4,535.1 407.9,536.6 409.4,536.6 410.9,537.2 412.4,539.5 413.9,538.9 415.4,537.9 416.9,536.6 418.4,537.7 419.9,535.9 421.4,535.5 422.9,535.6 424.4,537.3 425.9,537.9 427.4,536.1 428.9,536.0 430.4,535.5 431.9,532.9 433.4,534.6 434.9,536.1 436.4,536.2 437.9,538.2 439.4,537.5 440.9,539.4 442.4,540.6 443.9,540.6 445.4,538.4 446.9,540.2 448.4,541.2 449.9,541.5 451.4,538.8 452.9,536.2 454.4,540.0 455.9,544.5 457.4,543.2 458.9,543.0 460.4,544.3 462.0,543.7 463.5,543.4 465.0,544.0 466.5,545.1 468.0,545.8 469.5,545.6 471.0,543.2 472.5,542.3 474.0,540.7 475.5,542.3 477.0,542.8 478.5,545.9 480.0,544.9 481.5,548.7 483.0,547.2 484.5,546.4 486.0,545.5 487.5,546.5 489.0,549.5 490.5,550.3 492.0,549.5 493.5,548.8 495.0,545.8 496.5,547.2 498.0,547.6 499.5,546.3 501.0,551.1 502.5,550.7 504.0,549.8 505.5,549.8 507.0,548.1 508.5,547.9 510.0,551.1 511.5,551.8 513.0,552.5 514.5,551.1 516.0,551.7 517.5,551.9 519.0,549.5 520.5,550.0 522.0,551.8 523.5,551.6 525.0,552.2 526.5,551.8 528.0,552.0 529.5,553.3 531.0,550.7 532.5,552.7 534.0,551.8 535.6,552.1 537.1,551.8 538.6,552.7 540.1,553.9 541.6,551.3 543.1,548.9 544.6,549.8 546.1,550.2 547.6,551.2 549.1,554.9 550.6,554.7 552.1,554.1 553.6,555.1 555.1,554.1 556.6,551.1 558.1,552.5 559.6,554.1 561.1,554.8 562.6,553.5 564.1,552.3 565.6,551.0 567.1,550.3 568.6,551.4 570.1,553.1 571.6,554.9 571.6,610.0 570.1,611.7 568.6,611.6 567.1,609.6 565.6,609.0 564.1,608.8 562.6,610.0 561.1,611.2 559.6,610.7 558.1,609.7 556.6,608.4 555.1,608.9 553.6,610.1 552.1,611.4 550.6,613.3 549.1,613.1 547.6,612.1 546.1,609.8 544.6,609.9 543.1,608.3 541.6,607.6 540.1,608.3 538.6,606.6 537.1,609.0 535.6,610.0 534.0,610.3 532.5,608.9 531.0,610.0 529.5,608.9 528.0,607.2 526.5,608.8 525.0,608.6 523.5,609.3 522.0,609.3 520.5,608.4 519.0,609.9 517.5,610.4 516.0,609.3 514.5,609.6 513.0,609.5 511.5,612.0 510.0,611.3 508.5,611.2 507.0,610.9 505.5,611.1 504.0,611.2 502.5,611.7 501.0,611.3 499.5,610.5 498.0,610.4 496.5,608.2 495.0,607.7 493.5,607.5 492.0,606.4 490.5,606.2 489.0,604.6 487.5,607.5 486.0,607.5 484.5,607.2 483.0,609.7 481.5,611.1 480.0,609.1 478.5,608.9 477.0,609.3 475.5,610.3 474.0,610.0 472.5,611.9 471.0,611.7 469.5,609.5 468.0,611.6 466.5,612.6 465.0,613.5 463.5,612.6 462.0,611.1 460.4,609.4 458.9,612.5 457.4,613.7 455.9,611.9 454.4,609.3 452.9,608.3 451.4,610.0 449.9,612.1 448.4,611.0 446.9,609.2 445.4,608.6 443.9,608.9 442.4,608.0 440.9,608.3 439.4,606.4 437.9,605.7 436.4,607.4 434.9,605.2 433.4,605.5 431.9,602.8 430.4,603.0 428.9,603.9 427.4,603.7 425.9,601.9 424.4,600.4 422.9,601.6 421.4,597.4 419.9,597.1 418.4,597.2 416.9,598.7 415.4,598.3 413.9,597.9 412.4,595.6 410.9,595.8 409.4,595.3 407.9,596.2 406.4,598.1 404.9,599.1 403.4,595.2 401.9,591.6 400.4,590.2 398.9,586.0 397.4,581.6 395.9,583.2 394.4,582.0 392.9,578.9 391.4,579.8 389.9,574.2 388.4,570.9 386.9,565.9 385.3,557.1 383.8,554.2 382.3,552.8 380.8,553.9 379.3,556.7 377.8,558.8 376.3,557.2 374.8,557.3 373.3,557.1 371.8,555.5Z" fill="#0f3cf0" stroke="#0a1e9c" stroke-width="0.7" stroke-linejoin="round"/>
<path d="M371.8,522.4 373.3,522.1 374.8,524.9 376.3,526.5 377.8,524.9 379.3,524.2 380.8,523.0 382.3,521.3 383.8,522.4 385.3,526.6 386.9,532.5 388.4,537.3 389.9,542.2 391.4,543.1 392.9,544.0 394.4,544.2 395.9,542.6 397.4,541.8 398.9,543.2 400.4,542.4 401.9,541.0 403.4,542.3 404.9,544.4 406.4,543.5 407.9,544.0 409.4,543.4 410.9,543.0 412.4,543.1 413.9,544.2 415.4,545.8 416.9,544.8 418.4,545.1 419.9,544.7 421.4,544.1 422.9,544.7 424.4,542.5 425.9,541.9 427.4,543.1 428.9,543.8 430.4,544.6 431.9,544.3 433.4,542.9 434.9,542.3 436.4,543.2 437.9,541.4 439.4,542.5 440.9,543.5 442.4,544.9 443.9,545.5 445.4,548.1 446.9,548.9 448.4,548.5 449.9,549.7 451.4,550.0 452.9,549.8 454.4,549.9 455.9,549.6 457.4,551.6 458.9,550.2 460.4,549.7 462.0,549.4 463.5,551.2 465.0,551.2 466.5,552.2 468.0,551.3 469.5,552.1 471.0,552.0 472.5,550.0 474.0,551.3 475.5,551.4 477.0,551.5 478.5,551.0 480.0,550.5 481.5,551.6 483.0,553.5 484.5,553.8 486.0,554.6 487.5,554.1 489.0,553.5 490.5,553.5 492.0,554.8 493.5,555.8 495.0,555.1 496.5,555.0 498.0,554.6 499.5,554.0 501.0,554.0 502.5,555.1 504.0,556.0 505.5,555.6 507.0,555.5 508.5,555.1 510.0,555.2 511.5,555.2 513.0,557.8 514.5,557.3 516.0,559.4 517.5,559.4 519.0,559.7 520.5,560.1 522.0,559.0 523.5,559.9 525.0,557.7 526.5,557.3 528.0,556.4 529.5,557.4 531.0,557.4 532.5,557.4 534.0,555.2 535.6,557.3 537.1,557.1 538.6,559.1 540.1,560.0 541.6,559.9 543.1,558.7 544.6,561.3 546.1,560.4 547.6,561.0 549.1,561.4 550.6,559.6 552.1,559.7 553.6,560.6 555.1,560.9 556.6,561.0 558.1,561.3 559.6,561.3 561.1,561.8 562.6,561.9 564.1,561.2 565.6,562.4 567.1,560.8 568.6,560.3 570.1,560.7 571.6,560.5 571.6,607.6 570.1,607.2 568.6,608.0 567.1,609.4 565.6,608.2 564.1,606.0 562.6,606.5 561.1,607.1 559.6,607.7 558.1,606.9 556.6,606.5 555.1,605.4 553.6,605.7 552.1,605.8 550.6,604.6 549.1,606.1 547.6,606.8 546.1,607.0 544.6,607.1 543.1,606.5 541.6,606.2 540.1,606.1 538.6,605.8 537.1,606.1 535.6,605.9 534.0,606.7 532.5,606.5 531.0,607.2 529.5,606.4 528.0,605.9 526.5,604.8 525.0,606.9 523.5,605.5 522.0,606.0 520.5,605.7 519.0,604.0 517.5,605.3 516.0,604.7 514.5,604.9 513.0,604.5 511.5,603.0 510.0,602.4 508.5,604.1 507.0,605.1 505.5,604.4 504.0,603.5 502.5,602.8 501.0,602.7 499.5,605.8 498.0,605.7 496.5,603.8 495.0,604.6 493.5,604.6 492.0,605.8 490.5,605.8 489.0,605.6 487.5,605.6 486.0,604.6 484.5,604.8 483.0,605.2 481.5,605.9 480.0,605.1 478.5,605.1 477.0,605.6 475.5,604.7 474.0,605.2 472.5,605.8 471.0,605.9 469.5,605.3 468.0,604.7 466.5,604.0 465.0,603.4 463.5,602.7 462.0,602.8 460.4,604.4 458.9,604.6 457.4,605.2 455.9,606.0 454.4,604.6 452.9,603.8 451.4,603.8 449.9,604.4 448.4,603.9 446.9,602.9 445.4,601.0 443.9,600.5 442.4,601.3 440.9,603.6 439.4,603.2 437.9,600.2 436.4,596.9 434.9,593.5 433.4,592.2 431.9,590.6 430.4,589.0 428.9,588.3 427.4,588.2 425.9,588.0 424.4,586.8 422.9,586.7 421.4,586.7 419.9,586.6 418.4,584.7 416.9,583.9 415.4,582.8 413.9,582.2 412.4,581.5 410.9,582.8 409.4,582.2 407.9,580.8 406.4,578.7 404.9,579.6 403.4,579.3 401.9,577.7 400.4,576.5 398.9,575.5 397.4,575.7 395.9,574.6 394.4,573.0 392.9,571.3 391.4,570.9 389.9,569.6 388.4,563.2 386.9,559.3 385.3,554.1 383.8,555.1 382.3,555.7 380.8,554.2 379.3,553.5 377.8,554.8 376.3,555.5 374.8,554.9 373.3,554.1 371.8,554.7Z" fill="#46f09c"/>
<path d="M371.8,528.0 373.4,528.2 374.9,528.0 376.4,528.4 377.9,530.3 379.5,529.2 381.0,528.0 382.5,529.3 384.0,528.6 385.6,532.1 387.1,536.8 388.6,542.6 390.1,548.3 391.7,549.3 393.2,549.3 394.7,549.0 396.2,548.5 397.8,549.9 399.3,551.5 400.8,550.9 402.3,550.0 403.9,550.2 405.4,549.2 406.9,550.1 408.5,550.1 410.0,551.0 411.5,550.5 413.0,550.0 414.6,550.5 416.1,551.7 417.6,551.2 419.1,551.6 420.7,551.1 422.2,551.3 423.7,550.8 425.2,549.2 426.8,550.5 428.3,551.1 429.8,551.4 431.3,551.3 432.9,551.4 434.4,551.0 435.9,550.5 437.4,551.3 439.0,553.0 440.5,555.5 442.0,558.4 442.0,558.8 440.5,563.2 439.0,567.3 437.4,570.2 435.9,572.7 434.4,572.6 432.9,571.6 431.3,571.9 429.8,574.0 428.3,573.4 426.8,572.7 425.2,572.6 423.7,570.1 422.2,572.4 420.7,573.3 419.1,572.9 417.6,572.9 416.1,572.8 414.6,574.9 413.0,574.7 411.5,572.7 410.0,571.0 408.5,570.4 406.9,570.0 405.4,571.1 403.9,570.0 402.3,571.0 400.8,571.9 399.3,573.2 397.8,574.8 396.2,573.6 394.7,573.2 393.2,572.2 391.7,568.8 390.1,568.4 388.6,563.2 387.1,557.3 385.6,550.9 384.0,549.5 382.5,551.4 381.0,551.3 379.5,549.4 377.9,550.3 376.4,549.8 374.9,548.3 373.4,548.1 371.8,548.3Z" fill="#ffff00"/>
<path d="M462.8,568.4 461.2,572.2 461.9,578.8 458.1,578.6 455.5,578.1 452.1,582.1 449.4,578.5 447.1,574.1 447.7,568.4 446.9,562.5 450.8,560.7 452.8,557.5 455.5,554.9 459.1,554.3 462.6,556.7 462.9,563.4Z" fill="#ffff00"/>
<path d="M471.7,575.5 469.6,577.1 470.1,580.0 468.4,581.6 466.3,581.2 464.1,581.8 462.5,580.0 463.2,577.0 461.6,575.5 462.2,573.4 463.9,572.6 464.5,570.3 466.3,570.5 468.2,570.1 470.1,570.9 469.8,573.8Z" fill="#ffff00"/>
<path d="M485.8,579.0 487.0,582.5 482.8,584.3 480.3,587.4 475.5,588.5 472.0,585.1 466.2,585.7 467.3,581.5 463.7,579.0 464.0,575.5 469.7,574.8 470.3,569.8 475.5,572.7 480.0,571.1 483.7,573.0 487.5,575.4Z" fill="#ffff00"/>
<path d="M495.2,568.4 496.1,575.2 494.4,579.9 492.1,578.8 490.6,579.6 489.0,579.8 487.5,577.6 484.9,575.5 486.2,568.4 485.0,561.5 487.2,558.2 489.2,558.0 490.6,556.6 492.8,552.8 494.1,558.0 493.9,564.3Z" fill="#ffff00"/>
<path d="M504.4,587.3 503.1,589.1 502.8,591.3 500.8,592.3 498.7,591.9 497.0,591.5 495.4,590.5 495.2,588.7 495.2,587.3 494.4,585.5 495.1,583.6 496.5,581.8 498.7,583.9 500.6,582.7 501.8,584.2 502.1,585.9Z" fill="#ffff00"/>
<path d="M524.5,581.4 519.4,584.4 517.7,587.3 514.3,588.8 510.6,588.3 507.3,587.9 501.0,589.4 502.1,584.3 501.8,581.4 500.6,577.9 504.8,576.5 506.2,572.5 510.6,572.0 514.5,573.5 520.1,573.5 524.0,576.7Z" fill="#ffff00"/>
<path d="M536.5,571.9 535.9,573.3 535.1,574.0 534.7,575.2 533.8,575.6 532.7,576.0 532.1,574.6 532.2,573.0 532.1,571.9 531.5,570.4 532.2,569.3 533.1,569.1 533.8,567.0 534.5,569.2 535.3,569.5 536.5,570.1Z" fill="#ffff00"/>
<path d="M549.3,575.5 550.2,577.1 549.2,577.9 548.5,579.3 547.3,578.2 546.3,578.7 545.7,577.6 544.3,577.1 544.1,575.5 544.2,573.8 545.6,573.2 546.2,571.9 547.3,571.4 548.1,572.8 549.7,572.3 549.2,574.4Z" fill="#ffff00"/>
<path d="M560.3,571.9 560.3,573.3 559.6,574.1 558.9,574.8 558.1,575.0 557.2,575.1 556.9,573.7 555.9,573.3 555.8,571.9 556.6,571.0 556.3,569.3 557.2,568.7 558.1,568.4 558.8,569.5 559.4,569.9 559.6,571.0Z" fill="#ffff00"/>
<ellipse cx="474.4" cy="577.8" rx="2.0" ry="2.5" fill="#46f09c"/>
<ellipse cx="512.2" cy="580.2" rx="2.5" ry="3.0" fill="#46f09c"/>
<path d="M512.2,598.5 513.7,598.1 515.3,597.6 516.8,596.6 518.3,596.0 519.8,595.1 521.3,594.3 522.9,593.1 524.4,592.7 525.9,592.8 527.4,592.9 529.0,593.5 530.5,592.5 532.0,593.3 533.5,592.9 535.1,591.3 536.6,591.3 538.1,591.6 539.6,592.3 541.1,591.8 542.7,592.2 544.2,593.6 545.7,592.9 547.2,593.9 548.8,593.8 550.3,593.7 551.8,592.6 553.3,591.8 554.8,591.0 556.4,592.0 557.9,592.9 559.4,593.4 560.9,592.8 562.5,593.6 564.0,592.2 565.5,591.5 567.0,591.3 568.6,591.8 570.1,590.7 571.6,591.2 571.6,604.1 570.1,604.4 568.6,605.1 567.0,606.0 565.5,607.0 564.0,605.5 562.5,604.3 560.9,604.9 559.4,604.6 557.9,604.2 556.4,604.4 554.8,604.6 553.3,604.7 551.8,604.6 550.3,604.1 548.8,603.7 547.2,604.2 545.7,604.1 544.2,604.0 542.7,604.5 541.1,604.4 539.6,605.0 538.1,604.7 536.6,604.7 535.1,605.0 533.5,604.7 532.0,604.6 530.5,603.7 529.0,603.6 527.4,604.5 525.9,605.5 524.4,604.4 522.9,604.2 521.3,604.7 519.8,603.4 518.3,601.8 516.8,601.2 515.3,600.7 513.7,601.2 512.2,600.2Z" fill="#ffff00"/>
<path d="M371.8,530.4 373.4,530.3 374.9,530.5 376.5,531.2 378.0,531.5 379.5,531.9 381.1,532.0 382.6,532.2 384.2,534.4 385.7,537.1 387.3,541.5 388.8,546.1 390.3,548.7 391.9,549.7 393.4,550.7 395.0,551.9 396.5,552.8 398.1,552.5 399.6,552.8 401.1,553.4 402.7,554.6 404.2,555.5 404.2,555.6 402.7,558.2 401.1,559.7 399.6,562.1 398.1,563.9 396.5,564.2 395.0,564.6 393.4,565.3 391.9,565.8 390.3,564.2 388.8,558.4 387.3,553.9 385.7,551.4 384.2,548.1 382.6,548.7 381.1,548.4 379.5,549.3 378.0,549.5 376.5,547.5 374.9,547.6 373.4,547.7 371.8,547.0Z" fill="#ff8a00"/>
<ellipse cx="405.8" cy="559.0" rx="1.5" ry="4.5" fill="#ff8a00"/>
<ellipse cx="488.5" cy="575.5" rx="1.5" ry="2.0" fill="#ff8a00"/>
<path d="M521.4,597.3 522.9,595.9 524.4,595.7 526.0,596.4 527.5,596.6 529.0,594.9 530.5,594.4 532.0,594.4 533.6,594.2 535.1,594.1 536.6,593.0 538.1,593.2 539.6,593.8 541.2,593.4 542.7,593.5 544.2,593.2 545.7,593.5 547.3,594.7 548.8,595.3 550.3,595.6 551.8,595.2 553.3,595.1 554.9,593.7 556.4,593.4 557.9,593.5 559.4,593.9 560.9,594.5 562.5,595.4 564.0,595.0 565.5,594.2 567.0,594.2 568.6,594.2 570.1,593.5 571.6,593.0 571.6,604.7 570.1,603.5 568.6,603.1 567.0,604.3 565.5,603.4 564.0,603.7 562.5,603.9 560.9,603.3 559.4,602.5 557.9,602.1 556.4,602.7 554.9,602.7 553.3,603.5 551.8,603.6 550.3,603.6 548.8,604.1 547.3,604.8 545.7,605.1 544.2,604.9 542.7,604.1 541.2,603.4 539.6,603.5 538.1,603.5 536.6,603.0 535.1,603.3 533.6,603.3 532.0,602.3 530.5,601.0 529.0,601.3 527.5,600.9 526.0,600.8 524.4,600.7 522.9,600.5 521.4,600.4Z" fill="#ff8a00"/>
<path d="M385.3,539.3 386.9,543.0 388.6,548.1 390.2,551.6 391.8,554.2 393.4,556.4 393.4,556.4 391.8,560.7 390.2,561.0 388.6,557.1 386.9,551.7 385.3,547.0Z" fill="#f81e08"/>
<path d="M539.2,599.2 540.7,598.4 542.3,597.9 543.8,597.6 545.4,597.0 546.9,597.1 548.5,597.0 550.0,596.2 551.5,595.9 553.1,596.1 554.6,596.1 556.2,596.3 557.7,596.7 559.3,597.3 560.8,597.0 562.3,597.2 563.9,596.9 565.4,596.7 567.0,596.3 568.5,596.2 570.1,596.2 571.6,596.7 571.6,601.8 570.1,602.1 568.5,601.9 567.0,601.2 565.4,601.2 563.9,601.3 562.3,601.6 560.8,601.7 559.3,601.7 557.7,601.9 556.2,602.0 554.6,602.0 553.1,602.6 551.5,602.2 550.0,601.7 548.5,601.6 546.9,601.2 545.4,600.7 543.8,601.1 542.3,600.9 540.7,601.2 539.2,600.6Z" fill="#f81e08"/>
</g>
<clipPath id="clipi"><rect x="701.2" y="471.6" width="189.3" height="141.8"/></clipPath>
<g clip-path="url(#clipi)">
<path d="M695.5,500.0 697.0,500.7 698.5,501.1 700.0,500.7 701.5,500.4 703.0,500.2 704.6,498.7 706.1,499.4 707.6,497.7 709.1,506.1 710.6,519.4 712.1,531.6 713.6,537.2 715.1,540.6 716.6,541.3 718.1,542.1 719.6,541.1 721.1,543.3 722.6,544.0 724.1,543.7 725.6,543.7 727.2,542.1 728.7,545.2 730.2,545.6 731.7,545.8 733.2,543.4 734.7,543.3 736.2,544.0 737.7,543.3 739.2,541.3 740.7,540.9 742.2,542.4 743.7,540.5 745.2,540.7 746.7,541.3 748.3,540.7 749.8,542.1 751.3,543.2 752.8,543.1 754.3,543.6 755.8,542.8 757.3,543.7 758.8,541.9 760.3,540.5 761.8,540.2 763.3,539.9 764.8,540.1 766.3,542.2 767.8,541.4 769.3,541.9 770.9,541.1 772.4,541.6 773.9,542.9 775.4,542.8 776.9,543.6 778.4,541.4 779.9,539.7 781.4,538.9 782.9,539.8 784.4,543.1 785.9,543.3 787.4,542.3 788.9,542.2 790.4,541.8 791.9,541.8 793.5,541.3 795.0,539.9 796.5,537.8 798.0,539.4 799.5,539.6 801.0,539.8 802.5,542.3 804.0,542.5 805.5,543.5 807.0,542.7 808.5,542.5 810.0,541.2 811.5,542.6 813.0,543.2 814.5,544.9 816.1,543.7 817.6,543.3 819.1,542.9 820.6,541.1 822.1,542.0 823.6,543.0 825.1,541.4 826.6,540.7 828.1,541.0 829.6,539.9 831.1,541.3 832.6,542.4 834.1,543.6 835.6,542.1 837.2,542.8 838.7,544.2 840.2,544.1 841.7,543.8 843.2,545.9 844.7,545.7 846.2,544.9 847.7,546.0 849.2,545.3 850.7,544.0 852.2,542.6 853.7,543.5 855.2,544.6 856.7,543.6 858.2,542.1 859.8,543.2 861.3,544.8 862.8,544.7 864.3,542.5 865.8,541.4 867.3,541.9 868.8,543.7 870.3,545.9 871.8,545.6 873.3,546.1 874.8,546.8 876.3,546.2 877.8,545.9 879.3,542.6 880.8,543.1 882.4,542.2 883.9,544.7 885.4,546.3 886.9,545.3 888.4,545.3 889.9,543.3 891.4,543.4 892.9,543.4 894.4,544.6 895.9,545.6 895.9,610.5 894.4,609.2 892.9,608.6 891.4,611.1 889.9,611.4 888.4,613.8 886.9,612.2 885.4,609.2 883.9,609.5 882.4,610.8 880.8,610.4 879.3,609.6 877.8,608.5 876.3,605.9 874.8,609.5 873.3,609.9 871.8,611.5 870.3,611.3 868.8,610.3 867.3,609.1 865.8,608.6 864.3,609.7 862.8,607.7 861.3,608.2 859.8,607.7 858.2,609.1 856.7,611.2 855.2,612.0 853.7,609.8 852.2,609.8 850.7,609.5 849.2,608.2 847.7,609.0 846.2,611.5 844.7,611.0 843.2,610.2 841.7,611.5 840.2,611.2 838.7,610.0 837.2,608.4 835.6,609.6 834.1,607.5 832.6,609.6 831.1,609.6 829.6,610.6 828.1,609.8 826.6,608.9 825.1,607.7 823.6,609.4 822.1,610.0 820.6,611.2 819.1,611.8 817.6,611.7 816.1,610.6 814.5,607.3 813.0,608.0 811.5,607.3 810.0,607.7 808.5,608.3 807.0,609.5 805.5,609.2 804.0,608.2 802.5,609.1 801.0,608.7 799.5,608.5 798.0,608.1 796.5,606.0 795.0,606.7 793.5,608.0 791.9,607.6 790.4,609.1 788.9,608.0 787.4,606.6 785.9,606.2 784.4,605.5 782.9,606.9 781.4,605.2 779.9,605.9 778.4,604.5 776.9,603.8 775.4,605.0 773.9,605.3 772.4,605.6 770.9,604.6 769.3,606.1 767.8,604.5 766.3,606.0 764.8,606.8 763.3,607.8 761.8,608.6 760.3,609.1 758.8,607.6 757.3,607.5 755.8,607.6 754.3,606.8 752.8,606.7 751.3,608.0 749.8,607.5 748.3,607.7 746.7,606.3 745.2,607.2 743.7,607.8 742.2,606.6 740.7,607.7 739.2,608.3 737.7,606.4 736.2,605.6 734.7,606.4 733.2,607.0 731.7,606.4 730.2,607.3 728.7,606.8 727.2,608.1 725.6,607.1 724.1,606.6 722.6,609.1 721.1,608.7 719.6,608.9 718.1,608.3 716.6,607.5 715.1,608.7 713.6,607.2 712.1,598.9 710.6,582.1 709.1,566.3 707.6,562.9 706.1,563.0 704.6,564.1 703.0,563.6 701.5,563.6 700.0,562.1 698.5,561.4 697.0,562.1 695.5,562.1Z" fill="#0f3cf0" stroke="#0a1e9c" stroke-width="0.7" stroke-linejoin="round"/>
<path d="M695.5,506.6 697.0,506.0 698.5,506.0 700.0,507.1 701.5,505.4 703.0,505.9 704.6,507.0 706.1,506.9 707.6,507.6 709.1,515.7 710.6,525.0 712.1,538.9 713.6,544.3 715.1,547.7 716.6,548.4 718.1,548.1 719.6,548.6 721.1,548.1 722.6,547.5 724.1,546.6 725.6,545.7 727.2,544.0 728.7,544.4 730.2,545.4 731.7,545.9 733.2,545.5 734.7,547.0 736.2,549.0 737.7,548.8 739.2,547.8 740.7,547.0 742.2,546.4 743.7,547.1 745.2,547.5 746.7,548.4 748.3,546.9 749.8,546.7 751.3,546.5 752.8,546.6 754.3,546.7 755.8,547.3 757.3,548.3 758.8,549.6 760.3,548.5 761.8,548.0 763.3,547.2 764.8,548.0 766.3,547.1 767.8,547.4 769.3,547.5 770.9,546.3 772.4,546.3 773.9,546.2 775.4,546.8 776.9,547.8 778.4,547.7 779.9,547.3 781.4,548.0 782.9,548.7 784.4,549.0 785.9,548.3 787.4,547.5 788.9,548.0 790.4,546.9 791.9,546.8 793.5,547.3 795.0,547.6 796.5,547.6 798.0,547.9 799.5,549.0 801.0,547.8 802.5,547.1 804.0,547.5 805.5,548.6 807.0,550.0 808.5,550.8 810.0,550.5 811.5,550.7 813.0,550.5 814.5,550.8 816.1,550.8 817.6,552.2 819.1,552.7 820.6,552.6 822.1,551.9 823.6,551.9 825.1,552.3 826.6,552.7 828.1,552.7 829.6,552.4 831.1,552.5 832.6,551.7 834.1,550.2 835.6,550.4 837.2,551.1 838.7,551.3 840.2,551.7 841.7,552.6 843.2,552.2 844.7,551.8 846.2,551.8 847.7,552.9 849.2,554.2 850.7,554.1 852.2,553.4 853.7,554.2 855.2,554.5 856.7,552.8 858.2,552.6 859.8,554.2 861.3,554.0 862.8,554.2 864.3,552.2 865.8,550.1 867.3,551.6 868.8,552.7 870.3,553.4 871.8,553.6 873.3,553.5 874.8,553.0 876.3,551.8 877.8,551.5 879.3,551.9 880.8,552.6 882.4,552.9 883.9,553.8 885.4,554.9 886.9,554.8 888.4,554.2 889.9,553.3 891.4,553.6 892.9,553.4 894.4,553.9 895.9,553.0 895.9,606.5 894.4,605.2 892.9,605.3 891.4,605.4 889.9,605.7 888.4,606.2 886.9,605.1 885.4,605.6 883.9,604.0 882.4,605.0 880.8,605.4 879.3,604.8 877.8,604.8 876.3,603.9 874.8,602.3 873.3,603.0 871.8,603.9 870.3,603.5 868.8,603.8 867.3,603.9 865.8,603.7 864.3,604.8 862.8,603.2 861.3,603.0 859.8,604.5 858.2,606.6 856.7,605.5 855.2,605.0 853.7,603.7 852.2,604.4 850.7,605.0 849.2,604.9 847.7,604.2 846.2,605.2 844.7,604.4 843.2,605.6 841.7,605.4 840.2,606.0 838.7,605.8 837.2,604.1 835.6,603.3 834.1,604.0 832.6,604.2 831.1,603.5 829.6,604.4 828.1,603.5 826.6,603.1 825.1,602.8 823.6,603.9 822.1,604.1 820.6,604.7 819.1,605.1 817.6,604.5 816.1,603.2 814.5,602.3 813.0,602.2 811.5,602.1 810.0,602.5 808.5,603.3 807.0,603.0 805.5,602.1 804.0,602.1 802.5,601.6 801.0,603.5 799.5,602.2 798.0,601.7 796.5,601.7 795.0,603.1 793.5,604.7 791.9,603.4 790.4,601.4 788.9,601.5 787.4,600.8 785.9,601.2 784.4,600.7 782.9,601.4 781.4,601.1 779.9,600.9 778.4,600.4 776.9,601.4 775.4,600.1 773.9,600.5 772.4,600.7 770.9,599.4 769.3,600.5 767.8,601.6 766.3,600.7 764.8,601.2 763.3,602.0 761.8,602.5 760.3,599.5 758.8,599.3 757.3,598.7 755.8,598.2 754.3,599.3 752.8,598.9 751.3,599.1 749.8,598.4 748.3,598.9 746.7,600.1 745.2,598.7 743.7,598.3 742.2,598.5 740.7,597.7 739.2,599.3 737.7,600.7 736.2,599.8 734.7,599.2 733.2,599.1 731.7,597.9 730.2,599.1 728.7,598.9 727.2,599.6 725.6,600.1 724.1,600.1 722.6,600.7 721.1,599.8 719.6,599.8 718.1,599.9 716.6,599.5 715.1,598.7 713.6,596.4 712.1,592.6 710.6,577.5 709.1,565.0 707.6,558.6 706.1,558.1 704.6,557.3 703.0,558.1 701.5,557.8 700.0,558.4 698.5,559.4 697.0,558.5 695.5,559.9Z" fill="#46f09c"/>
<path d="M695.5,511.2 697.0,511.7 698.5,513.4 700.0,512.9 701.5,514.1 703.0,513.9 704.6,513.8 706.1,513.5 707.6,514.1 709.1,520.4 710.6,530.4 712.1,543.2 713.6,548.0 715.1,549.9 716.6,549.9 718.1,549.8 719.6,549.5 721.1,548.5 722.6,550.2 724.1,551.5 725.6,552.9 727.2,553.4 728.7,552.8 730.2,553.1 731.7,552.5 733.2,550.6 734.7,549.2 736.2,548.9 737.7,550.2 739.2,550.1 740.7,550.5 742.2,551.5 743.7,552.3 745.2,551.0 746.7,551.0 748.3,550.9 749.8,549.8 751.3,550.7 752.8,549.8 754.3,550.8 755.8,551.1 757.3,550.5 758.8,549.9 760.3,548.8 761.8,548.8 763.3,548.0 764.8,548.6 766.3,548.8 767.8,549.8 769.3,549.9 770.9,551.9 772.4,551.0 773.9,549.9 775.4,548.6 776.9,548.8 778.4,549.4 779.9,550.0 781.4,550.7 782.9,551.2 784.4,552.3 785.9,552.4 787.4,551.6 788.9,550.9 790.4,551.1 791.9,549.7 793.5,552.4 795.0,551.9 796.5,553.0 798.0,552.9 799.5,552.6 801.0,552.6 802.5,553.3 804.0,554.0 805.5,554.7 807.0,554.6 808.5,554.2 810.0,554.0 811.5,555.3 813.0,555.0 814.5,555.3 816.1,555.1 817.6,556.1 819.1,557.0 820.6,557.2 822.1,557.6 823.6,557.2 825.1,556.9 826.6,558.2 828.1,556.9 829.6,558.5 831.1,558.9 832.6,560.6 834.1,562.2 835.6,562.2 837.2,561.0 838.7,560.0 840.2,560.1 841.7,560.1 843.2,560.7 844.7,560.7 846.2,560.0 847.7,559.2 849.2,559.8 850.7,560.7 852.2,560.4 853.7,560.2 855.2,560.7 856.7,560.6 858.2,561.1 859.8,561.8 861.3,562.7 862.8,563.0 864.3,562.2 865.8,561.0 867.3,560.4 868.8,560.0 870.3,560.2 871.8,561.2 873.3,561.5 874.8,563.4 876.3,564.4 877.8,564.0 879.3,563.4 880.8,563.3 882.4,564.2 883.9,563.6 885.4,564.5 886.9,562.8 888.4,562.6 889.9,562.1 891.4,562.2 892.9,561.9 894.4,560.5 895.9,562.9 895.9,604.7 894.4,603.2 892.9,604.4 891.4,606.3 889.9,604.7 888.4,603.9 886.9,604.6 885.4,604.4 883.9,604.5 882.4,604.8 880.8,604.6 879.3,603.5 877.8,603.3 876.3,602.4 874.8,602.2 873.3,602.6 871.8,602.5 870.3,603.1 868.8,602.6 867.3,602.0 865.8,602.9 864.3,604.3 862.8,603.6 861.3,602.5 859.8,603.0 858.2,603.4 856.7,603.2 855.2,602.5 853.7,602.9 852.2,604.4 850.7,604.9 849.2,603.1 847.7,602.8 846.2,603.2 844.7,602.4 843.2,602.2 841.7,601.5 840.2,601.7 838.7,601.4 837.2,601.8 835.6,600.9 834.1,602.1 832.6,601.7 831.1,602.8 829.6,602.5 828.1,601.5 826.6,601.4 825.1,601.6 823.6,601.2 822.1,601.7 820.6,602.7 819.1,603.3 817.6,603.0 816.1,603.0 814.5,602.6 813.0,601.4 811.5,600.9 810.0,600.0 808.5,599.3 807.0,599.1 805.5,599.6 804.0,599.7 802.5,599.6 801.0,601.0 799.5,600.2 798.0,601.4 796.5,599.4 795.0,597.8 793.5,597.1 791.9,597.9 790.4,598.9 788.9,598.0 787.4,596.4 785.9,596.9 784.4,597.1 782.9,597.1 781.4,597.7 779.9,597.8 778.4,596.8 776.9,596.6 775.4,596.3 773.9,597.7 772.4,597.2 770.9,598.4 769.3,599.7 767.8,597.8 766.3,597.8 764.8,597.5 763.3,596.1 761.8,595.1 760.3,595.9 758.8,595.9 757.3,596.5 755.8,597.6 754.3,596.3 752.8,595.7 751.3,595.5 749.8,595.8 748.3,595.1 746.7,595.5 745.2,594.9 743.7,596.0 742.2,596.7 740.7,596.7 739.2,596.2 737.7,597.3 736.2,597.5 734.7,598.5 733.2,598.9 731.7,597.0 730.2,595.2 728.7,595.6 727.2,596.2 725.6,597.1 724.1,597.6 722.6,598.4 721.1,597.9 719.6,597.0 718.1,598.2 716.6,598.6 715.1,599.5 713.6,595.8 712.1,589.8 710.6,571.7 709.1,559.9 707.6,555.2 706.1,555.3 704.6,554.7 703.0,555.4 701.5,554.6 700.0,554.8 698.5,555.8 697.0,555.9 695.5,557.7Z" fill="#ffff00"/>
<path d="M695.5,532.6 697.0,533.6 698.5,533.4 700.0,531.4 701.5,531.4 703.0,530.7 704.6,530.7 706.1,530.8 707.6,532.2 709.1,536.4 710.6,538.4 712.1,545.0 713.6,548.8 715.1,551.2 716.6,550.7 718.1,551.7 719.6,550.9 721.1,551.9 722.6,552.3 724.1,553.0 725.6,552.9 727.2,554.7 728.7,553.0 730.2,553.2 731.7,552.7 733.2,554.1 734.7,553.8 736.2,555.6 737.7,555.2 739.2,555.2 740.7,555.6 742.2,554.8 743.7,554.7 745.2,553.6 746.7,552.9 748.3,553.2 749.8,554.6 751.3,555.0 752.8,555.4 754.3,555.2 755.8,554.9 757.3,552.0 758.8,551.7 760.3,552.8 761.8,554.4 763.3,556.5 764.8,555.0 766.3,555.1 767.8,556.0 769.3,556.1 770.9,556.6 772.4,557.8 773.9,557.5 775.4,556.6 776.9,555.8 778.4,555.3 779.9,555.1 781.4,555.8 782.9,556.2 784.4,556.7 785.9,556.0 787.4,557.8 788.9,557.9 790.4,557.1 791.9,557.6 793.5,558.7 795.0,559.3 796.5,558.5 798.0,555.4 799.5,555.9 801.0,557.7 802.5,559.2 804.0,559.0 805.5,557.7 807.0,558.6 808.5,560.4 810.0,561.8 811.5,563.2 813.0,564.3 814.5,563.7 816.1,562.9 817.6,562.9 819.1,564.0 820.6,563.8 822.1,564.3 823.6,563.1 825.1,564.0 826.6,565.1 828.1,566.6 829.6,565.8 831.1,566.3 832.6,567.6 834.1,567.0 835.6,567.8 837.2,568.3 838.7,568.8 840.2,568.1 841.7,568.2 843.2,566.7 844.7,567.4 846.2,566.4 847.7,567.2 849.2,566.6 850.7,567.3 852.2,567.8 853.7,568.3 855.2,567.8 856.7,566.3 858.2,566.3 859.8,567.2 861.3,568.5 862.8,568.5 864.3,569.6 865.8,568.9 867.3,568.9 868.8,567.9 870.3,568.0 871.8,567.2 873.3,567.9 874.8,567.3 876.3,566.6 877.8,567.2 879.3,568.4 880.8,571.3 882.4,571.1 883.9,569.8 885.4,570.2 886.9,569.4 888.4,568.8 889.9,568.9 891.4,570.8 892.9,570.8 894.4,571.0 895.9,571.0 895.9,600.2 894.4,600.8 892.9,601.0 891.4,601.0 889.9,602.4 888.4,603.0 886.9,601.3 885.4,602.6 883.9,601.6 882.4,602.4 880.8,602.2 879.3,601.8 877.8,601.9 876.3,602.1 874.8,603.0 873.3,603.7 871.8,603.0 870.3,601.2 868.8,600.7 867.3,599.1 865.8,599.4 864.3,599.8 862.8,598.5 861.3,599.1 859.8,600.9 858.2,601.6 856.7,602.0 855.2,601.6 853.7,602.5 852.2,601.6 850.7,600.2 849.2,600.7 847.7,601.3 846.2,602.9 844.7,601.6 843.2,600.3 841.7,599.5 840.2,598.2 838.7,599.0 837.2,599.1 835.6,600.3 834.1,599.6 832.6,598.9 831.1,600.6 829.6,600.9 828.1,602.0 826.6,602.5 825.1,601.6 823.6,600.9 822.1,599.3 820.6,600.3 819.1,599.0 817.6,599.3 816.1,598.6 814.5,597.9 813.0,597.1 811.5,598.1 810.0,597.2 808.5,595.6 807.0,596.2 805.5,597.0 804.0,597.5 802.5,596.5 801.0,595.8 799.5,594.5 798.0,594.2 796.5,593.8 795.0,594.5 793.5,595.4 791.9,595.3 790.4,594.9 788.9,595.1 787.4,594.7 785.9,595.6 784.4,596.1 782.9,594.6 781.4,593.0 779.9,592.7 778.4,591.6 776.9,592.0 775.4,592.3 773.9,593.2 772.4,592.8 770.9,591.9 769.3,589.8 767.8,588.2 766.3,587.9 764.8,588.6 763.3,589.4 761.8,589.5 760.3,588.2 758.8,587.5 757.3,587.8 755.8,588.4 754.3,589.7 752.8,590.2 751.3,592.0 749.8,590.7 748.3,590.3 746.7,590.9 745.2,591.7 743.7,592.1 742.2,592.1 740.7,592.1 739.2,590.1 737.7,590.3 736.2,591.6 734.7,591.8 733.2,591.0 731.7,591.0 730.2,592.2 728.7,592.2 727.2,591.7 725.6,591.2 724.1,592.0 722.6,591.0 721.1,590.7 719.6,590.6 718.1,590.3 716.6,588.5 715.1,587.5 713.6,587.0 712.1,584.2 710.6,566.5 709.1,557.7 707.6,553.3 706.1,551.6 704.6,551.9 703.0,553.1 701.5,554.3 700.0,554.3 698.5,556.3 697.0,554.5 695.5,553.7Z" fill="#ff8a00"/>
<path d="M823.5,567.5 L827.5,567.5 L825.5,557.5Z" fill="#ff8a00"/>
<path d="M845.2,569.9 L849.2,569.9 L847.2,559.9Z" fill="#ff8a00"/>
<path d="M866.8,571.0 L870.8,571.0 L868.8,561.0Z" fill="#ff8a00"/>
<path d="M883.1,571.0 L887.1,571.0 L885.1,561.0Z" fill="#ff8a00"/>
<path d="M804.5,564.0 L808.5,564.0 L806.5,554.0Z" fill="#ff8a00"/>
<ellipse cx="723.7" cy="569.6" rx="2.0" ry="11.0" fill="#ffff00"/>
<ellipse cx="736.1" cy="566.0" rx="2.0" ry="10.0" fill="#ffff00"/>
<ellipse cx="752.4" cy="562.5" rx="2.5" ry="4.0" fill="#ffff00"/>
<ellipse cx="765.9" cy="566.0" rx="1.5" ry="6.0" fill="#ffff00"/>
<ellipse cx="782.2" cy="566.0" rx="2.0" ry="6.0" fill="#ffff00"/>
<ellipse cx="798.4" cy="571.9" rx="1.5" ry="9.0" fill="#ffff00"/>
<ellipse cx="820.1" cy="577.8" rx="1.5" ry="9.0" fill="#ffff00"/>
<ellipse cx="836.3" cy="580.2" rx="1.5" ry="8.0" fill="#ffff00"/>
<ellipse cx="849.9" cy="577.8" rx="1.5" ry="9.0" fill="#ffff00"/>
<ellipse cx="863.4" cy="580.2" rx="1.5" ry="8.0" fill="#ffff00"/>
<ellipse cx="879.7" cy="577.8" rx="1.5" ry="9.0" fill="#ffff00"/>
<path d="M703.6,536.8 705.1,538.5 706.6,539.4 708.2,540.9 709.7,543.1 711.2,545.5 712.7,548.1 714.2,550.3 715.7,553.6 717.2,556.7 717.2,556.7 715.7,562.1 714.2,568.5 712.7,570.2 711.2,568.3 709.7,559.1 708.2,555.0 706.6,553.0 705.1,551.2 703.6,548.6Z" fill="#f81e08"/>
<ellipse cx="763.8" cy="577.8" rx="1.5" ry="2.0" fill="#f81e08"/>
<ellipse cx="774.0" cy="589.6" rx="1.5" ry="2.0" fill="#f81e08"/>
<ellipse cx="797.3" cy="577.8" rx="1.5" ry="2.0" fill="#f81e08"/>
<ellipse cx="809.3" cy="589.6" rx="3.0" ry="2.5" fill="#f81e08"/>
<ellipse cx="820.1" cy="589.6" rx="2.5" ry="3.0" fill="#f81e08"/>
<path d="M841.8,597.7 843.3,597.2 844.8,597.3 846.3,597.5 847.8,596.1 849.3,595.6 850.8,594.0 852.3,593.7 853.8,592.5 855.3,593.4 856.8,592.9 858.3,592.9 859.8,593.6 861.3,594.0 862.8,593.5 864.3,594.3 865.8,595.2 867.3,594.7 868.8,594.4 870.3,593.8 871.8,593.8 873.3,593.7 874.9,593.3 876.4,593.1 877.9,592.0 879.4,592.5 880.9,593.5 882.4,593.1 883.9,593.2 885.4,593.6 886.9,593.9 888.4,593.7 889.9,593.7 891.4,592.8 892.9,592.9 894.4,592.8 895.9,593.6 895.9,602.3 894.4,602.0 892.9,601.9 891.4,601.9 889.9,601.9 888.4,601.6 886.9,602.5 885.4,602.3 883.9,602.9 882.4,603.0 880.9,603.2 879.4,603.0 877.9,602.6 876.4,602.6 874.9,602.5 873.3,602.4 871.8,601.7 870.3,601.7 868.8,601.3 867.3,600.7 865.8,601.2 864.3,601.6 862.8,601.8 861.3,602.6 859.8,601.6 858.3,601.7 856.8,602.3 855.3,602.3 853.8,601.6 852.3,601.7 850.8,601.1 849.3,601.6 847.8,600.8 846.3,600.8 844.8,600.7 843.3,600.6 841.8,600.6Z" fill="#f81e08"/>
<path d="M874.3,599.4 875.8,599.5 877.3,598.9 878.9,598.5 880.4,597.9 882.0,597.4 883.5,597.4 885.1,597.4 886.6,597.1 888.2,596.8 889.7,596.9 891.3,597.1 892.8,596.7 894.4,596.6 895.9,596.6 895.9,601.9 894.4,601.6 892.8,601.0 891.3,600.7 889.7,601.2 888.2,601.3 886.6,600.9 885.1,600.7 883.5,600.5 882.0,600.9 880.4,601.3 878.9,601.1 877.3,600.9 875.8,600.7 874.3,600.6Z" fill="#b80808"/>
</g>
<clipPath id="hclipa"><rect x="245.6" y="26" width="54.2" height="141.5"/></clipPath>
<g clip-path="url(#hclipa)">
<path d="M245.6,166.4h0.5v4.40h-0.5M245.6,162.0h1.2v4.40h-1.2M245.6,157.6h6.8v4.40h-6.8M245.6,153.2h6.3v4.40h-6.3M245.6,148.8h15.7v4.40h-15.7M245.6,144.4h19.9v4.40h-19.9M245.6,140.0h33.6v4.40h-33.6M245.6,135.6h40.2v4.40h-40.2M245.6,131.2h48.1v4.40h-48.1M245.6,126.8h48.0v4.40h-48.0M245.6,122.4h48.3v4.40h-48.3M245.6,118.0h42.5v4.40h-42.5M245.6,113.6h34.4v4.40h-34.4M245.6,109.2h27.4v4.40h-27.4M245.6,104.8h17.1v4.40h-17.1M245.6,100.4h11.8v4.40h-11.8M245.6,96.0h8.5v4.40h-8.5M245.6,91.6h4.2v4.40h-4.2M245.6,87.2h1.4v4.40h-1.4" fill="#fff" stroke="#8c8c8c" stroke-width="0.9"/>
<path d="M245.6,26.0 245.6,27.0 245.6,28.0 245.6,29.0 245.6,30.0 245.6,31.0 245.6,32.0 245.6,33.0 245.6,34.0 245.6,35.0 245.6,36.0 245.6,37.0 245.6,38.0 245.6,39.0 245.6,40.0 245.6,41.0 245.6,42.0 245.6,43.0 245.6,44.0 245.6,45.0 245.6,46.0 245.6,47.0 245.6,48.0 245.6,49.0 245.6,50.0 245.6,51.0 245.6,52.0 245.6,53.0 245.6,54.0 245.6,55.0 245.6,56.0 245.6,57.0 245.6,58.0 245.6,59.0 245.6,60.0 245.6,61.0 245.6,62.0 245.6,63.0 245.6,64.0 245.6,65.0 245.6,66.0 245.6,67.0 245.6,68.0 245.6,69.0 245.6,70.0 245.6,71.0 245.7,72.0 245.7,73.0 245.7,74.0 245.7,75.0 245.8,76.0 245.8,77.0 245.8,78.0 245.9,79.0 246.0,80.0 246.0,81.0 246.1,82.0 246.3,83.0 246.4,84.0 246.6,85.0 246.7,86.0 247.0,87.0 247.2,88.0 247.5,89.0 247.9,90.0 248.3,91.0 248.7,92.0 249.2,93.0 249.8,94.0 250.4,95.0 251.1,96.0 251.9,97.0 252.8,98.0 253.8,99.0 254.8,100.0 256.0,101.0 257.2,102.0 258.5,103.0 260.0,104.0 261.5,105.0 263.1,106.0 264.7,107.0 266.5,108.0 268.3,109.0 270.1,110.0 272.0,111.0 273.9,112.0 275.9,113.0 277.8,114.0 279.7,115.0 281.6,116.0 283.4,117.0 285.1,118.0 286.7,119.0 288.3,120.0 289.6,121.0 290.9,122.0 292.0,123.0 292.8,124.0 293.6,125.0 294.1,126.0 294.4,127.0 294.5,128.0 294.4,129.0 294.1,130.0 293.6,131.0 292.9,132.0 292.0,133.0 290.9,134.0 289.7,135.0 288.3,136.0 286.8,137.0 285.2,138.0 283.4,139.0 281.6,140.0 279.8,141.0 277.9,142.0 276.0,143.0 274.0,144.0 272.1,145.0 270.2,146.0 268.3,147.0 266.5,148.0 264.8,149.0 263.1,150.0 261.5,151.0 260.0,152.0 258.6,153.0 257.3,154.0 256.0,155.0 254.9,156.0 253.8,157.0 252.8,158.0 252.0,159.0 251.2,160.0 250.4,161.0 249.8,162.0 249.2,163.0 248.7,164.0 248.3,165.0 247.9,166.0 247.5,167.0 247.2,168.0" fill="none" stroke="#111" stroke-width="1.25"/>
</g>
<clipPath id="hclipb"><rect x="566.2" y="26" width="54.4" height="141.5"/></clipPath>
<g clip-path="url(#hclipb)">
<path d="M566.2,129.8h6.5v4.40h-6.5M566.2,125.4h7.4v4.40h-7.4M566.2,121.0h14.2v4.40h-14.2M566.2,116.6h26.6v4.40h-26.6M566.2,112.2h37.9v4.40h-37.9M566.2,107.8h47.2v4.40h-47.2M566.2,103.4h49.3v4.40h-49.3M566.2,99.0h47.9v4.40h-47.9M566.2,94.6h36.0v4.40h-36.0M566.2,90.2h27.4v4.40h-27.4M566.2,85.8h19.2v4.40h-19.2M566.2,81.4h12.5v4.40h-12.5M566.2,77.0h3.0v4.40h-3.0" fill="#fff" stroke="#8c8c8c" stroke-width="0.9"/>
<path d="M566.2,26.0 566.2,27.0 566.2,28.0 566.2,29.0 566.2,30.0 566.2,31.0 566.2,32.0 566.2,33.0 566.2,34.0 566.2,35.0 566.2,36.0 566.2,37.0 566.2,38.0 566.2,39.0 566.2,40.0 566.2,41.0 566.2,42.0 566.2,43.0 566.2,44.0 566.2,45.0 566.2,46.0 566.2,47.0 566.2,48.0 566.2,49.0 566.2,50.0 566.2,51.0 566.2,52.0 566.2,53.0 566.2,54.0 566.2,55.0 566.2,56.0 566.2,57.0 566.2,58.0 566.2,59.0 566.2,60.0 566.2,61.0 566.2,62.0 566.2,63.0 566.2,64.0 566.2,65.0 566.2,66.0 566.2,67.0 566.3,68.0 566.3,69.0 566.4,70.0 566.4,71.0 566.5,72.0 566.7,73.0 566.9,74.0 567.1,75.0 567.5,76.0 568.0,77.0 568.6,78.0 569.4,79.0 570.4,80.0 571.5,81.0 572.9,82.0 574.5,83.0 576.3,84.0 578.2,85.0 580.2,86.0 582.2,87.0 584.4,88.0 586.5,89.0 588.5,90.0 590.6,91.0 592.6,92.0 594.6,93.0 596.5,94.0 598.5,95.0 600.6,96.0 602.6,97.0 604.7,98.0 606.7,99.0 608.7,100.0 610.6,101.0 612.3,102.0 613.8,103.0 614.9,104.0 615.8,105.0 616.2,106.0 616.3,107.0 615.9,108.0 615.2,109.0 614.0,110.0 612.4,111.0 610.5,112.0 608.3,113.0 605.9,114.0 603.3,115.0 600.5,116.0 597.7,117.0 594.8,118.0 592.0,119.0 589.2,120.0 586.6,121.0 584.1,122.0 581.8,123.0 579.6,124.0 577.7,125.0 575.9,126.0 574.4,127.0 573.0,128.0 571.8,129.0 570.8,130.0 569.9,131.0 569.2,132.0 568.6,133.0 568.1,134.0 567.7,135.0 567.3,136.0 567.1,137.0 566.9,138.0 566.7,139.0 566.6,140.0 566.5,141.0 566.4,142.0 566.3,143.0 566.3,144.0 566.3,145.0 566.3,146.0 566.2,147.0 566.2,148.0 566.2,149.0 566.2,150.0 566.2,151.0 566.2,152.0 566.2,153.0 566.2,154.0 566.2,155.0 566.2,156.0 566.2,157.0 566.2,158.0 566.2,159.0 566.2,160.0 566.2,161.0 566.2,162.0 566.2,163.0 566.2,164.0 566.2,165.0 566.2,166.0 566.2,167.0 566.2,168.0" fill="none" stroke="#111" stroke-width="1.25"/>
<path d="M566.2,26.0 566.2,27.0 566.2,28.0 566.2,29.0 566.2,30.0 566.2,31.0 566.2,32.0 566.2,33.0 566.2,34.0 566.2,35.0 566.2,36.0 566.2,37.0 566.2,38.0 566.2,39.0 566.2,40.0 566.2,41.0 566.2,42.0 566.2,43.0 566.2,44.0 566.2,45.0 566.2,46.0 566.2,47.0 566.2,48.0 566.2,49.0 566.2,50.0 566.2,51.0 566.2,52.0 566.2,53.0 566.2,54.0 566.2,55.0 566.2,56.0 566.2,57.0 566.2,58.0 566.2,59.0 566.2,60.0 566.2,61.0 566.2,62.0 566.2,63.0 566.2,64.0 566.2,65.0 566.2,66.0 566.2,67.0 566.3,68.0 566.3,69.0 566.3,70.0 566.4,71.0 566.4,72.0 566.5,73.0 566.6,74.0 566.8,75.0 566.9,76.0 567.2,77.0 567.5,78.0 567.8,79.0 568.3,80.0 568.8,81.0 569.5,82.0 570.3,83.0 571.2,84.0 572.3,85.0 573.6,86.0 575.0,87.0 576.7,88.0 578.5,89.0 580.6,90.0 582.8,91.0 585.2,92.0 587.7,93.0 590.4,94.0 593.2,95.0 596.1,96.0 598.9,97.0 601.7,98.0 604.4,99.0 607.0,100.0 609.3,101.0 611.4,102.0 613.1,103.0 614.5,104.0 615.5,105.0 616.1,106.0 616.2,107.0 615.9,108.0 615.1,109.0 614.0,110.0 612.4,111.0 610.5,112.0 608.3,113.0 605.9,114.0 603.3,115.0 600.5,116.0 597.7,117.0 594.8,118.0 592.0,119.0 589.2,120.0 586.6,121.0 584.1,122.0 581.8,123.0 579.6,124.0 577.7,125.0 575.9,126.0 574.4,127.0 573.0,128.0 571.8,129.0 570.8,130.0 569.9,131.0 569.2,132.0 568.6,133.0 568.1,134.0 567.7,135.0 567.3,136.0 567.1,137.0 566.9,138.0 566.7,139.0 566.6,140.0 566.5,141.0 566.4,142.0 566.3,143.0 566.3,144.0 566.3,145.0 566.3,146.0 566.2,147.0 566.2,148.0 566.2,149.0 566.2,150.0 566.2,151.0 566.2,152.0 566.2,153.0 566.2,154.0 566.2,155.0 566.2,156.0 566.2,157.0 566.2,158.0 566.2,159.0 566.2,160.0 566.2,161.0 566.2,162.0 566.2,163.0 566.2,164.0 566.2,165.0 566.2,166.0 566.2,167.0 566.2,168.0" fill="none" stroke="#111" stroke-width="1.25"/>
<path d="M566.2,26.0 566.2,27.0 566.2,28.0 566.2,29.0 566.2,30.0 566.2,31.0 566.2,32.0 566.2,33.0 566.2,34.0 566.2,35.0 566.2,36.0 566.2,37.0 566.2,38.0 566.2,39.0 566.2,40.0 566.2,41.0 566.2,42.0 566.2,43.0 566.2,44.0 566.2,45.0 566.2,46.0 566.2,47.0 566.2,48.0 566.2,49.0 566.2,50.0 566.2,51.0 566.2,52.0 566.2,53.0 566.2,54.0 566.2,55.0 566.2,56.0 566.2,57.0 566.2,58.0 566.2,59.0 566.2,60.0 566.2,61.0 566.2,62.0 566.2,63.0 566.2,64.0 566.2,65.0 566.2,66.0 566.2,67.0 566.2,68.0 566.2,69.0 566.2,70.0 566.3,71.0 566.3,72.0 566.3,73.0 566.4,74.0 566.6,75.0 566.7,76.0 567.0,77.0 567.3,78.0 567.8,79.0 568.3,80.0 568.9,81.0 569.6,82.0 570.4,83.0 571.2,84.0 572.0,85.0 572.8,86.0 573.4,87.0 573.9,88.0 574.1,89.0 574.2,90.0 574.0,91.0 573.6,92.0 573.0,93.0 572.3,94.0 571.5,95.0 570.7,96.0 569.9,97.0 569.2,98.0 568.5,99.0 567.9,100.0 567.5,101.0 567.1,102.0 566.8,103.0 566.6,104.0 566.5,105.0 566.4,106.0 566.3,107.0 566.3,108.0 566.2,109.0 566.2,110.0 566.2,111.0 566.2,112.0 566.2,113.0 566.2,114.0 566.2,115.0 566.2,116.0 566.2,117.0 566.2,118.0 566.2,119.0 566.2,120.0 566.2,121.0 566.2,122.0 566.2,123.0 566.2,124.0 566.2,125.0 566.2,126.0 566.2,127.0 566.2,128.0 566.2,129.0 566.2,130.0 566.2,131.0 566.2,132.0 566.2,133.0 566.2,134.0 566.2,135.0 566.2,136.0 566.2,137.0 566.2,138.0 566.2,139.0 566.2,140.0 566.2,141.0 566.2,142.0 566.2,143.0 566.2,144.0 566.2,145.0 566.2,146.0 566.2,147.0 566.2,148.0 566.2,149.0 566.2,150.0 566.2,151.0 566.2,152.0 566.2,153.0 566.2,154.0 566.2,155.0 566.2,156.0 566.2,157.0 566.2,158.0 566.2,159.0 566.2,160.0 566.2,161.0 566.2,162.0 566.2,163.0 566.2,164.0 566.2,165.0 566.2,166.0 566.2,167.0 566.2,168.0" fill="none" stroke="#111" stroke-width="1.25"/>
</g>
<clipPath id="hclipc"><rect x="890.5" y="26" width="54.1" height="141.5"/></clipPath>
<g clip-path="url(#hclipc)">
<path d="M890.5,162.0h1.3v4.40h-1.3M890.5,157.6h8.9v4.40h-8.9M890.5,153.2h6.9v4.40h-6.9M890.5,148.8h15.2v4.40h-15.2M890.5,144.4h25.3v4.40h-25.3M890.5,140.0h37.0v4.40h-37.0M890.5,135.6h39.9v4.40h-39.9M890.5,131.2h42.4v4.40h-42.4M890.5,126.8h47.6v4.40h-47.6M890.5,122.4h41.3v4.40h-41.3M890.5,118.0h33.7v4.40h-33.7M890.5,113.6h25.9v4.40h-25.9M890.5,109.2h17.0v4.40h-17.0M890.5,104.8h10.3v4.40h-10.3M890.5,100.4h4.6v4.40h-4.6M890.5,96.0h4.6v4.40h-4.6" fill="#fff" stroke="#8c8c8c" stroke-width="0.9"/>
<path d="M890.5,26.0 890.5,27.0 890.5,28.0 890.5,29.0 890.5,30.0 890.5,31.0 890.5,32.0 890.5,33.0 890.5,34.0 890.5,35.0 890.5,36.0 890.5,37.0 890.5,38.0 890.5,39.0 890.5,40.0 890.5,41.0 890.5,42.0 890.5,43.0 890.5,44.0 890.5,45.0 890.5,46.0 890.5,47.0 890.5,48.0 890.5,49.0 890.5,50.0 890.5,51.0 890.5,52.0 890.5,53.0 890.5,54.0 890.5,55.0 890.5,56.0 890.5,57.0 890.5,58.0 890.5,59.0 890.5,60.0 890.5,61.0 890.5,62.0 890.5,63.0 890.5,64.0 890.5,65.0 890.5,66.0 890.5,67.0 890.5,68.0 890.5,69.0 890.5,70.0 890.5,71.0 890.5,72.0 890.5,73.0 890.5,74.0 890.5,75.0 890.5,76.0 890.5,77.0 890.5,78.0 890.5,79.0 890.5,80.0 890.6,81.0 890.6,82.0 890.6,83.0 890.6,84.0 890.7,85.0 890.7,86.0 890.7,87.0 890.8,88.0 890.9,89.0 891.0,90.0 891.1,91.0 891.3,92.0 891.4,93.0 891.6,94.0 891.9,95.0 892.2,96.0 892.5,97.0 893.0,98.0 893.4,99.0 894.0,100.0 894.6,101.0 895.3,102.0 896.1,103.0 897.0,104.0 898.0,105.0 899.1,106.0 900.4,107.0 901.7,108.0 903.2,109.0 904.7,110.0 906.4,111.0 908.2,112.0 910.1,113.0 912.0,114.0 914.0,115.0 916.1,116.0 918.2,117.0 920.3,118.0 922.4,119.0 924.4,120.0 926.4,121.0 928.3,122.0 930.1,123.0 931.7,124.0 933.2,125.0 934.5,126.0 935.5,127.0 936.4,128.0 937.0,129.0 937.4,130.0 937.5,131.0 937.4,132.0 937.0,133.0 936.3,134.0 935.5,135.0 934.4,136.0 933.1,137.0 931.6,138.0 930.0,139.0 928.2,140.0 926.3,141.0 924.3,142.0 922.2,143.0 920.1,144.0 918.0,145.0 916.0,146.0 913.9,147.0 911.9,148.0 909.9,149.0 908.1,150.0 906.3,151.0 904.6,152.0 903.1,153.0 901.6,154.0 900.3,155.0 899.1,156.0 898.0,157.0 897.0,158.0 896.1,159.0 895.3,160.0 894.6,161.0 893.9,162.0 893.4,163.0 892.9,164.0 892.5,165.0 892.2,166.0 891.9,167.0 891.6,168.0" fill="none" stroke="#111" stroke-width="1.25"/>
</g>
<clipPath id="hclipd"><rect x="245.6" y="250.8" width="54.2" height="141.2"/></clipPath>
<g clip-path="url(#hclipd)">
<path d="M245.6,391.3h3.7v4.41h-3.7M245.6,386.9h2.9v4.41h-2.9M245.6,382.5h5.0v4.41h-5.0M245.6,378.1h11.5v4.41h-11.5M245.6,373.6h17.8v4.41h-17.8M245.6,369.2h23.7v4.41h-23.7M245.6,364.8h33.6v4.41h-33.6M245.6,360.4h43.9v4.41h-43.9M245.6,356.0h46.9v4.41h-46.9M245.6,351.6h47.2v4.41h-47.2M245.6,347.2h44.2v4.41h-44.2M245.6,342.8h36.6v4.41h-36.6M245.6,338.3h27.8v4.41h-27.8M245.6,333.9h16.0v4.41h-16.0M245.6,329.5h14.7v4.41h-14.7M245.6,325.1h7.1v4.41h-7.1M245.6,320.7h2.1v4.41h-2.1M245.6,316.3h3.2v4.41h-3.2" fill="#fff" stroke="#8c8c8c" stroke-width="0.9"/>
<path d="M245.6,250.8 245.6,251.8 245.6,252.8 245.6,253.8 245.6,254.8 245.6,255.8 245.6,256.8 245.6,257.8 245.6,258.8 245.6,259.8 245.6,260.8 245.6,261.8 245.6,262.8 245.6,263.8 245.6,264.8 245.6,265.8 245.6,266.8 245.6,267.8 245.6,268.8 245.6,269.8 245.6,270.8 245.6,271.8 245.6,272.8 245.6,273.8 245.6,274.8 245.6,275.8 245.6,276.8 245.6,277.8 245.6,278.8 245.6,279.8 245.6,280.8 245.6,281.8 245.6,282.8 245.6,283.8 245.6,284.8 245.6,285.8 245.6,286.8 245.6,287.8 245.6,288.8 245.6,289.8 245.6,290.8 245.6,291.8 245.6,292.8 245.6,293.8 245.6,294.8 245.6,295.8 245.6,296.8 245.6,297.8 245.6,298.8 245.6,299.8 245.6,300.8 245.6,301.8 245.7,302.8 245.7,303.8 245.7,304.8 245.7,305.8 245.7,306.8 245.8,307.8 245.8,308.8 245.9,309.8 245.9,310.8 246.0,311.8 246.1,312.8 246.3,313.8 246.4,314.8 246.6,315.8 246.8,316.8 247.0,317.8 247.3,318.8 247.7,319.8 248.1,320.8 248.5,321.8 249.0,322.8 249.6,323.8 250.3,324.8 251.1,325.8 251.9,326.8 252.8,327.8 253.9,328.8 255.0,329.8 256.3,330.8 257.7,331.8 259.1,332.8 260.7,333.8 262.3,334.8 264.1,335.8 265.9,336.8 267.9,337.8 269.8,338.8 271.8,339.8 273.9,340.8 275.9,341.8 278.0,342.8 280.0,343.8 281.9,344.8 283.8,345.8 285.5,346.8 287.2,347.8 288.7,348.8 290.0,349.8 291.1,350.8 292.1,351.8 292.8,352.8 293.3,353.8 293.6,354.8 293.6,355.8 293.4,356.8 292.9,357.8 292.2,358.8 291.4,359.8 290.3,360.8 289.0,361.8 287.5,362.8 285.9,363.8 284.2,364.8 282.3,365.8 280.4,366.8 278.4,367.8 276.3,368.8 274.3,369.8 272.3,370.8 270.2,371.8 268.3,372.8 266.3,373.8 264.5,374.8 262.7,375.8 261.0,376.8 259.4,377.8 257.9,378.8 256.6,379.8 255.3,380.8 254.1,381.8 253.1,382.8 252.1,383.8 251.2,384.8 250.4,385.8 249.8,386.8 249.2,387.8 248.6,388.8 248.1,389.8 247.7,390.8 247.4,391.8" fill="none" stroke="#111" stroke-width="1.25"/>
</g>
<clipPath id="hclipe"><rect x="566.2" y="250.8" width="54.4" height="141.2"/></clipPath>
<g clip-path="url(#hclipe)">
<path d="M566.2,356.0h2.2v4.41h-2.2M566.2,351.6h4.7v4.41h-4.7M566.2,347.2h12.4v4.41h-12.4M566.2,342.8h23.9v4.41h-23.9M566.2,338.3h33.1v4.41h-33.1M566.2,333.9h45.3v4.41h-45.3M566.2,329.5h50.9v4.41h-50.9M566.2,325.1h42.4v4.41h-42.4M566.2,320.7h33.5v4.41h-33.5M566.2,316.3h25.0v4.41h-25.0M566.2,311.9h13.3v4.41h-13.3M566.2,307.5h8.9v4.41h-8.9M566.2,303.0h5.7v4.41h-5.7" fill="#fff" stroke="#8c8c8c" stroke-width="0.9"/>
<path d="M566.2,250.8 566.2,251.8 566.2,252.8 566.2,253.8 566.2,254.8 566.2,255.8 566.2,256.8 566.2,257.8 566.2,258.8 566.2,259.8 566.2,260.8 566.2,261.8 566.2,262.8 566.2,263.8 566.2,264.8 566.2,265.8 566.2,266.8 566.2,267.8 566.2,268.8 566.2,269.8 566.2,270.8 566.2,271.8 566.2,272.8 566.2,273.8 566.2,274.8 566.2,275.8 566.2,276.8 566.2,277.8 566.2,278.8 566.2,279.8 566.2,280.8 566.2,281.8 566.2,282.8 566.2,283.8 566.2,284.8 566.2,285.8 566.2,286.8 566.2,287.8 566.2,288.8 566.2,289.8 566.2,290.8 566.2,291.8 566.3,292.8 566.3,293.8 566.3,294.8 566.4,295.8 566.4,296.8 566.5,297.8 566.6,298.8 566.8,299.8 567.1,300.8 567.5,301.8 568.0,302.8 568.6,303.8 569.4,304.8 570.4,305.8 571.6,306.8 572.9,307.8 574.3,308.8 575.8,309.8 577.3,310.8 578.8,311.8 580.3,312.8 581.8,313.8 583.3,314.8 584.9,315.8 586.7,316.8 588.6,317.8 590.7,318.8 592.9,319.8 595.3,320.8 597.8,321.8 600.3,322.8 602.8,323.8 605.2,324.8 607.4,325.8 609.3,326.8 611.0,327.8 612.3,328.8 613.2,329.8 613.6,330.8 613.7,331.8 613.3,332.8 612.4,333.8 611.2,334.8 609.6,335.8 607.7,336.8 605.5,337.8 603.1,338.8 600.5,339.8 597.8,340.8 595.0,341.8 592.2,342.8 589.5,343.8 586.9,344.8 584.4,345.8 582.1,346.8 579.9,347.8 577.9,348.8 576.1,349.8 574.5,350.8 573.1,351.8 571.9,352.8 570.9,353.8 570.0,354.8 569.2,355.8 568.6,356.8 568.1,357.8 567.7,358.8 567.3,359.8 567.1,360.8 566.9,361.8 566.7,362.8 566.6,363.8 566.5,364.8 566.4,365.8 566.3,366.8 566.3,367.8 566.3,368.8 566.3,369.8 566.2,370.8 566.2,371.8 566.2,372.8 566.2,373.8 566.2,374.8 566.2,375.8 566.2,376.8 566.2,377.8 566.2,378.8 566.2,379.8 566.2,380.8 566.2,381.8 566.2,382.8 566.2,383.8 566.2,384.8 566.2,385.8 566.2,386.8 566.2,387.8 566.2,388.8 566.2,389.8 566.2,390.8 566.2,391.8" fill="none" stroke="#111" stroke-width="1.25"/>
<path d="M566.2,250.8 566.2,251.8 566.2,252.8 566.2,253.8 566.2,254.8 566.2,255.8 566.2,256.8 566.2,257.8 566.2,258.8 566.2,259.8 566.2,260.8 566.2,261.8 566.2,262.8 566.2,263.8 566.2,264.8 566.2,265.8 566.2,266.8 566.2,267.8 566.2,268.8 566.2,269.8 566.2,270.8 566.2,271.8 566.2,272.8 566.2,273.8 566.2,274.8 566.2,275.8 566.2,276.8 566.2,277.8 566.2,278.8 566.2,279.8 566.2,280.8 566.2,281.8 566.2,282.8 566.2,283.8 566.2,284.8 566.2,285.8 566.2,286.8 566.2,287.8 566.2,288.8 566.2,289.8 566.2,290.8 566.2,291.8 566.2,292.8 566.3,293.8 566.3,294.8 566.3,295.8 566.4,296.8 566.5,297.8 566.6,298.8 566.7,299.8 566.8,300.8 567.0,301.8 567.3,302.8 567.6,303.8 568.0,304.8 568.5,305.8 569.1,306.8 569.8,307.8 570.7,308.8 571.7,309.8 572.9,310.8 574.3,311.8 575.8,312.8 577.6,313.8 579.5,314.8 581.7,315.8 584.0,316.8 586.5,317.8 589.1,318.8 591.8,319.8 594.5,320.8 597.3,321.8 600.0,322.8 602.6,323.8 605.1,324.8 607.3,325.8 609.3,326.8 611.0,327.8 612.3,328.8 613.2,329.8 613.6,330.8 613.7,331.8 613.3,332.8 612.4,333.8 611.2,334.8 609.6,335.8 607.7,336.8 605.5,337.8 603.1,338.8 600.5,339.8 597.8,340.8 595.0,341.8 592.2,342.8 589.5,343.8 586.9,344.8 584.4,345.8 582.1,346.8 579.9,347.8 577.9,348.8 576.1,349.8 574.5,350.8 573.1,351.8 571.9,352.8 570.9,353.8 570.0,354.8 569.2,355.8 568.6,356.8 568.1,357.8 567.7,358.8 567.3,359.8 567.1,360.8 566.9,361.8 566.7,362.8 566.6,363.8 566.5,364.8 566.4,365.8 566.3,366.8 566.3,367.8 566.3,368.8 566.3,369.8 566.2,370.8 566.2,371.8 566.2,372.8 566.2,373.8 566.2,374.8 566.2,375.8 566.2,376.8 566.2,377.8 566.2,378.8 566.2,379.8 566.2,380.8 566.2,381.8 566.2,382.8 566.2,383.8 566.2,384.8 566.2,385.8 566.2,386.8 566.2,387.8 566.2,388.8 566.2,389.8 566.2,390.8 566.2,391.8" fill="none" stroke="#111" stroke-width="1.25"/>
<path d="M566.2,250.8 566.2,251.8 566.2,252.8 566.2,253.8 566.2,254.8 566.2,255.8 566.2,256.8 566.2,257.8 566.2,258.8 566.2,259.8 566.2,260.8 566.2,261.8 566.2,262.8 566.2,263.8 566.2,264.8 566.2,265.8 566.2,266.8 566.2,267.8 566.2,268.8 566.2,269.8 566.2,270.8 566.2,271.8 566.2,272.8 566.2,273.8 566.2,274.8 566.2,275.8 566.2,276.8 566.2,277.8 566.2,278.8 566.2,279.8 566.2,280.8 566.2,281.8 566.2,282.8 566.2,283.8 566.2,284.8 566.2,285.8 566.2,286.8 566.2,287.8 566.2,288.8 566.2,289.8 566.2,290.8 566.2,291.8 566.2,292.8 566.2,293.8 566.2,294.8 566.2,295.8 566.2,296.8 566.3,297.8 566.3,298.8 566.4,299.8 566.5,300.8 566.6,301.8 566.9,302.8 567.2,303.8 567.6,304.8 568.1,305.8 568.7,306.8 569.2,307.8 569.8,308.8 570.2,309.8 570.6,310.8 570.7,311.8 570.6,312.8 570.4,313.8 570.0,314.8 569.5,315.8 568.9,316.8 568.3,317.8 567.8,318.8 567.4,319.8 567.0,320.8 566.7,321.8 566.5,322.8 566.4,323.8 566.3,324.8 566.3,325.8 566.2,326.8 566.2,327.8 566.2,328.8 566.2,329.8 566.2,330.8 566.2,331.8 566.2,332.8 566.2,333.8 566.2,334.8 566.2,335.8 566.2,336.8 566.2,337.8 566.2,338.8 566.2,339.8 566.2,340.8 566.2,341.8 566.2,342.8 566.2,343.8 566.2,344.8 566.2,345.8 566.2,346.8 566.2,347.8 566.2,348.8 566.2,349.8 566.2,350.8 566.2,351.8 566.2,352.8 566.2,353.8 566.2,354.8 566.2,355.8 566.2,356.8 566.2,357.8 566.2,358.8 566.2,359.8 566.2,360.8 566.2,361.8 566.2,362.8 566.2,363.8 566.2,364.8 566.2,365.8 566.2,366.8 566.2,367.8 566.2,368.8 566.2,369.8 566.2,370.8 566.2,371.8 566.2,372.8 566.2,373.8 566.2,374.8 566.2,375.8 566.2,376.8 566.2,377.8 566.2,378.8 566.2,379.8 566.2,380.8 566.2,381.8 566.2,382.8 566.2,383.8 566.2,384.8 566.2,385.8 566.2,386.8 566.2,387.8 566.2,388.8 566.2,389.8 566.2,390.8 566.2,391.8" fill="none" stroke="#111" stroke-width="1.25"/>
</g>
<clipPath id="hclipf"><rect x="890.5" y="250.8" width="54.1" height="141.2"/></clipPath>
<g clip-path="url(#hclipf)">
<path d="M890.5,382.5h3.3v4.41h-3.3M890.5,378.1h4.3v4.41h-4.3M890.5,373.6h3.0v4.41h-3.0M890.5,369.2h13.2v4.41h-13.2M890.5,364.8h13.8v4.41h-13.8M890.5,360.4h16.7v4.41h-16.7M890.5,356.0h17.3v4.41h-17.3M890.5,351.6h13.9v4.41h-13.9M890.5,347.2h15.9v4.41h-15.9M890.5,342.8h21.8v4.41h-21.8M890.5,338.3h36.8v4.41h-36.8M890.5,333.9h42.5v4.41h-42.5M890.5,329.5h46.6v4.41h-46.6M890.5,325.1h39.8v4.41h-39.8M890.5,320.7h27.9v4.41h-27.9M890.5,316.3h15.0v4.41h-15.0M890.5,311.9h6.3v4.41h-6.3M890.5,307.5h0.5v4.41h-0.5" fill="#fff" stroke="#8c8c8c" stroke-width="0.9"/>
<path d="M890.5,250.8 890.5,251.8 890.5,252.8 890.5,253.8 890.5,254.8 890.5,255.8 890.5,256.8 890.5,257.8 890.5,258.8 890.5,259.8 890.5,260.8 890.5,261.8 890.5,262.8 890.5,263.8 890.5,264.8 890.5,265.8 890.5,266.8 890.5,267.8 890.5,268.8 890.5,269.8 890.5,270.8 890.5,271.8 890.5,272.8 890.5,273.8 890.5,274.8 890.5,275.8 890.5,276.8 890.5,277.8 890.5,278.8 890.5,279.8 890.5,280.8 890.5,281.8 890.5,282.8 890.5,283.8 890.5,284.8 890.5,285.8 890.5,286.8 890.5,287.8 890.5,288.8 890.5,289.8 890.5,290.8 890.5,291.8 890.5,292.8 890.5,293.8 890.5,294.8 890.5,295.8 890.5,296.8 890.5,297.8 890.5,298.8 890.6,299.8 890.6,300.8 890.6,301.8 890.7,302.8 890.8,303.8 890.9,304.8 891.1,305.8 891.3,306.8 891.6,307.8 892.0,308.8 892.5,309.8 893.1,310.8 893.9,311.8 894.8,312.8 896.0,313.8 897.4,314.8 899.0,315.8 900.9,316.8 903.1,317.8 905.5,318.8 908.2,319.8 911.0,320.8 914.1,321.8 917.2,322.8 920.4,323.8 923.5,324.8 926.5,325.8 929.4,326.8 931.9,327.8 934.0,328.8 935.7,329.8 936.9,330.8 937.5,331.8 937.7,332.8 937.2,333.8 936.3,334.8 934.9,335.8 933.1,336.8 931.0,337.8 928.6,338.8 926.2,339.8 923.6,340.8 921.1,341.8 918.8,342.8 916.6,343.8 914.6,344.8 912.8,345.8 911.3,346.8 910.1,347.8 909.1,348.8 908.4,349.8 907.8,350.8 907.5,351.8 907.3,352.8 907.2,353.8 907.1,354.8 907.1,355.8 907.1,356.8 907.1,357.8 907.0,358.8 906.8,359.8 906.6,360.8 906.3,361.8 905.9,362.8 905.5,363.8 904.9,364.8 904.3,365.8 903.6,366.8 902.9,367.8 902.1,368.8 901.3,369.8 900.5,370.8 899.7,371.8 898.8,372.8 898.1,373.8 897.3,374.8 896.6,375.8 895.9,376.8 895.2,377.8 894.6,378.8 894.1,379.8 893.6,380.8 893.1,381.8 892.7,382.8 892.4,383.8 892.1,384.8 891.8,385.8 891.6,386.8 891.4,387.8 891.2,388.8 891.1,389.8 891.0,390.8 890.9,391.8" fill="none" stroke="#111" stroke-width="1.25"/>
<path d="M890.5,250.8 890.5,251.8 890.5,252.8 890.5,253.8 890.5,254.8 890.5,255.8 890.5,256.8 890.5,257.8 890.5,258.8 890.5,259.8 890.5,260.8 890.5,261.8 890.5,262.8 890.5,263.8 890.5,264.8 890.5,265.8 890.5,266.8 890.5,267.8 890.5,268.8 890.5,269.8 890.5,270.8 890.5,271.8 890.5,272.8 890.5,273.8 890.5,274.8 890.5,275.8 890.5,276.8 890.5,277.8 890.5,278.8 890.5,279.8 890.5,280.8 890.5,281.8 890.5,282.8 890.5,283.8 890.5,284.8 890.5,285.8 890.5,286.8 890.5,287.8 890.5,288.8 890.5,289.8 890.5,290.8 890.5,291.8 890.5,292.8 890.5,293.8 890.5,294.8 890.5,295.8 890.5,296.8 890.5,297.8 890.5,298.8 890.6,299.8 890.6,300.8 890.6,301.8 890.7,302.8 890.8,303.8 890.9,304.8 891.1,305.8 891.3,306.8 891.6,307.8 892.0,308.8 892.5,309.8 893.1,310.8 893.9,311.8 894.8,312.8 896.0,313.8 897.4,314.8 899.0,315.8 900.9,316.8 903.1,317.8 905.5,318.8 908.1,319.8 911.0,320.8 914.0,321.8 917.1,322.8 920.2,323.8 923.3,324.8 926.3,325.8 929.0,326.8 931.4,327.8 933.4,328.8 935.0,329.8 936.0,330.8 936.5,331.8 936.4,332.8 935.7,333.8 934.4,334.8 932.7,335.8 930.5,336.8 927.9,337.8 925.1,338.8 922.1,339.8 918.9,340.8 915.8,341.8 912.7,342.8 909.8,343.8 907.0,344.8 904.5,345.8 902.2,346.8 900.1,347.8 898.3,348.8 896.8,349.8 895.5,350.8 894.4,351.8 893.5,352.8 892.8,353.8 892.2,354.8 891.8,355.8 891.5,356.8 891.2,357.8 891.0,358.8 890.9,359.8 890.7,360.8 890.7,361.8 890.6,362.8 890.6,363.8 890.6,364.8 890.5,365.8 890.5,366.8 890.5,367.8 890.5,368.8 890.5,369.8 890.5,370.8 890.5,371.8 890.5,372.8 890.5,373.8 890.5,374.8 890.5,375.8 890.5,376.8 890.5,377.8 890.5,378.8 890.5,379.8 890.5,380.8 890.5,381.8 890.5,382.8 890.5,383.8 890.5,384.8 890.5,385.8 890.5,386.8 890.5,387.8 890.5,388.8 890.5,389.8 890.5,390.8 890.5,391.8" fill="none" stroke="#111" stroke-width="1.25"/>
<path d="M890.5,250.8 890.5,251.8 890.5,252.8 890.5,253.8 890.5,254.8 890.5,255.8 890.5,256.8 890.5,257.8 890.5,258.8 890.5,259.8 890.5,260.8 890.5,261.8 890.5,262.8 890.5,263.8 890.5,264.8 890.5,265.8 890.5,266.8 890.5,267.8 890.5,268.8 890.5,269.8 890.5,270.8 890.5,271.8 890.5,272.8 890.5,273.8 890.5,274.8 890.5,275.8 890.5,276.8 890.5,277.8 890.5,278.8 890.5,279.8 890.5,280.8 890.5,281.8 890.5,282.8 890.5,283.8 890.5,284.8 890.5,285.8 890.5,286.8 890.5,287.8 890.5,288.8 890.5,289.8 890.5,290.8 890.5,291.8 890.5,292.8 890.5,293.8 890.5,294.8 890.5,295.8 890.5,296.8 890.5,297.8 890.5,298.8 890.5,299.8 890.5,300.8 890.5,301.8 890.5,302.8 890.5,303.8 890.5,304.8 890.5,305.8 890.5,306.8 890.5,307.8 890.5,308.8 890.5,309.8 890.5,310.8 890.5,311.8 890.5,312.8 890.5,313.8 890.5,314.8 890.5,315.8 890.5,316.8 890.5,317.8 890.5,318.8 890.6,319.8 890.6,320.8 890.6,321.8 890.6,322.8 890.7,323.8 890.7,324.8 890.8,325.8 890.9,326.8 891.0,327.8 891.1,328.8 891.2,329.8 891.4,330.8 891.6,331.8 891.8,332.8 892.1,333.8 892.4,334.8 892.7,335.8 893.1,336.8 893.6,337.8 894.1,338.8 894.6,339.8 895.2,340.8 895.9,341.8 896.5,342.8 897.3,343.8 898.0,344.8 898.8,345.8 899.7,346.8 900.5,347.8 901.3,348.8 902.1,349.8 902.9,350.8 903.6,351.8 904.3,352.8 904.9,353.8 905.4,354.8 905.8,355.8 906.1,356.8 906.4,357.8 906.5,358.8 906.5,359.8 906.4,360.8 906.1,361.8 905.8,362.8 905.4,363.8 904.9,364.8 904.3,365.8 903.6,366.8 902.9,367.8 902.1,368.8 901.3,369.8 900.5,370.8 899.7,371.8 898.8,372.8 898.1,373.8 897.3,374.8 896.6,375.8 895.9,376.8 895.2,377.8 894.6,378.8 894.1,379.8 893.6,380.8 893.1,381.8 892.7,382.8 892.4,383.8 892.1,384.8 891.8,385.8 891.6,386.8 891.4,387.8 891.2,388.8 891.1,389.8 891.0,390.8 890.9,391.8" fill="none" stroke="#111" stroke-width="1.25"/>
</g>
<clipPath id="hclipg"><rect x="245.6" y="471.6" width="54.2" height="141.8"/></clipPath>
<g clip-path="url(#hclipg)">
<path d="M245.6,594.5h0.5v4.40h-0.5M245.6,590.1h5.5v4.40h-5.5M245.6,585.7h10.8v4.40h-10.8M245.6,581.3h19.1v4.40h-19.1M245.6,576.9h24.1v4.40h-24.1M245.6,572.5h29.9v4.40h-29.9M245.6,568.1h38.2v4.40h-38.2M245.6,563.7h41.8v4.40h-41.8M245.6,559.3h47.7v4.40h-47.7M245.6,554.9h47.7v4.40h-47.7M245.6,550.5h42.9v4.40h-42.9M245.6,546.1h35.0v4.40h-35.0M245.6,541.7h22.8v4.40h-22.8M245.6,537.3h15.7v4.40h-15.7M245.6,532.9h8.1v4.40h-8.1M245.6,528.5h3.6v4.40h-3.6" fill="#fff" stroke="#8c8c8c" stroke-width="0.9"/>
<path d="M245.6,471.6 245.6,472.6 245.6,473.6 245.6,474.6 245.6,475.6 245.6,476.6 245.6,477.6 245.6,478.6 245.6,479.6 245.6,480.6 245.6,481.6 245.6,482.6 245.6,483.6 245.6,484.6 245.6,485.6 245.6,486.6 245.6,487.6 245.6,488.6 245.6,489.6 245.6,490.6 245.6,491.6 245.6,492.6 245.6,493.6 245.6,494.6 245.6,495.6 245.6,496.6 245.6,497.6 245.6,498.6 245.6,499.6 245.6,500.6 245.6,501.6 245.6,502.6 245.6,503.6 245.6,504.6 245.6,505.6 245.6,506.6 245.6,507.6 245.6,508.6 245.6,509.6 245.6,510.6 245.6,511.6 245.6,512.6 245.6,513.6 245.6,514.6 245.6,515.6 245.6,516.6 245.6,517.6 245.6,518.6 245.7,519.6 245.7,520.6 245.7,521.6 245.8,522.6 245.9,523.6 246.1,524.6 246.3,525.6 246.5,526.6 246.9,527.6 247.4,528.6 247.9,529.6 248.6,530.6 249.5,531.6 250.4,532.6 251.5,533.6 252.7,534.6 253.9,535.6 255.3,536.6 256.7,537.6 258.1,538.6 259.6,539.6 261.2,540.6 262.9,541.6 264.7,542.6 266.6,543.6 268.6,544.6 270.8,545.6 273.1,546.6 275.5,547.6 278.0,548.6 280.6,549.6 283.1,550.6 285.6,551.6 287.8,552.6 289.9,553.6 291.7,554.6 293.3,555.6 294.4,556.6 295.2,557.6 295.7,558.6 295.7,559.6 295.5,560.6 294.9,561.6 294.1,562.6 293.0,563.6 291.7,564.6 290.3,565.6 288.8,566.6 287.3,567.6 285.7,568.6 284.2,569.6 282.6,570.6 281.1,571.6 279.6,572.6 278.1,573.6 276.6,574.6 275.1,575.6 273.7,576.6 272.1,577.6 270.6,578.6 269.0,579.6 267.4,580.6 265.8,581.6 264.2,582.6 262.5,583.6 260.9,584.6 259.3,585.6 257.8,586.6 256.3,587.6 255.0,588.6 253.7,589.6 252.5,590.6 251.4,591.6 250.5,592.6 249.7,593.6 248.9,594.6 248.3,595.6 247.8,596.6 247.3,597.6 246.9,598.6 246.6,599.6 246.4,600.6 246.2,601.6 246.1,602.6 245.9,603.6 245.8,604.6 245.8,605.6 245.7,606.6 245.7,607.6 245.7,608.6 245.6,609.6 245.6,610.6 245.6,611.6 245.6,612.6 245.6,613.6" fill="none" stroke="#111" stroke-width="1.25"/>
<path d="M245.6,471.6 245.6,472.6 245.6,473.6 245.6,474.6 245.6,475.6 245.6,476.6 245.6,477.6 245.6,478.6 245.6,479.6 245.6,480.6 245.6,481.6 245.6,482.6 245.6,483.6 245.6,484.6 245.6,485.6 245.6,486.6 245.6,487.6 245.6,488.6 245.6,489.6 245.6,490.6 245.6,491.6 245.6,492.6 245.6,493.6 245.6,494.6 245.6,495.6 245.6,496.6 245.6,497.6 245.6,498.6 245.6,499.6 245.6,500.6 245.6,501.6 245.6,502.6 245.6,503.6 245.6,504.6 245.6,505.6 245.6,506.6 245.6,507.6 245.6,508.6 245.6,509.6 245.6,510.6 245.6,511.6 245.6,512.6 245.6,513.6 245.6,514.6 245.6,515.6 245.6,516.6 245.6,517.6 245.6,518.6 245.6,519.6 245.6,520.6 245.7,521.6 245.7,522.6 245.7,523.6 245.8,524.6 245.9,525.6 246.0,526.6 246.1,527.6 246.3,528.6 246.5,529.6 246.8,530.6 247.2,531.6 247.6,532.6 248.2,533.6 248.8,534.6 249.7,535.6 250.6,536.6 251.8,537.6 253.1,538.6 254.7,539.6 256.4,540.6 258.4,541.6 260.5,542.6 262.9,543.6 265.4,544.6 268.1,545.6 270.8,546.6 273.7,547.6 276.5,548.6 279.3,549.6 282.0,550.6 284.5,551.6 286.7,552.6 288.7,553.6 290.3,554.6 291.5,555.6 292.3,556.6 292.6,557.6 292.4,558.6 291.8,559.6 290.8,560.6 289.3,561.6 287.5,562.6 285.3,563.6 282.9,564.6 280.3,565.6 277.5,566.6 274.7,567.6 271.8,568.6 269.0,569.6 266.3,570.6 263.8,571.6 261.3,572.6 259.1,573.6 257.1,574.6 255.3,575.6 253.7,576.6 252.2,577.6 251.0,578.6 250.0,579.6 249.1,580.6 248.4,581.6 247.8,582.6 247.3,583.6 246.9,584.6 246.6,585.6 246.4,586.6 246.2,587.6 246.0,588.6 245.9,589.6 245.8,590.6 245.8,591.6 245.7,592.6 245.7,593.6 245.7,594.6 245.6,595.6 245.6,596.6 245.6,597.6 245.6,598.6 245.6,599.6 245.6,600.6 245.6,601.6 245.6,602.6 245.6,603.6 245.6,604.6 245.6,605.6 245.6,606.6 245.6,607.6 245.6,608.6 245.6,609.6 245.6,610.6 245.6,611.6 245.6,612.6 245.6,613.6" fill="none" stroke="#111" stroke-width="1.25"/>
<path d="M245.6,471.6 245.6,472.6 245.6,473.6 245.6,474.6 245.6,475.6 245.6,476.6 245.6,477.6 245.6,478.6 245.6,479.6 245.6,480.6 245.6,481.6 245.6,482.6 245.6,483.6 245.6,484.6 245.6,485.6 245.6,486.6 245.6,487.6 245.6,488.6 245.6,489.6 245.6,490.6 245.6,491.6 245.6,492.6 245.6,493.6 245.6,494.6 245.6,495.6 245.6,496.6 245.6,497.6 245.6,498.6 245.6,499.6 245.6,500.6 245.6,501.6 245.6,502.6 245.6,503.6 245.6,504.6 245.6,505.6 245.6,506.6 245.6,507.6 245.6,508.6 245.6,509.6 245.6,510.6 245.6,511.6 245.6,512.6 245.6,513.6 245.6,514.6 245.6,515.6 245.6,516.6 245.6,517.6 245.6,518.6 245.6,519.6 245.6,520.6 245.6,521.6 245.6,522.6 245.6,523.6 245.6,524.6 245.6,525.6 245.6,526.6 245.6,527.6 245.6,528.6 245.6,529.6 245.6,530.6 245.6,531.6 245.6,532.6 245.6,533.6 245.6,534.6 245.6,535.6 245.6,536.6 245.6,537.6 245.6,538.6 245.6,539.6 245.6,540.6 245.6,541.6 245.6,542.6 245.6,543.6 245.7,544.6 245.7,545.6 245.7,546.6 245.8,547.6 245.8,548.6 245.9,549.6 246.0,550.6 246.2,551.6 246.4,552.6 246.6,553.6 246.9,554.6 247.3,555.6 247.7,556.6 248.2,557.6 248.8,558.6 249.5,559.6 250.3,560.6 251.2,561.6 252.2,562.6 253.3,563.6 254.5,564.6 255.7,565.6 256.9,566.6 258.2,567.6 259.5,568.6 260.7,569.6 261.9,570.6 262.9,571.6 263.8,572.6 264.6,573.6 265.1,574.6 265.5,575.6 265.6,576.6 265.5,577.6 265.2,578.6 264.6,579.6 263.9,580.6 263.0,581.6 262.0,582.6 260.8,583.6 259.6,584.6 258.3,585.6 257.1,586.6 255.8,587.6 254.6,588.6 253.4,589.6 252.3,590.6 251.3,591.6 250.4,592.6 249.6,593.6 248.9,594.6 248.3,595.6 247.7,596.6 247.3,597.6 246.9,598.6 246.6,599.6 246.4,600.6 246.2,601.6 246.1,602.6 245.9,603.6 245.8,604.6 245.8,605.6 245.7,606.6 245.7,607.6 245.7,608.6 245.6,609.6 245.6,610.6 245.6,611.6 245.6,612.6 245.6,613.6" fill="none" stroke="#111" stroke-width="1.25"/>
<path d="M245.6,471.6 245.6,472.6 245.6,473.6 245.6,474.6 245.6,475.6 245.6,476.6 245.6,477.6 245.6,478.6 245.6,479.6 245.6,480.6 245.6,481.6 245.6,482.6 245.6,483.6 245.6,484.6 245.6,485.6 245.6,486.6 245.6,487.6 245.6,488.6 245.6,489.6 245.6,490.6 245.6,491.6 245.6,492.6 245.6,493.6 245.6,494.6 245.6,495.6 245.6,496.6 245.6,497.6 245.6,498.6 245.6,499.6 245.6,500.6 245.6,501.6 245.6,502.6 245.6,503.6 245.6,504.6 245.6,505.6 245.6,506.6 245.6,507.6 245.6,508.6 245.6,509.6 245.6,510.6 245.6,511.6 245.6,512.6 245.6,513.6 245.6,514.6 245.6,515.6 245.6,516.6 245.6,517.6 245.6,518.6 245.6,519.6 245.6,520.6 245.7,521.6 245.7,522.6 245.8,523.6 245.9,524.6 246.0,525.6 246.2,526.6 246.4,527.6 246.7,528.6 247.0,529.6 247.4,530.6 247.9,531.6 248.4,532.6 248.9,533.6 249.4,534.6 249.9,535.6 250.2,536.6 250.5,537.6 250.6,538.6 250.6,539.6 250.4,540.6 250.1,541.6 249.7,542.6 249.2,543.6 248.7,544.6 248.2,545.6 247.7,546.6 247.3,547.6 246.9,548.6 246.6,549.6 246.3,550.6 246.1,551.6 245.9,552.6 245.8,553.6 245.7,554.6 245.7,555.6 245.7,556.6 245.6,557.6 245.6,558.6 245.6,559.6 245.6,560.6 245.6,561.6 245.6,562.6 245.6,563.6 245.6,564.6 245.6,565.6 245.6,566.6 245.6,567.6 245.6,568.6 245.6,569.6 245.6,570.6 245.6,571.6 245.6,572.6 245.6,573.6 245.6,574.6 245.6,575.6 245.6,576.6 245.6,577.6 245.6,578.6 245.6,579.6 245.6,580.6 245.6,581.6 245.6,582.6 245.6,583.6 245.6,584.6 245.6,585.6 245.6,586.6 245.6,587.6 245.6,588.6 245.6,589.6 245.6,590.6 245.6,591.6 245.6,592.6 245.6,593.6 245.6,594.6 245.6,595.6 245.6,596.6 245.6,597.6 245.6,598.6 245.6,599.6 245.6,600.6 245.6,601.6 245.6,602.6 245.6,603.6 245.6,604.6 245.6,605.6 245.6,606.6 245.6,607.6 245.6,608.6 245.6,609.6 245.6,610.6 245.6,611.6 245.6,612.6 245.6,613.6" fill="none" stroke="#111" stroke-width="1.25"/>
</g>
<clipPath id="hcliph"><rect x="566.2" y="471.6" width="54.4" height="141.8"/></clipPath>
<g clip-path="url(#hcliph)">
<path d="M566.2,598.9h1.3v4.40h-1.3M566.2,594.5h4.1v4.40h-4.1M566.2,590.1h4.7v4.40h-4.7M566.2,585.7h12.1v4.40h-12.1M566.2,581.3h17.8v4.40h-17.8M566.2,576.9h26.2v4.40h-26.2M566.2,572.5h29.9v4.40h-29.9M566.2,568.1h34.8v4.40h-34.8M566.2,563.7h41.4v4.40h-41.4M566.2,559.3h45.5v4.40h-45.5M566.2,554.9h52.0v4.40h-52.0M566.2,550.5h50.7v4.40h-50.7M566.2,546.1h37.5v4.40h-37.5M566.2,541.7h27.1v4.40h-27.1M566.2,537.3h17.0v4.40h-17.0M566.2,532.9h11.9v4.40h-11.9M566.2,528.5h12.1v4.40h-12.1M566.2,524.1h5.5v4.40h-5.5M566.2,519.7h2.6v4.40h-2.6" fill="#ececec" stroke="#8c8c8c" stroke-width="0.9"/>
<path d="M566.2,471.6 566.2,472.6 566.2,473.6 566.2,474.6 566.2,475.6 566.2,476.6 566.2,477.6 566.2,478.6 566.2,479.6 566.2,480.6 566.2,481.6 566.2,482.6 566.2,483.6 566.2,484.6 566.2,485.6 566.2,486.6 566.2,487.6 566.2,488.6 566.2,489.6 566.2,490.6 566.2,491.6 566.2,492.6 566.2,493.6 566.2,494.6 566.2,495.6 566.2,496.6 566.2,497.6 566.2,498.6 566.2,499.6 566.2,500.6 566.2,501.6 566.2,502.6 566.2,503.6 566.2,504.6 566.2,505.6 566.2,506.6 566.2,507.6 566.2,508.6 566.2,509.6 566.2,510.6 566.2,511.6 566.2,512.6 566.3,513.6 566.3,514.6 566.4,515.6 566.5,516.6 566.7,517.6 567.0,518.6 567.3,519.6 567.8,520.6 568.4,521.6 569.1,522.6 570.0,523.6 571.1,524.6 572.2,525.6 573.4,526.6 574.7,527.6 575.9,528.6 577.0,529.6 578.0,530.6 578.9,531.6 579.5,532.6 580.1,533.6 580.5,534.6 580.9,535.6 581.3,536.6 581.8,537.6 582.6,538.6 583.6,539.6 584.9,540.6 586.5,541.6 588.5,542.6 590.8,543.6 593.3,544.6 596.1,545.6 598.9,546.6 601.8,547.6 604.6,548.6 607.2,549.6 609.7,550.6 611.8,551.6 613.6,552.6 615.0,553.6 616.0,554.6 616.5,555.6 616.6,556.6 616.3,557.6 615.7,558.6 614.7,559.6 613.5,560.6 612.1,561.6 610.5,562.6 608.8,563.6 607.2,564.6 605.5,565.6 604.0,566.6 602.5,567.6 601.1,568.6 599.9,569.6 598.8,570.6 597.8,571.6 596.8,572.6 595.9,573.6 595.1,574.6 594.2,575.6 593.4,576.6 592.5,577.6 591.6,578.6 590.6,579.6 589.5,580.6 588.4,581.6 587.2,582.6 585.9,583.6 584.6,584.6 583.3,585.6 581.9,586.6 580.6,587.6 579.2,588.6 577.9,589.6 576.7,590.6 575.5,591.6 574.4,592.6 573.4,593.6 572.4,594.6 571.5,595.6 570.7,596.6 570.0,597.6 569.4,598.6 568.9,599.6 568.4,600.6 568.0,601.6 567.7,602.6 567.4,603.6 567.2,604.6 567.0,605.6 566.8,606.6 566.7,607.6 566.6,608.6 566.5,609.6 566.4,610.6 566.4,611.6 566.3,612.6 566.3,613.6" fill="none" stroke="#111" stroke-width="1.25"/>
<path d="M566.2,471.6 566.2,472.6 566.2,473.6 566.2,474.6 566.2,475.6 566.2,476.6 566.2,477.6 566.2,478.6 566.2,479.6 566.2,480.6 566.2,481.6 566.2,482.6 566.2,483.6 566.2,484.6 566.2,485.6 566.2,486.6 566.2,487.6 566.2,488.6 566.2,489.6 566.2,490.6 566.2,491.6 566.2,492.6 566.2,493.6 566.2,494.6 566.2,495.6 566.2,496.6 566.2,497.6 566.2,498.6 566.2,499.6 566.2,500.6 566.2,501.6 566.2,502.6 566.2,503.6 566.2,504.6 566.2,505.6 566.2,506.6 566.2,507.6 566.2,508.6 566.2,509.6 566.2,510.6 566.2,511.6 566.2,512.6 566.2,513.6 566.2,514.6 566.2,515.6 566.2,516.6 566.2,517.6 566.2,518.6 566.2,519.6 566.3,520.6 566.3,521.6 566.3,522.6 566.4,523.6 566.5,524.6 566.6,525.6 566.7,526.6 566.9,527.6 567.2,528.6 567.5,529.6 567.9,530.6 568.4,531.6 569.1,532.6 569.9,533.6 570.8,534.6 572.0,535.6 573.3,536.6 574.9,537.6 576.7,538.6 578.7,539.6 580.9,540.6 583.4,541.6 586.0,542.6 588.8,543.6 591.7,544.6 594.7,545.6 597.6,546.6 600.5,547.6 603.2,548.6 605.6,549.6 607.8,550.6 609.6,551.6 610.9,552.6 611.8,553.6 612.2,554.6 612.0,555.6 611.4,556.6 610.3,557.6 608.7,558.6 606.7,559.6 604.3,560.6 601.8,561.6 599.0,562.6 596.1,563.6 593.1,564.6 590.2,565.6 587.3,566.6 584.6,567.6 582.0,568.6 579.7,569.6 577.6,570.6 575.7,571.6 574.0,572.6 572.5,573.6 571.3,574.6 570.3,575.6 569.4,576.6 568.7,577.6 568.1,578.6 567.7,579.6 567.3,580.6 567.0,581.6 566.8,582.6 566.6,583.6 566.5,584.6 566.4,585.6 566.4,586.6 566.3,587.6 566.3,588.6 566.3,589.6 566.2,590.6 566.2,591.6 566.2,592.6 566.2,593.6 566.2,594.6 566.2,595.6 566.2,596.6 566.2,597.6 566.2,598.6 566.2,599.6 566.2,600.6 566.2,601.6 566.2,602.6 566.2,603.6 566.2,604.6 566.2,605.6 566.2,606.6 566.2,607.6 566.2,608.6 566.2,609.6 566.2,610.6 566.2,611.6 566.2,612.6 566.2,613.6" fill="none" stroke="#111" stroke-width="1.25"/>
<path d="M566.2,471.6 566.2,472.6 566.2,473.6 566.2,474.6 566.2,475.6 566.2,476.6 566.2,477.6 566.2,478.6 566.2,479.6 566.2,480.6 566.2,481.6 566.2,482.6 566.2,483.6 566.2,484.6 566.2,485.6 566.2,486.6 566.2,487.6 566.2,488.6 566.2,489.6 566.2,490.6 566.2,491.6 566.2,492.6 566.2,493.6 566.2,494.6 566.2,495.6 566.2,496.6 566.2,497.6 566.2,498.6 566.2,499.6 566.2,500.6 566.2,501.6 566.2,502.6 566.2,503.6 566.2,504.6 566.2,505.6 566.2,506.6 566.2,507.6 566.2,508.6 566.2,509.6 566.2,510.6 566.2,511.6 566.2,512.6 566.2,513.6 566.2,514.6 566.2,515.6 566.2,516.6 566.2,517.6 566.2,518.6 566.2,519.6 566.2,520.6 566.2,521.6 566.2,522.6 566.2,523.6 566.2,524.6 566.2,525.6 566.2,526.6 566.2,527.6 566.2,528.6 566.2,529.6 566.2,530.6 566.2,531.6 566.2,532.6 566.2,533.6 566.2,534.6 566.2,535.6 566.2,536.6 566.3,537.6 566.3,538.6 566.3,539.6 566.4,540.6 566.4,541.6 566.5,542.6 566.6,543.6 566.7,544.6 566.8,545.6 566.9,546.6 567.1,547.6 567.4,548.6 567.6,549.6 568.0,550.6 568.4,551.6 568.8,552.6 569.4,553.6 570.0,554.6 570.6,555.6 571.4,556.6 572.3,557.6 573.2,558.6 574.2,559.6 575.3,560.6 576.5,561.6 577.7,562.6 579.0,563.6 580.3,564.6 581.6,565.6 582.9,566.6 584.1,567.6 585.3,568.6 586.4,569.6 587.4,570.6 588.3,571.6 589.0,572.6 589.6,573.6 590.0,574.6 590.2,575.6 590.2,576.6 590.0,577.6 589.6,578.6 589.1,579.6 588.4,580.6 587.5,581.6 586.6,582.6 585.5,583.6 584.3,584.6 583.0,585.6 581.8,586.6 580.5,587.6 579.2,588.6 577.9,589.6 576.7,590.6 575.5,591.6 574.4,592.6 573.4,593.6 572.4,594.6 571.5,595.6 570.7,596.6 570.0,597.6 569.4,598.6 568.9,599.6 568.4,600.6 568.0,601.6 567.7,602.6 567.4,603.6 567.2,604.6 567.0,605.6 566.8,606.6 566.7,607.6 566.6,608.6 566.5,609.6 566.4,610.6 566.4,611.6 566.3,612.6 566.3,613.6" fill="none" stroke="#111" stroke-width="1.25"/>
<path d="M566.2,471.6 566.2,472.6 566.2,473.6 566.2,474.6 566.2,475.6 566.2,476.6 566.2,477.6 566.2,478.6 566.2,479.6 566.2,480.6 566.2,481.6 566.2,482.6 566.2,483.6 566.2,484.6 566.2,485.6 566.2,486.6 566.2,487.6 566.2,488.6 566.2,489.6 566.2,490.6 566.2,491.6 566.2,492.6 566.2,493.6 566.2,494.6 566.2,495.6 566.2,496.6 566.2,497.6 566.2,498.6 566.2,499.6 566.2,500.6 566.2,501.6 566.2,502.6 566.2,503.6 566.2,504.6 566.2,505.6 566.2,506.6 566.2,507.6 566.2,508.6 566.2,509.6 566.2,510.6 566.2,511.6 566.2,512.6 566.3,513.6 566.3,514.6 566.4,515.6 566.5,516.6 566.7,517.6 566.9,518.6 567.3,519.6 567.7,520.6 568.3,521.6 569.0,522.6 569.8,523.6 570.8,524.6 571.8,525.6 572.9,526.6 574.0,527.6 574.9,528.6 575.7,529.6 576.3,530.6 576.6,531.6 576.7,532.6 576.4,533.6 575.9,534.6 575.1,535.6 574.1,536.6 573.1,537.6 572.0,538.6 571.0,539.6 570.0,540.6 569.1,541.6 568.4,542.6 567.8,543.6 567.3,544.6 567.0,545.6 566.7,546.6 566.5,547.6 566.4,548.6 566.3,549.6 566.3,550.6 566.2,551.6 566.2,552.6 566.2,553.6 566.2,554.6 566.2,555.6 566.2,556.6 566.2,557.6 566.2,558.6 566.2,559.6 566.2,560.6 566.2,561.6 566.2,562.6 566.2,563.6 566.2,564.6 566.2,565.6 566.2,566.6 566.2,567.6 566.2,568.6 566.2,569.6 566.2,570.6 566.2,571.6 566.2,572.6 566.2,573.6 566.2,574.6 566.2,575.6 566.2,576.6 566.2,577.6 566.2,578.6 566.2,579.6 566.2,580.6 566.2,581.6 566.2,582.6 566.2,583.6 566.2,584.6 566.2,585.6 566.2,586.6 566.2,587.6 566.2,588.6 566.2,589.6 566.2,590.6 566.2,591.6 566.2,592.6 566.2,593.6 566.2,594.6 566.2,595.6 566.2,596.6 566.2,597.6 566.2,598.6 566.2,599.6 566.2,600.6 566.2,601.6 566.2,602.6 566.2,603.6 566.2,604.6 566.2,605.6 566.2,606.6 566.2,607.6 566.2,608.6 566.2,609.6 566.2,610.6 566.2,611.6 566.2,612.6 566.2,613.6" fill="none" stroke="#111" stroke-width="1.25"/>
</g>
<clipPath id="hclipi"><rect x="890.5" y="471.6" width="54.1" height="141.8"/></clipPath>
<g clip-path="url(#hclipi)">
<path d="M890.5,603.3h1.5v4.40h-1.5M890.5,598.9h6.2v4.40h-6.2M890.5,594.5h8.7v4.40h-8.7M890.5,590.1h25.3v4.40h-25.3M890.5,585.7h35.7v4.40h-35.7M890.5,581.3h42.9v4.40h-42.9M890.5,576.9h46.8v4.40h-46.8M890.5,572.5h47.5v4.40h-47.5M890.5,568.1h45.3v4.40h-45.3M890.5,563.7h43.4v4.40h-43.4M890.5,559.3h45.4v4.40h-45.4M890.5,554.9h44.7v4.40h-44.7M890.5,550.5h46.1v4.40h-46.1M890.5,546.1h44.4v4.40h-44.4M890.5,541.7h32.2v4.40h-32.2M890.5,537.3h17.9v4.40h-17.9M890.5,532.9h9.6v4.40h-9.6M890.5,528.5h2.7v4.40h-2.7M890.5,524.1h0.5v4.40h-0.5" fill="#fff" stroke="#8c8c8c" stroke-width="0.9"/>
<path d="M890.5,471.6 890.5,472.6 890.5,473.6 890.5,474.6 890.5,475.6 890.5,476.6 890.5,477.6 890.5,478.6 890.5,479.6 890.5,480.6 890.5,481.6 890.5,482.6 890.5,483.6 890.5,484.6 890.5,485.6 890.5,486.6 890.5,487.6 890.5,488.6 890.5,489.6 890.5,490.6 890.5,491.6 890.5,492.6 890.5,493.6 890.5,494.6 890.5,495.6 890.5,496.6 890.5,497.6 890.5,498.6 890.5,499.6 890.5,500.6 890.5,501.6 890.5,502.6 890.5,503.6 890.5,504.6 890.5,505.6 890.5,506.6 890.5,507.6 890.5,508.6 890.5,509.6 890.5,510.6 890.5,511.6 890.5,512.6 890.5,513.6 890.6,514.6 890.6,515.6 890.6,516.6 890.7,517.6 890.7,518.6 890.8,519.6 890.9,520.6 891.1,521.6 891.2,522.6 891.5,523.6 891.8,524.6 892.1,525.6 892.6,526.6 893.1,527.6 893.7,528.6 894.5,529.6 895.4,530.6 896.5,531.6 897.7,532.6 899.1,533.6 900.6,534.6 902.4,535.6 904.3,536.6 906.4,537.6 908.7,538.6 911.1,539.6 913.6,540.6 916.3,541.6 918.9,542.6 921.6,543.6 924.2,544.6 926.7,545.6 929.1,546.6 931.3,547.6 933.3,548.6 935.0,549.6 936.4,550.6 937.6,551.6 938.4,552.6 938.9,553.6 939.0,554.6 939.0,555.6 938.6,556.6 938.1,557.6 937.4,558.6 936.7,559.6 935.9,560.6 935.1,561.6 934.4,562.6 933.9,563.6 933.5,564.6 933.2,565.6 933.2,566.6 933.4,567.6 933.8,568.6 934.3,569.6 935.0,570.6 935.7,571.6 936.5,572.6 937.3,573.6 938.0,574.6 938.5,575.6 938.9,576.6 939.0,577.6 938.9,578.6 938.5,579.6 937.8,580.6 936.7,581.6 935.4,582.6 933.7,583.6 931.8,584.6 929.6,585.6 927.2,586.6 924.7,587.6 922.1,588.6 919.5,589.6 916.8,590.6 914.2,591.6 911.6,592.6 909.2,593.6 906.9,594.6 904.8,595.6 902.8,596.6 901.0,597.6 899.4,598.6 898.0,599.6 896.7,600.6 895.6,601.6 894.7,602.6 893.9,603.6 893.2,604.6 892.7,605.6 892.2,606.6 891.8,607.6 891.5,608.6 891.3,609.6 891.1,610.6 891.0,611.6 890.8,612.6 890.8,613.6" fill="none" stroke="#111" stroke-width="1.25"/>
<path d="M890.5,471.6 890.5,472.6 890.5,473.6 890.5,474.6 890.5,475.6 890.5,476.6 890.5,477.6 890.5,478.6 890.5,479.6 890.5,480.6 890.5,481.6 890.5,482.6 890.5,483.6 890.5,484.6 890.5,485.6 890.5,486.6 890.5,487.6 890.5,488.6 890.5,489.6 890.5,490.6 890.5,491.6 890.5,492.6 890.5,493.6 890.5,494.6 890.5,495.6 890.5,496.6 890.5,497.6 890.5,498.6 890.5,499.6 890.5,500.6 890.5,501.6 890.5,502.6 890.5,503.6 890.5,504.6 890.5,505.6 890.5,506.6 890.5,507.6 890.5,508.6 890.5,509.6 890.5,510.6 890.5,511.6 890.5,512.6 890.5,513.6 890.6,514.6 890.6,515.6 890.6,516.6 890.7,517.6 890.7,518.6 890.8,519.6 890.9,520.6 891.1,521.6 891.2,522.6 891.5,523.6 891.8,524.6 892.1,525.6 892.6,526.6 893.1,527.6 893.7,528.6 894.5,529.6 895.4,530.6 896.4,531.6 897.7,532.6 899.1,533.6 900.6,534.6 902.4,535.6 904.3,536.6 906.4,537.6 908.7,538.6 911.1,539.6 913.6,540.6 916.2,541.6 918.8,542.6 921.4,543.6 924.0,544.6 926.4,545.6 928.7,546.6 930.8,547.6 932.6,548.6 934.1,549.6 935.3,550.6 936.1,551.6 936.5,552.6 936.4,553.6 936.0,554.6 935.2,555.6 934.0,556.6 932.5,557.6 930.6,558.6 928.5,559.6 926.2,560.6 923.8,561.6 921.2,562.6 918.6,563.6 916.0,564.6 913.4,565.6 910.9,566.6 908.5,567.6 906.2,568.6 904.2,569.6 902.2,570.6 900.5,571.6 898.9,572.6 897.6,573.6 896.4,574.6 895.3,575.6 894.4,576.6 893.7,577.6 893.0,578.6 892.5,579.6 892.1,580.6 891.7,581.6 891.5,582.6 891.2,583.6 891.1,584.6 890.9,585.6 890.8,586.6 890.7,587.6 890.7,588.6 890.6,589.6 890.6,590.6 890.6,591.6 890.5,592.6 890.5,593.6 890.5,594.6 890.5,595.6 890.5,596.6 890.5,597.6 890.5,598.6 890.5,599.6 890.5,600.6 890.5,601.6 890.5,602.6 890.5,603.6 890.5,604.6 890.5,605.6 890.5,606.6 890.5,607.6 890.5,608.6 890.5,609.6 890.5,610.6 890.5,611.6 890.5,612.6 890.5,613.6" fill="none" stroke="#111" stroke-width="1.25"/>
<path d="M890.5,471.6 890.5,472.6 890.5,473.6 890.5,474.6 890.5,475.6 890.5,476.6 890.5,477.6 890.5,478.6 890.5,479.6 890.5,480.6 890.5,481.6 890.5,482.6 890.5,483.6 890.5,484.6 890.5,485.6 890.5,486.6 890.5,487.6 890.5,488.6 890.5,489.6 890.5,490.6 890.5,491.6 890.5,492.6 890.5,493.6 890.5,494.6 890.5,495.6 890.5,496.6 890.5,497.6 890.5,498.6 890.5,499.6 890.5,500.6 890.5,501.6 890.5,502.6 890.5,503.6 890.5,504.6 890.5,505.6 890.5,506.6 890.5,507.6 890.5,508.6 890.5,509.6 890.5,510.6 890.5,511.6 890.5,512.6 890.5,513.6 890.5,514.6 890.5,515.6 890.5,516.6 890.5,517.6 890.5,518.6 890.5,519.6 890.5,520.6 890.5,521.6 890.5,522.6 890.5,523.6 890.5,524.6 890.5,525.6 890.5,526.6 890.5,527.6 890.5,528.6 890.5,529.6 890.5,530.6 890.5,531.6 890.5,532.6 890.5,533.6 890.5,534.6 890.5,535.6 890.5,536.6 890.5,537.6 890.5,538.6 890.5,539.6 890.6,540.6 890.6,541.6 890.6,542.6 890.7,543.6 890.7,544.6 890.8,545.6 890.9,546.6 891.0,547.6 891.2,548.6 891.4,549.6 891.7,550.6 892.0,551.6 892.4,552.6 892.9,553.6 893.5,554.6 894.3,555.6 895.1,556.6 896.1,557.6 897.3,558.6 898.6,559.6 900.2,560.6 901.8,561.6 903.7,562.6 905.8,563.6 908.0,564.6 910.4,565.6 912.8,566.6 915.4,567.6 918.0,568.6 920.7,569.6 923.2,570.6 925.7,571.6 928.1,572.6 930.2,573.6 932.1,574.6 933.7,575.6 935.0,576.6 935.9,577.6 936.4,578.6 936.5,579.6 936.2,580.6 935.5,581.6 934.4,582.6 933.0,583.6 931.2,584.6 929.2,585.6 926.9,586.6 924.5,587.6 922.0,588.6 919.4,589.6 916.7,590.6 914.1,591.6 911.6,592.6 909.2,593.6 906.9,594.6 904.7,595.6 902.8,596.6 901.0,597.6 899.4,598.6 897.9,599.6 896.7,600.6 895.6,601.6 894.7,602.6 893.9,603.6 893.2,604.6 892.7,605.6 892.2,606.6 891.8,607.6 891.5,608.6 891.3,609.6 891.1,610.6 891.0,611.6 890.8,612.6 890.8,613.6" fill="none" stroke="#111" stroke-width="1.25"/>
</g>
<line x1="56.4" y1="132.15" x2="245.6" y2="132.15" stroke="#000" stroke-width="1.1" stroke-dasharray="1.3 2.36"/>
<line x1="56.4" y1="155.75" x2="245.6" y2="155.75" stroke="#000" stroke-width="1.1" stroke-dasharray="1.3 2.36"/>
<rect x="56.4" y="26" width="243.4" height="141.5" fill="none" stroke="#000" stroke-width="1.3"/>
<line x1="245.6" y1="26" x2="245.6" y2="167.5" stroke="#000" stroke-width="1.3"/>
<line x1="52.8" y1="155.75" x2="56.4" y2="155.75" stroke="#000" stroke-width="1.2"/>
<text x="46" y="161.35" text-anchor="end" textLength="19.5" lengthAdjust="spacingAndGlyphs">0.0</text>
<line x1="52.8" y1="132.15" x2="56.4" y2="132.15" stroke="#000" stroke-width="1.2"/>
<text x="46" y="137.75" text-anchor="end" textLength="19.5" lengthAdjust="spacingAndGlyphs">0.2</text>
<line x1="52.8" y1="108.55" x2="56.4" y2="108.55" stroke="#000" stroke-width="1.2"/>
<text x="46" y="114.15" text-anchor="end" textLength="19.5" lengthAdjust="spacingAndGlyphs">0.4</text>
<line x1="52.8" y1="84.95" x2="56.4" y2="84.95" stroke="#000" stroke-width="1.2"/>
<text x="46" y="90.55" text-anchor="end" textLength="19.5" lengthAdjust="spacingAndGlyphs">0.6</text>
<line x1="52.8" y1="61.35" x2="56.4" y2="61.35" stroke="#000" stroke-width="1.2"/>
<text x="46" y="66.95" text-anchor="end" textLength="19.5" lengthAdjust="spacingAndGlyphs">0.8</text>
<line x1="52.8" y1="37.75" x2="56.4" y2="37.75" stroke="#000" stroke-width="1.2"/>
<text x="46" y="43.35" text-anchor="end" textLength="19.5" lengthAdjust="spacingAndGlyphs">1.0</text>
<line x1="66.96" y1="167.5" x2="66.96" y2="171.3" stroke="#000" stroke-width="1.2"/>
<text x="66.96" y="190.8" text-anchor="middle" textLength="7.93" lengthAdjust="spacingAndGlyphs">0</text>
<line x1="121.09" y1="167.5" x2="121.09" y2="171.3" stroke="#000" stroke-width="1.2"/>
<text x="121.09" y="190.8" text-anchor="middle" textLength="7.93" lengthAdjust="spacingAndGlyphs">1</text>
<line x1="175.23" y1="167.5" x2="175.23" y2="171.3" stroke="#000" stroke-width="1.2"/>
<text x="175.23" y="190.8" text-anchor="middle" textLength="7.93" lengthAdjust="spacingAndGlyphs">2</text>
<line x1="229.36" y1="167.5" x2="229.36" y2="171.3" stroke="#000" stroke-width="1.2"/>
<text x="229.36" y="190.8" text-anchor="middle" textLength="7.93" lengthAdjust="spacingAndGlyphs">3</text>
<text class="L" transform="translate(13.65,97.65) rotate(-90)" text-anchor="middle" textLength="40.5" lengthAdjust="spacingAndGlyphs">FRET</text>
<text class="L" x="123.3" y="210.4" textLength="56" lengthAdjust="spacingAndGlyphs">Time (s)</text>
<text x="-2.15" y="18.6" style="font-weight:bold;font-size:25.5px">a</text>
<text class="L" x="75.8" y="44.8" textLength="62.35" lengthAdjust="spacingAndGlyphs">EF-G(wt)</text>
<text class="L" x="189.45" y="46.8" textLength="45.15" lengthAdjust="spacingAndGlyphs"><tspan font-style="italic">N</tspan>=125</text>
<line x1="377.5" y1="90.26" x2="566.2" y2="90.26" stroke="#000" stroke-width="1.1" stroke-dasharray="1.3 2.36"/>
<line x1="377.5" y1="109.14" x2="566.2" y2="109.14" stroke="#000" stroke-width="1.1" stroke-dasharray="1.3 2.36"/>
<line x1="377.5" y1="155.75" x2="566.2" y2="155.75" stroke="#000" stroke-width="1.1" stroke-dasharray="1.3 2.36"/>
<rect x="377.5" y="26" width="243.1" height="141.5" fill="none" stroke="#000" stroke-width="1.3"/>
<line x1="566.2" y1="26" x2="566.2" y2="167.5" stroke="#000" stroke-width="1.3"/>
<line x1="373.9" y1="155.75" x2="377.5" y2="155.75" stroke="#000" stroke-width="1.2"/>
<text x="367.1" y="161.35" text-anchor="end" textLength="19.5" lengthAdjust="spacingAndGlyphs">0.0</text>
<line x1="373.9" y1="132.15" x2="377.5" y2="132.15" stroke="#000" stroke-width="1.2"/>
<text x="367.1" y="137.75" text-anchor="end" textLength="19.5" lengthAdjust="spacingAndGlyphs">0.2</text>
<line x1="373.9" y1="108.55" x2="377.5" y2="108.55" stroke="#000" stroke-width="1.2"/>
<text x="367.1" y="114.15" text-anchor="end" textLength="19.5" lengthAdjust="spacingAndGlyphs">0.4</text>
<line x1="373.9" y1="84.95" x2="377.5" y2="84.95" stroke="#000" stroke-width="1.2"/>
<text x="367.1" y="90.55" text-anchor="end" textLength="19.5" lengthAdjust="spacingAndGlyphs">0.6</text>
<line x1="373.9" y1="61.35" x2="377.5" y2="61.35" stroke="#000" stroke-width="1.2"/>
<text x="367.1" y="66.95" text-anchor="end" textLength="19.5" lengthAdjust="spacingAndGlyphs">0.8</text>
<line x1="373.9" y1="37.75" x2="377.5" y2="37.75" stroke="#000" stroke-width="1.2"/>
<text x="367.1" y="43.35" text-anchor="end" textLength="19.5" lengthAdjust="spacingAndGlyphs">1.0</text>
<line x1="388.03" y1="167.5" x2="388.03" y2="171.3" stroke="#000" stroke-width="1.2"/>
<text x="388.03" y="190.8" text-anchor="middle" textLength="7.93" lengthAdjust="spacingAndGlyphs">0</text>
<line x1="442.02" y1="167.5" x2="442.02" y2="171.3" stroke="#000" stroke-width="1.2"/>
<text x="442.02" y="190.8" text-anchor="middle" textLength="7.93" lengthAdjust="spacingAndGlyphs">1</text>
<line x1="496.01" y1="167.5" x2="496.01" y2="171.3" stroke="#000" stroke-width="1.2"/>
<text x="496.01" y="190.8" text-anchor="middle" textLength="7.93" lengthAdjust="spacingAndGlyphs">2</text>
<line x1="550" y1="167.5" x2="550" y2="171.3" stroke="#000" stroke-width="1.2"/>
<text x="550" y="190.8" text-anchor="middle" textLength="7.93" lengthAdjust="spacingAndGlyphs">3</text>
<text class="L" transform="translate(337.05,97.65) rotate(-90)" text-anchor="middle" textLength="40.5" lengthAdjust="spacingAndGlyphs">FRET</text>
<text class="L" x="442.45" y="210.7" textLength="56" lengthAdjust="spacingAndGlyphs">Time (s)</text>
<text x="322.4" y="19" style="font-weight:bold;font-size:25.5px">b</text>
<text class="L" x="395" y="45.6" textLength="66.3" lengthAdjust="spacingAndGlyphs">EF-G(XL)</text>
<text class="L" x="514.5" y="46.5" textLength="43.75" lengthAdjust="spacingAndGlyphs"><tspan font-style="italic">N</tspan>=281</text>
<line x1="701.2" y1="132.15" x2="890.5" y2="132.15" stroke="#000" stroke-width="1.1" stroke-dasharray="1.3 2.36"/>
<line x1="701.2" y1="155.75" x2="890.5" y2="155.75" stroke="#000" stroke-width="1.1" stroke-dasharray="1.3 2.36"/>
<rect x="701.2" y="26" width="243.4" height="141.5" fill="none" stroke="#000" stroke-width="1.3"/>
<line x1="890.5" y1="26" x2="890.5" y2="167.5" stroke="#000" stroke-width="1.3"/>
<line x1="697.6" y1="155.75" x2="701.2" y2="155.75" stroke="#000" stroke-width="1.2"/>
<text x="690.8" y="161.35" text-anchor="end" textLength="19.5" lengthAdjust="spacingAndGlyphs">0.0</text>
<line x1="697.6" y1="132.15" x2="701.2" y2="132.15" stroke="#000" stroke-width="1.2"/>
<text x="690.8" y="137.75" text-anchor="end" textLength="19.5" lengthAdjust="spacingAndGlyphs">0.2</text>
<line x1="697.6" y1="108.55" x2="701.2" y2="108.55" stroke="#000" stroke-width="1.2"/>
<text x="690.8" y="114.15" text-anchor="end" textLength="19.5" lengthAdjust="spacingAndGlyphs">0.4</text>
<line x1="697.6" y1="84.95" x2="701.2" y2="84.95" stroke="#000" stroke-width="1.2"/>
<text x="690.8" y="90.55" text-anchor="end" textLength="19.5" lengthAdjust="spacingAndGlyphs">0.6</text>
<line x1="697.6" y1="61.35" x2="701.2" y2="61.35" stroke="#000" stroke-width="1.2"/>
<text x="690.8" y="66.95" text-anchor="end" textLength="19.5" lengthAdjust="spacingAndGlyphs">0.8</text>
<line x1="697.6" y1="37.75" x2="701.2" y2="37.75" stroke="#000" stroke-width="1.2"/>
<text x="690.8" y="43.35" text-anchor="end" textLength="19.5" lengthAdjust="spacingAndGlyphs">1.0</text>
<line x1="734.33" y1="167.5" x2="734.33" y2="171.3" stroke="#000" stroke-width="1.2"/>
<text x="734.33" y="190.8" text-anchor="middle" textLength="7.93" lengthAdjust="spacingAndGlyphs">0</text>
<line x1="781.65" y1="167.5" x2="781.65" y2="171.3" stroke="#000" stroke-width="1.2"/>
<text x="781.65" y="190.8" text-anchor="middle" textLength="7.93" lengthAdjust="spacingAndGlyphs">1</text>
<line x1="828.98" y1="167.5" x2="828.98" y2="171.3" stroke="#000" stroke-width="1.2"/>
<text x="828.98" y="190.8" text-anchor="middle" textLength="7.93" lengthAdjust="spacingAndGlyphs">2</text>
<line x1="876.3" y1="167.5" x2="876.3" y2="171.3" stroke="#000" stroke-width="1.2"/>
<text x="876.3" y="190.8" text-anchor="middle" textLength="7.93" lengthAdjust="spacingAndGlyphs">3</text>
<text class="L" transform="translate(659.45,95.67) rotate(-90)" text-anchor="middle" textLength="41.55" lengthAdjust="spacingAndGlyphs">FRET</text>
<text class="L" x="781.65" y="210.7" textLength="56.6" lengthAdjust="spacingAndGlyphs">Time (s)</text>
<text x="645.25" y="19" style="font-weight:bold;font-size:25.5px">c</text>
<text class="L" x="720.45" y="45.9" textLength="140.3" lengthAdjust="spacingAndGlyphs">EF-G(XL) + 2-ME(1)</text>
<text class="L" x="836.1" y="78" textLength="45.15" lengthAdjust="spacingAndGlyphs"><tspan font-style="italic">N</tspan>=322</text>
<line x1="56.4" y1="356.94" x2="245.6" y2="356.94" stroke="#000" stroke-width="1.1" stroke-dasharray="1.3 2.36"/>
<line x1="56.4" y1="380.6" x2="245.6" y2="380.6" stroke="#000" stroke-width="1.1" stroke-dasharray="1.3 2.36"/>
<rect x="56.4" y="250.8" width="243.4" height="141.2" fill="none" stroke="#000" stroke-width="1.3"/>
<line x1="245.6" y1="250.8" x2="245.6" y2="392" stroke="#000" stroke-width="1.3"/>
<line x1="52.8" y1="380.6" x2="56.4" y2="380.6" stroke="#000" stroke-width="1.2"/>
<text x="46" y="386.2" text-anchor="end" textLength="19.5" lengthAdjust="spacingAndGlyphs">0.0</text>
<line x1="52.8" y1="356.94" x2="56.4" y2="356.94" stroke="#000" stroke-width="1.2"/>
<text x="46" y="362.54" text-anchor="end" textLength="19.5" lengthAdjust="spacingAndGlyphs">0.2</text>
<line x1="52.8" y1="333.28" x2="56.4" y2="333.28" stroke="#000" stroke-width="1.2"/>
<text x="46" y="338.88" text-anchor="end" textLength="19.5" lengthAdjust="spacingAndGlyphs">0.4</text>
<line x1="52.8" y1="309.62" x2="56.4" y2="309.62" stroke="#000" stroke-width="1.2"/>
<text x="46" y="315.22" text-anchor="end" textLength="19.5" lengthAdjust="spacingAndGlyphs">0.6</text>
<line x1="52.8" y1="285.96" x2="56.4" y2="285.96" stroke="#000" stroke-width="1.2"/>
<text x="46" y="291.56" text-anchor="end" textLength="19.5" lengthAdjust="spacingAndGlyphs">0.8</text>
<line x1="52.8" y1="262.3" x2="56.4" y2="262.3" stroke="#000" stroke-width="1.2"/>
<text x="46" y="267.9" text-anchor="end" textLength="19.5" lengthAdjust="spacingAndGlyphs">1.0</text>
<line x1="66.96" y1="392" x2="66.96" y2="395.8" stroke="#000" stroke-width="1.2"/>
<text x="66.96" y="415.3" text-anchor="middle" textLength="7.93" lengthAdjust="spacingAndGlyphs">0</text>
<line x1="121.09" y1="392" x2="121.09" y2="395.8" stroke="#000" stroke-width="1.2"/>
<text x="121.09" y="415.3" text-anchor="middle" textLength="7.93" lengthAdjust="spacingAndGlyphs">1</text>
<line x1="175.23" y1="392" x2="175.23" y2="395.8" stroke="#000" stroke-width="1.2"/>
<text x="175.23" y="415.3" text-anchor="middle" textLength="7.93" lengthAdjust="spacingAndGlyphs">2</text>
<line x1="229.36" y1="392" x2="229.36" y2="395.8" stroke="#000" stroke-width="1.2"/>
<text x="229.36" y="415.3" text-anchor="middle" textLength="7.93" lengthAdjust="spacingAndGlyphs">3</text>
<text class="L" transform="translate(13.85,322.15) rotate(-90)" text-anchor="middle" textLength="39.9" lengthAdjust="spacingAndGlyphs">FRET</text>
<text class="L" x="127.05" y="435.2" textLength="56.6" lengthAdjust="spacingAndGlyphs">Time (s)</text>
<text x="0.1" y="244.4" style="font-weight:bold;font-size:25.5px">d</text>
<text class="L" x="78.45" y="271.6" textLength="140.9" lengthAdjust="spacingAndGlyphs">EF-G(XL) + 2-ME(2)</text>
<text class="L" x="193.7" y="299.5" textLength="44.55" lengthAdjust="spacingAndGlyphs"><tspan font-style="italic">N</tspan>=191</text>
<line x1="377.5" y1="314.94" x2="566.2" y2="314.94" stroke="#000" stroke-width="1.1" stroke-dasharray="1.3 2.36"/>
<line x1="377.5" y1="333.28" x2="566.2" y2="333.28" stroke="#000" stroke-width="1.1" stroke-dasharray="1.3 2.36"/>
<line x1="377.5" y1="380.6" x2="566.2" y2="380.6" stroke="#000" stroke-width="1.1" stroke-dasharray="1.3 2.36"/>
<rect x="377.5" y="250.8" width="243.1" height="141.2" fill="none" stroke="#000" stroke-width="1.3"/>
<line x1="566.2" y1="250.8" x2="566.2" y2="392" stroke="#000" stroke-width="1.3"/>
<line x1="373.9" y1="380.6" x2="377.5" y2="380.6" stroke="#000" stroke-width="1.2"/>
<text x="367.1" y="386.2" text-anchor="end" textLength="19.5" lengthAdjust="spacingAndGlyphs">0.0</text>
<line x1="373.9" y1="356.94" x2="377.5" y2="356.94" stroke="#000" stroke-width="1.2"/>
<text x="367.1" y="362.54" text-anchor="end" textLength="19.5" lengthAdjust="spacingAndGlyphs">0.2</text>
<line x1="373.9" y1="333.28" x2="377.5" y2="333.28" stroke="#000" stroke-width="1.2"/>
<text x="367.1" y="338.88" text-anchor="end" textLength="19.5" lengthAdjust="spacingAndGlyphs">0.4</text>
<line x1="373.9" y1="309.62" x2="377.5" y2="309.62" stroke="#000" stroke-width="1.2"/>
<text x="367.1" y="315.22" text-anchor="end" textLength="19.5" lengthAdjust="spacingAndGlyphs">0.6</text>
<line x1="373.9" y1="285.96" x2="377.5" y2="285.96" stroke="#000" stroke-width="1.2"/>
<text x="367.1" y="291.56" text-anchor="end" textLength="19.5" lengthAdjust="spacingAndGlyphs">0.8</text>
<line x1="373.9" y1="262.3" x2="377.5" y2="262.3" stroke="#000" stroke-width="1.2"/>
<text x="367.1" y="267.9" text-anchor="end" textLength="19.5" lengthAdjust="spacingAndGlyphs">1.0</text>
<line x1="388.03" y1="392" x2="388.03" y2="395.8" stroke="#000" stroke-width="1.2"/>
<text x="388.03" y="415.3" text-anchor="middle" textLength="7.93" lengthAdjust="spacingAndGlyphs">0</text>
<line x1="442.02" y1="392" x2="442.02" y2="395.8" stroke="#000" stroke-width="1.2"/>
<text x="442.02" y="415.3" text-anchor="middle" textLength="7.93" lengthAdjust="spacingAndGlyphs">1</text>
<line x1="496.01" y1="392" x2="496.01" y2="395.8" stroke="#000" stroke-width="1.2"/>
<text x="496.01" y="415.3" text-anchor="middle" textLength="7.93" lengthAdjust="spacingAndGlyphs">2</text>
<line x1="550" y1="392" x2="550" y2="395.8" stroke="#000" stroke-width="1.2"/>
<text x="550" y="415.3" text-anchor="middle" textLength="7.93" lengthAdjust="spacingAndGlyphs">3</text>
<text class="L" transform="translate(336.9,322.95) rotate(-90)" text-anchor="middle" textLength="41.4" lengthAdjust="spacingAndGlyphs">FRET</text>
<text class="L" x="449.1" y="435.2" textLength="56.95" lengthAdjust="spacingAndGlyphs">Time (s)</text>
<text x="323.4" y="244.6" style="font-weight:bold;font-size:25.5px">e</text>
<text class="L" x="398.45" y="272.6" textLength="120.35" lengthAdjust="spacingAndGlyphs">EF-G(wt)–GTPγS</text>
<text class="L" x="511.1" y="301" textLength="45.75" lengthAdjust="spacingAndGlyphs"><tspan font-style="italic">N</tspan>=170</text>
<line x1="701.2" y1="314.71" x2="890.5" y2="314.71" stroke="#000" stroke-width="1.1" stroke-dasharray="1.3 2.36"/>
<line x1="701.2" y1="333.28" x2="890.5" y2="333.28" stroke="#000" stroke-width="1.1" stroke-dasharray="1.3 2.36"/>
<line x1="701.2" y1="356.94" x2="890.5" y2="356.94" stroke="#000" stroke-width="1.1" stroke-dasharray="1.3 2.36"/>
<line x1="701.2" y1="380.6" x2="890.5" y2="380.6" stroke="#000" stroke-width="1.1" stroke-dasharray="1.3 2.36"/>
<rect x="701.2" y="250.8" width="243.4" height="141.2" fill="none" stroke="#000" stroke-width="1.3"/>
<line x1="890.5" y1="250.8" x2="890.5" y2="392" stroke="#000" stroke-width="1.3"/>
<line x1="697.6" y1="380.6" x2="701.2" y2="380.6" stroke="#000" stroke-width="1.2"/>
<text x="690.8" y="386.2" text-anchor="end" textLength="19.5" lengthAdjust="spacingAndGlyphs">0.0</text>
<line x1="697.6" y1="356.94" x2="701.2" y2="356.94" stroke="#000" stroke-width="1.2"/>
<text x="690.8" y="362.54" text-anchor="end" textLength="19.5" lengthAdjust="spacingAndGlyphs">0.2</text>
<line x1="697.6" y1="333.28" x2="701.2" y2="333.28" stroke="#000" stroke-width="1.2"/>
<text x="690.8" y="338.88" text-anchor="end" textLength="19.5" lengthAdjust="spacingAndGlyphs">0.4</text>
<line x1="697.6" y1="309.62" x2="701.2" y2="309.62" stroke="#000" stroke-width="1.2"/>
<text x="690.8" y="315.22" text-anchor="end" textLength="19.5" lengthAdjust="spacingAndGlyphs">0.6</text>
<line x1="697.6" y1="285.96" x2="701.2" y2="285.96" stroke="#000" stroke-width="1.2"/>
<text x="690.8" y="291.56" text-anchor="end" textLength="19.5" lengthAdjust="spacingAndGlyphs">0.8</text>
<line x1="697.6" y1="262.3" x2="701.2" y2="262.3" stroke="#000" stroke-width="1.2"/>
<text x="690.8" y="267.9" text-anchor="end" textLength="19.5" lengthAdjust="spacingAndGlyphs">1.0</text>
<line x1="711.76" y1="392" x2="711.76" y2="395.8" stroke="#000" stroke-width="1.2"/>
<text x="711.76" y="415.3" text-anchor="middle" textLength="7.93" lengthAdjust="spacingAndGlyphs">0</text>
<line x1="765.92" y1="392" x2="765.92" y2="395.8" stroke="#000" stroke-width="1.2"/>
<text x="765.92" y="415.3" text-anchor="middle" textLength="7.93" lengthAdjust="spacingAndGlyphs">1</text>
<line x1="820.09" y1="392" x2="820.09" y2="395.8" stroke="#000" stroke-width="1.2"/>
<text x="820.09" y="415.3" text-anchor="middle" textLength="7.93" lengthAdjust="spacingAndGlyphs">2</text>
<line x1="874.25" y1="392" x2="874.25" y2="395.8" stroke="#000" stroke-width="1.2"/>
<text x="874.25" y="415.3" text-anchor="middle" textLength="7.93" lengthAdjust="spacingAndGlyphs">3</text>
<text class="L" transform="translate(659.25,325.97) rotate(-90)" text-anchor="middle" textLength="41.05" lengthAdjust="spacingAndGlyphs">FRET</text>
<text class="L" x="771.65" y="435.2" textLength="56.75" lengthAdjust="spacingAndGlyphs">Time (s)</text>
<text x="644.55" y="244.05" style="font-weight:bold;font-size:25.5px">f</text>
<text class="L" x="722.85" y="271.6" textLength="79.25" lengthAdjust="spacingAndGlyphs">EF-G(Δ4/5)</text>
<text class="L" x="838.7" y="297.6" textLength="45.15" lengthAdjust="spacingAndGlyphs"><tspan font-style="italic">N</tspan>=133</text>
<line x1="56.4" y1="535.73" x2="245.6" y2="535.73" stroke="#000" stroke-width="1.1" stroke-dasharray="1.3 2.36"/>
<line x1="56.4" y1="554.24" x2="245.6" y2="554.24" stroke="#000" stroke-width="1.1" stroke-dasharray="1.3 2.36"/>
<line x1="56.4" y1="577.82" x2="245.6" y2="577.82" stroke="#000" stroke-width="1.1" stroke-dasharray="1.3 2.36"/>
<line x1="56.4" y1="601.4" x2="245.6" y2="601.4" stroke="#000" stroke-width="1.1" stroke-dasharray="1.3 2.36"/>
<rect x="56.4" y="471.6" width="243.4" height="141.8" fill="none" stroke="#000" stroke-width="1.3"/>
<line x1="245.6" y1="471.6" x2="245.6" y2="613.4" stroke="#000" stroke-width="1.3"/>
<line x1="52.8" y1="601.4" x2="56.4" y2="601.4" stroke="#000" stroke-width="1.2"/>
<text x="46" y="607" text-anchor="end" textLength="19.5" lengthAdjust="spacingAndGlyphs">0.0</text>
<line x1="52.8" y1="577.82" x2="56.4" y2="577.82" stroke="#000" stroke-width="1.2"/>
<text x="46" y="583.42" text-anchor="end" textLength="19.5" lengthAdjust="spacingAndGlyphs">0.2</text>
<line x1="52.8" y1="554.24" x2="56.4" y2="554.24" stroke="#000" stroke-width="1.2"/>
<text x="46" y="559.84" text-anchor="end" textLength="19.5" lengthAdjust="spacingAndGlyphs">0.4</text>
<line x1="52.8" y1="530.66" x2="56.4" y2="530.66" stroke="#000" stroke-width="1.2"/>
<text x="46" y="536.26" text-anchor="end" textLength="19.5" lengthAdjust="spacingAndGlyphs">0.6</text>
<line x1="52.8" y1="507.08" x2="56.4" y2="507.08" stroke="#000" stroke-width="1.2"/>
<text x="46" y="512.68" text-anchor="end" textLength="19.5" lengthAdjust="spacingAndGlyphs">0.8</text>
<line x1="52.8" y1="483.5" x2="56.4" y2="483.5" stroke="#000" stroke-width="1.2"/>
<text x="46" y="489.1" text-anchor="end" textLength="19.5" lengthAdjust="spacingAndGlyphs">1.0</text>
<line x1="66.96" y1="613.4" x2="66.96" y2="617.2" stroke="#000" stroke-width="1.2"/>
<text x="66.96" y="636.7" text-anchor="middle" textLength="7.93" lengthAdjust="spacingAndGlyphs">0</text>
<line x1="121.09" y1="613.4" x2="121.09" y2="617.2" stroke="#000" stroke-width="1.2"/>
<text x="121.09" y="636.7" text-anchor="middle" textLength="7.93" lengthAdjust="spacingAndGlyphs">1</text>
<line x1="175.23" y1="613.4" x2="175.23" y2="617.2" stroke="#000" stroke-width="1.2"/>
<text x="175.23" y="636.7" text-anchor="middle" textLength="7.93" lengthAdjust="spacingAndGlyphs">2</text>
<line x1="229.36" y1="613.4" x2="229.36" y2="617.2" stroke="#000" stroke-width="1.2"/>
<text x="229.36" y="636.7" text-anchor="middle" textLength="7.93" lengthAdjust="spacingAndGlyphs">3</text>
<text class="L" transform="translate(13.85,540.25) rotate(-90)" text-anchor="middle" textLength="40.5" lengthAdjust="spacingAndGlyphs">FRET</text>
<text class="L" x="124.9" y="660.4" textLength="57.5" lengthAdjust="spacingAndGlyphs">Time (s)</text>
<text x="-0.8" y="459.65" style="font-weight:bold;font-size:25.5px">g</text>
<text class="L" x="74.85" y="494" textLength="86.65" lengthAdjust="spacingAndGlyphs">EF-G(H91A)</text>
<text class="L" x="192.5" y="518.4" textLength="44.35" lengthAdjust="spacingAndGlyphs"><tspan font-style="italic">N</tspan>=101</text>
<line x1="377.5" y1="535.73" x2="566.2" y2="535.73" stroke="#000" stroke-width="1.1" stroke-dasharray="1.3 2.36"/>
<line x1="377.5" y1="554.24" x2="566.2" y2="554.24" stroke="#000" stroke-width="1.1" stroke-dasharray="1.3 2.36"/>
<line x1="377.5" y1="577.82" x2="566.2" y2="577.82" stroke="#000" stroke-width="1.1" stroke-dasharray="1.3 2.36"/>
<line x1="377.5" y1="601.4" x2="566.2" y2="601.4" stroke="#000" stroke-width="1.1" stroke-dasharray="1.3 2.36"/>
<rect x="377.5" y="471.6" width="243.1" height="141.8" fill="none" stroke="#000" stroke-width="1.3"/>
<line x1="566.2" y1="471.6" x2="566.2" y2="613.4" stroke="#000" stroke-width="1.3"/>
<line x1="373.9" y1="601.4" x2="377.5" y2="601.4" stroke="#000" stroke-width="1.2"/>
<text x="367.1" y="607" text-anchor="end" textLength="19.5" lengthAdjust="spacingAndGlyphs">0.0</text>
<line x1="373.9" y1="577.82" x2="377.5" y2="577.82" stroke="#000" stroke-width="1.2"/>
<text x="367.1" y="583.42" text-anchor="end" textLength="19.5" lengthAdjust="spacingAndGlyphs">0.2</text>
<line x1="373.9" y1="554.24" x2="377.5" y2="554.24" stroke="#000" stroke-width="1.2"/>
<text x="367.1" y="559.84" text-anchor="end" textLength="19.5" lengthAdjust="spacingAndGlyphs">0.4</text>
<line x1="373.9" y1="530.66" x2="377.5" y2="530.66" stroke="#000" stroke-width="1.2"/>
<text x="367.1" y="536.26" text-anchor="end" textLength="19.5" lengthAdjust="spacingAndGlyphs">0.6</text>
<line x1="373.9" y1="507.08" x2="377.5" y2="507.08" stroke="#000" stroke-width="1.2"/>
<text x="367.1" y="512.68" text-anchor="end" textLength="19.5" lengthAdjust="spacingAndGlyphs">0.8</text>
<line x1="373.9" y1="483.5" x2="377.5" y2="483.5" stroke="#000" stroke-width="1.2"/>
<text x="367.1" y="489.1" text-anchor="end" textLength="19.5" lengthAdjust="spacingAndGlyphs">1.0</text>
<line x1="388.03" y1="613.4" x2="388.03" y2="617.2" stroke="#000" stroke-width="1.2"/>
<text x="388.03" y="636.7" text-anchor="middle" textLength="7.93" lengthAdjust="spacingAndGlyphs">0</text>
<line x1="442.02" y1="613.4" x2="442.02" y2="617.2" stroke="#000" stroke-width="1.2"/>
<text x="442.02" y="636.7" text-anchor="middle" textLength="7.93" lengthAdjust="spacingAndGlyphs">1</text>
<line x1="496.01" y1="613.4" x2="496.01" y2="617.2" stroke="#000" stroke-width="1.2"/>
<text x="496.01" y="636.7" text-anchor="middle" textLength="7.93" lengthAdjust="spacingAndGlyphs">2</text>
<line x1="550" y1="613.4" x2="550" y2="617.2" stroke="#000" stroke-width="1.2"/>
<text x="550" y="636.7" text-anchor="middle" textLength="7.93" lengthAdjust="spacingAndGlyphs">3</text>
<text class="L" transform="translate(336.9,540.25) rotate(-90)" text-anchor="middle" textLength="40.5" lengthAdjust="spacingAndGlyphs">FRET</text>
<text class="L" x="442.7" y="659.9" textLength="57.7" lengthAdjust="spacingAndGlyphs">Time (s)</text>
<text x="321.85" y="464.45" style="font-weight:bold;font-size:25.5px">h</text>
<text class="L" x="394.45" y="493" textLength="95.7" lengthAdjust="spacingAndGlyphs">EF-G(H583K)</text>
<text class="L" x="514.5" y="516.4" textLength="37.15" lengthAdjust="spacingAndGlyphs"><tspan font-style="italic">N</tspan>=99</text>
<line x1="701.2" y1="553.06" x2="890.5" y2="553.06" stroke="#000" stroke-width="1.1" stroke-dasharray="1.3 2.36"/>
<line x1="701.2" y1="579.59" x2="890.5" y2="579.59" stroke="#000" stroke-width="1.1" stroke-dasharray="1.3 2.36"/>
<line x1="701.2" y1="601.4" x2="890.5" y2="601.4" stroke="#000" stroke-width="1.1" stroke-dasharray="1.3 2.36"/>
<rect x="701.2" y="471.6" width="243.4" height="141.8" fill="none" stroke="#000" stroke-width="1.3"/>
<line x1="890.5" y1="471.6" x2="890.5" y2="613.4" stroke="#000" stroke-width="1.3"/>
<line x1="697.6" y1="601.4" x2="701.2" y2="601.4" stroke="#000" stroke-width="1.2"/>
<text x="690.8" y="607" text-anchor="end" textLength="19.5" lengthAdjust="spacingAndGlyphs">0.0</text>
<line x1="697.6" y1="577.82" x2="701.2" y2="577.82" stroke="#000" stroke-width="1.2"/>
<text x="690.8" y="583.42" text-anchor="end" textLength="19.5" lengthAdjust="spacingAndGlyphs">0.2</text>
<line x1="697.6" y1="554.24" x2="701.2" y2="554.24" stroke="#000" stroke-width="1.2"/>
<text x="690.8" y="559.84" text-anchor="end" textLength="19.5" lengthAdjust="spacingAndGlyphs">0.4</text>
<line x1="697.6" y1="530.66" x2="701.2" y2="530.66" stroke="#000" stroke-width="1.2"/>
<text x="690.8" y="536.26" text-anchor="end" textLength="19.5" lengthAdjust="spacingAndGlyphs">0.6</text>
<line x1="697.6" y1="507.08" x2="701.2" y2="507.08" stroke="#000" stroke-width="1.2"/>
<text x="690.8" y="512.68" text-anchor="end" textLength="19.5" lengthAdjust="spacingAndGlyphs">0.8</text>
<line x1="697.6" y1="483.5" x2="701.2" y2="483.5" stroke="#000" stroke-width="1.2"/>
<text x="690.8" y="489.1" text-anchor="end" textLength="19.5" lengthAdjust="spacingAndGlyphs">1.0</text>
<line x1="711.76" y1="613.4" x2="711.76" y2="617.2" stroke="#000" stroke-width="1.2"/>
<text x="711.76" y="636.7" text-anchor="middle" textLength="7.93" lengthAdjust="spacingAndGlyphs">0</text>
<line x1="765.92" y1="613.4" x2="765.92" y2="617.2" stroke="#000" stroke-width="1.2"/>
<text x="765.92" y="636.7" text-anchor="middle" textLength="7.93" lengthAdjust="spacingAndGlyphs">1</text>
<line x1="820.09" y1="613.4" x2="820.09" y2="617.2" stroke="#000" stroke-width="1.2"/>
<text x="820.09" y="636.7" text-anchor="middle" textLength="7.93" lengthAdjust="spacingAndGlyphs">2</text>
<line x1="874.25" y1="613.4" x2="874.25" y2="617.2" stroke="#000" stroke-width="1.2"/>
<text x="874.25" y="636.7" text-anchor="middle" textLength="7.93" lengthAdjust="spacingAndGlyphs">3</text>
<text class="L" transform="translate(659.45,539.27) rotate(-90)" text-anchor="middle" textLength="40.45" lengthAdjust="spacingAndGlyphs">FRET</text>
<text class="L" x="773.25" y="659.9" textLength="56.75" lengthAdjust="spacingAndGlyphs">Time (s)</text>
<text x="643.7" y="464.8" style="font-weight:bold;font-size:25.5px">i</text>
<text class="L" x="717.85" y="494" textLength="107.3" lengthAdjust="spacingAndGlyphs">EF-G(wt) + Fus</text>
<text class="L" x="837.5" y="518" textLength="45.75" lengthAdjust="spacingAndGlyphs"><tspan font-style="italic">N</tspan>=200</text>
</svg></body></html>
